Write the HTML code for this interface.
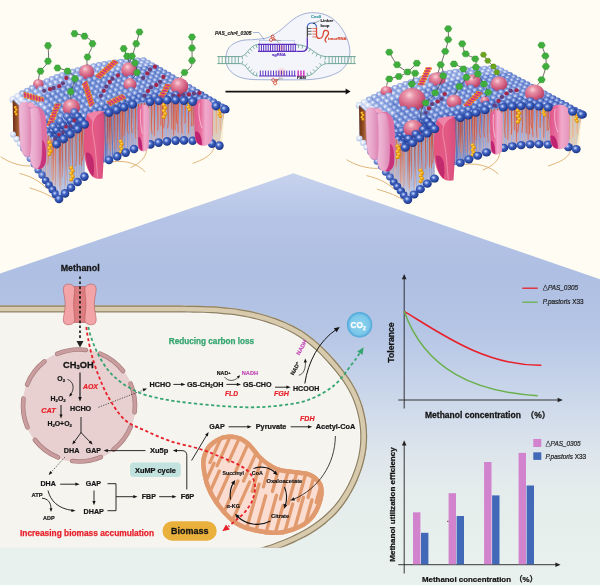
<!DOCTYPE html>
<html lang="en"><head><meta charset="utf-8"><title>Graphical abstract</title>
<style>
html,body{margin:0;padding:0;background:#fefcf3;}
body{width:600px;height:585px;overflow:hidden;}
svg{display:block;will-change:transform;font-family:"Liberation Sans","Noto Sans CJK SC",sans-serif;}
</style></head><body>
<svg width="600" height="585" viewBox="0 0 600 585">
<defs><linearGradient id="bg" gradientUnits="userSpaceOnUse" x1="0" y1="173" x2="0" y2="585"><stop offset="0" stop-color="#c7d2ed"/><stop offset="0.11" stop-color="#b5c4e6"/><stop offset="0.24" stop-color="#aebfe3"/><stop offset="0.38" stop-color="#b5c5e5"/><stop offset="0.5" stop-color="#c5d2e9"/><stop offset="0.6" stop-color="#d3ddeb"/><stop offset="0.7" stop-color="#dfe7ec"/><stop offset="0.79" stop-color="#e5edec"/><stop offset="0.91" stop-color="#e8f0ed"/><stop offset="1" stop-color="#e9f1ee"/></linearGradient></defs>
<rect width="600" height="585" fill="#fefcf3"/>
<polygon points="0,273.6 293.3,173.3 600,279.3 600,585 0,585" fill="url(#bg)"/>
<defs><path id="cellp" d="M-20,305.6C-18.45,305.6 -13.8,305.6 -10.71,305.6C-7.61,305.6 -4.51,305.6 -1.41,305.6C1.68,305.6 4.78,305.6 7.88,305.6C10.98,305.6 14.07,305.6 17.17,305.6C20.27,305.6 23.37,305.6 26.46,305.6C29.56,305.6 32.66,305.6 35.76,305.6C38.85,305.6 41.95,305.6 45.05,305.6C48.15,305.6 51.24,305.6 54.34,305.6C57.44,305.6 60.54,305.6 63.63,305.6C66.73,305.6 69.83,305.6 72.93,305.6C76.03,305.6 79.12,305.6 82.22,305.6C85.32,305.6 88.42,305.6 91.51,305.6C94.61,305.6 97.71,305.6 100.81,305.6C103.9,305.6 107,305.6 110.1,305.6C113.2,305.6 116.29,305.6 119.39,305.6C122.49,305.6 125.59,305.6 128.68,305.6C131.78,305.6 134.88,305.6 137.98,305.6C141.07,305.6 144.17,305.6 147.27,305.6C150.37,305.6 153.47,305.6 156.56,305.6C159.66,305.6 162.76,305.6 165.86,305.6C168.95,305.6 172.05,305.6 175.15,305.61C178.25,305.62 181.34,305.62 184.44,305.65C187.54,305.67 190.63,305.69 193.73,305.75C196.83,305.8 199.92,305.86 203.02,305.97C206.11,306.07 209.2,306.19 212.29,306.37C215.38,306.54 218.47,306.74 221.55,307C224.63,307.26 227.71,307.57 230.78,307.93C233.85,308.3 236.92,308.71 239.97,309.2C243.02,309.69 246.06,310.23 249.09,310.85C252.11,311.46 255.13,312.15 258.12,312.9C261.11,313.66 264.09,314.48 267.04,315.38C269.99,316.28 272.92,317.25 275.82,318.31C278.72,319.36 281.6,320.48 284.42,321.69C287.25,322.91 290.05,324.2 292.78,325.59C295.51,326.99 298.2,328.48 300.81,330.09C303.43,331.69 305.98,333.4 308.45,335.21C310.93,337.02 313.33,338.94 315.67,340.93C318.01,342.92 320.28,345.01 322.5,347.15C324.73,349.28 326.89,351.49 329.01,353.73C331.14,355.97 333.21,358.27 335.24,360.6C337.27,362.92 339.27,365.29 341.2,367.7C343.12,370.11 345.01,372.55 346.8,375.05C348.59,377.56 350.32,380.1 351.91,382.72C353.51,385.33 355.01,388.01 356.37,390.74C357.74,393.48 358.97,396.29 360.08,399.14C361.18,401.99 362.15,404.9 363,407.85C363.84,410.79 364.56,413.78 365.15,416.78C365.73,419.79 366.2,422.83 366.53,425.87C366.85,428.92 367.06,431.98 367.11,435.04C367.17,438.1 367.08,441.17 366.85,444.21C366.62,447.26 366.24,450.3 365.73,453.32C365.22,456.33 364.55,459.33 363.78,462.29C363.01,465.25 362.09,468.19 361.08,471.09C360.08,473.99 358.96,476.87 357.75,479.69C356.54,482.52 355.23,485.31 353.83,488.04C352.43,490.78 350.94,493.47 349.34,496.08C347.74,498.7 346.05,501.26 344.24,503.74C342.44,506.21 340.53,508.61 338.52,510.92C336.51,513.23 334.4,515.46 332.2,517.58C329.99,519.71 327.69,521.74 325.31,523.68C322.94,525.61 320.47,527.45 317.94,529.2C315.42,530.94 312.81,532.59 310.16,534.16C307.52,535.73 304.81,537.21 302.07,538.62C299.33,540.04 296.54,541.37 293.73,542.66C290.92,543.94 288.08,545.15 285.21,546.31C282.35,547.47 279.46,548.57 276.55,549.63C273.64,550.68 270.71,551.67 267.77,552.63C264.83,553.59 261.87,554.49 258.91,555.38C255.95,556.28 251.49,557.56 250,558L-20,600Z"/></defs>
<clipPath id="cellclip"><rect x="0" y="0" width="600" height="547.5"/></clipPath>
<g clip-path="url(#cellclip)">
<use href="#cellp" fill="#f5f4ef"/>
<clipPath id="cellin"><use href="#cellp"/></clipPath>
<g clip-path="url(#cellin)" fill="none">
<use href="#cellp" stroke="#fcfcfa" stroke-width="15"/>
<use href="#cellp" stroke="#8d8065" stroke-width="13.8"/>
<use href="#cellp" stroke="#d8caad" stroke-width="11.4"/>
<use href="#cellp" stroke="#8d8065" stroke-width="2.4"/>
</g>
</g>
<circle cx="79" cy="405.5" r="56.5" fill="#e7d0cf"/>
<path d="M57.12,353.95 A56,56 0 0 1 85.82,349.92" fill="none" stroke="#a67a7c" stroke-width="4.6" stroke-linecap="round"/>
<path d="M57.12,353.95 A56,56 0 0 1 85.82,349.92" fill="none" stroke="#c99c9d" stroke-width="3.3" stroke-linecap="round"/>
<path d="M99.98,353.58 A56,56 0 0 1 123.13,371.02" fill="none" stroke="#a67a7c" stroke-width="4.6" stroke-linecap="round"/>
<path d="M99.98,353.58 A56,56 0 0 1 123.13,371.02" fill="none" stroke="#c99c9d" stroke-width="3.3" stroke-linecap="round"/>
<path d="M130.55,383.62 A56,56 0 0 1 134.58,412.32" fill="none" stroke="#a67a7c" stroke-width="4.6" stroke-linecap="round"/>
<path d="M130.55,383.62 A56,56 0 0 1 134.58,412.32" fill="none" stroke="#c99c9d" stroke-width="3.3" stroke-linecap="round"/>
<path d="M130.92,426.48 A56,56 0 0 1 113.48,449.63" fill="none" stroke="#a67a7c" stroke-width="4.6" stroke-linecap="round"/>
<path d="M130.92,426.48 A56,56 0 0 1 113.48,449.63" fill="none" stroke="#c99c9d" stroke-width="3.3" stroke-linecap="round"/>
<path d="M100.88,457.05 A56,56 0 0 1 72.18,461.08" fill="none" stroke="#a67a7c" stroke-width="4.6" stroke-linecap="round"/>
<path d="M100.88,457.05 A56,56 0 0 1 72.18,461.08" fill="none" stroke="#c99c9d" stroke-width="3.3" stroke-linecap="round"/>
<path d="M58.02,457.42 A56,56 0 0 1 34.87,439.98" fill="none" stroke="#a67a7c" stroke-width="4.6" stroke-linecap="round"/>
<path d="M58.02,457.42 A56,56 0 0 1 34.87,439.98" fill="none" stroke="#c99c9d" stroke-width="3.3" stroke-linecap="round"/>
<path d="M27.45,427.38 A56,56 0 0 1 23.42,398.68" fill="none" stroke="#a67a7c" stroke-width="4.6" stroke-linecap="round"/>
<path d="M27.45,427.38 A56,56 0 0 1 23.42,398.68" fill="none" stroke="#c99c9d" stroke-width="3.3" stroke-linecap="round"/>
<path d="M27.08,384.52 A56,56 0 0 1 44.52,361.37" fill="none" stroke="#a67a7c" stroke-width="4.6" stroke-linecap="round"/>
<path d="M27.08,384.52 A56,56 0 0 1 44.52,361.37" fill="none" stroke="#c99c9d" stroke-width="3.3" stroke-linecap="round"/>
<path d="M201.2,465C200.78,459.08 202.03,455.75 203.5,452C204.97,448.25 206.83,445.25 210,442.5C213.17,439.75 217.92,436.67 222.5,435.5C227.08,434.33 232.92,434.33 237.5,435.5C242.08,436.67 245.83,438.92 250,442.5C254.17,446.08 257.92,452.92 262.5,457C267.08,461.08 272.08,464.83 277.5,467C282.92,469.17 289.58,469.08 295,470C300.42,470.92 305.83,470.83 310,472.5C314.17,474.17 317.72,477.08 320,480C322.28,482.92 323.53,485.83 323.7,490C323.87,494.17 322.87,500 321,505C319.13,510 316.42,515.83 312.5,520C308.58,524.17 303.33,527.5 297.5,530C291.67,532.5 284.58,534.58 277.5,535C270.42,535.42 262.08,534.17 255,532.5C247.92,530.83 241.25,529.17 235,525C228.75,520.83 222.33,513.75 217.5,507.5C212.67,501.25 208.72,494.58 206,487.5C203.28,480.42 201.62,470.92 201.2,465Z" fill="#e19a6d"/>
<clipPath id="mitoc"><path d="M201.2,465C200.78,459.08 202.03,455.75 203.5,452C204.97,448.25 206.83,445.25 210,442.5C213.17,439.75 217.92,436.67 222.5,435.5C227.08,434.33 232.92,434.33 237.5,435.5C242.08,436.67 245.83,438.92 250,442.5C254.17,446.08 257.92,452.92 262.5,457C267.08,461.08 272.08,464.83 277.5,467C282.92,469.17 289.58,469.08 295,470C300.42,470.92 305.83,470.83 310,472.5C314.17,474.17 317.72,477.08 320,480C322.28,482.92 323.53,485.83 323.7,490C323.87,494.17 322.87,500 321,505C319.13,510 316.42,515.83 312.5,520C308.58,524.17 303.33,527.5 297.5,530C291.67,532.5 284.58,534.58 277.5,535C270.42,535.42 262.08,534.17 255,532.5C247.92,530.83 241.25,529.17 235,525C228.75,520.83 222.33,513.75 217.5,507.5C212.67,501.25 208.72,494.58 206,487.5C203.28,480.42 201.62,470.92 201.2,465Z"/></clipPath>
<g clip-path="url(#mitoc)">
<path d="M201.2,465C200.78,459.08 202.03,455.75 203.5,452C204.97,448.25 206.83,445.25 210,442.5C213.17,439.75 217.92,436.67 222.5,435.5C227.08,434.33 232.92,434.33 237.5,435.5C242.08,436.67 245.83,438.92 250,442.5C254.17,446.08 257.92,452.92 262.5,457C267.08,461.08 272.08,464.83 277.5,467C282.92,469.17 289.58,469.08 295,470C300.42,470.92 305.83,470.83 310,472.5C314.17,474.17 317.72,477.08 320,480C322.28,482.92 323.53,485.83 323.7,490C323.87,494.17 322.87,500 321,505C319.13,510 316.42,515.83 312.5,520C308.58,524.17 303.33,527.5 297.5,530C291.67,532.5 284.58,534.58 277.5,535C270.42,535.42 262.08,534.17 255,532.5C247.92,530.83 241.25,529.17 235,525C228.75,520.83 222.33,513.75 217.5,507.5C212.67,501.25 208.72,494.58 206,487.5C203.28,480.42 201.62,470.92 201.2,465Z" fill="#fbdcd1" stroke="#e19a6d" stroke-width="9"/>
<line x1="229.25" y1="419.72" x2="209.95" y2="462.61" stroke="#e19a6d" stroke-width="3.3" stroke-linecap="round"/>
<line x1="192.93" y1="510.05" x2="214" y2="463.24" stroke="#e19a6d" stroke-width="3.3" stroke-linecap="round"/>
<line x1="237.52" y1="420.38" x2="217.07" y2="465.81" stroke="#e19a6d" stroke-width="3.3" stroke-linecap="round"/>
<line x1="201.46" y1="510.74" x2="219.32" y2="471.04" stroke="#e19a6d" stroke-width="3.3" stroke-linecap="round"/>
<line x1="246.57" y1="421.92" x2="228.81" y2="461.37" stroke="#e19a6d" stroke-width="3.3" stroke-linecap="round"/>
<line x1="210.59" y1="515.09" x2="228.51" y2="475.25" stroke="#e19a6d" stroke-width="3.3" stroke-linecap="round"/>
<line x1="255.19" y1="427.96" x2="235.35" y2="472.06" stroke="#e19a6d" stroke-width="3.3" stroke-linecap="round"/>
<line x1="219.69" y1="521.46" x2="237.91" y2="480.97" stroke="#e19a6d" stroke-width="3.3" stroke-linecap="round"/>
<line x1="264.46" y1="434.44" x2="243.52" y2="480.97" stroke="#e19a6d" stroke-width="3.3" stroke-linecap="round"/>
<line x1="229.09" y1="527.82" x2="249.76" y2="481.9" stroke="#e19a6d" stroke-width="3.3" stroke-linecap="round"/>
<line x1="266.42" y1="440.73" x2="252.22" y2="491.45" stroke="#e19a6d" stroke-width="3.3" stroke-linecap="round"/>
<line x1="245.27" y1="533.37" x2="259.08" y2="484.07" stroke="#e19a6d" stroke-width="3.3" stroke-linecap="round"/>
<line x1="274.82" y1="446.19" x2="263.42" y2="486.93" stroke="#e19a6d" stroke-width="3.3" stroke-linecap="round"/>
<line x1="253.76" y1="538.49" x2="265.72" y2="495.79" stroke="#e19a6d" stroke-width="3.3" stroke-linecap="round"/>
<line x1="283.94" y1="450.28" x2="272.42" y2="491.45" stroke="#e19a6d" stroke-width="3.3" stroke-linecap="round"/>
<line x1="263.44" y1="541.97" x2="276.51" y2="495.31" stroke="#e19a6d" stroke-width="3.3" stroke-linecap="round"/>
<line x1="293.09" y1="453.58" x2="280.33" y2="499.15" stroke="#e19a6d" stroke-width="3.3" stroke-linecap="round"/>
<line x1="271.96" y1="545.04" x2="283.08" y2="505.33" stroke="#e19a6d" stroke-width="3.3" stroke-linecap="round"/>
<line x1="301.41" y1="456.57" x2="288.2" y2="503.74" stroke="#e19a6d" stroke-width="3.3" stroke-linecap="round"/>
<line x1="280.72" y1="546.72" x2="292.7" y2="503.95" stroke="#e19a6d" stroke-width="3.3" stroke-linecap="round"/>
<line x1="310.63" y1="456.31" x2="298.18" y2="500.75" stroke="#e19a6d" stroke-width="3.3" stroke-linecap="round"/>
<line x1="289.79" y1="545.94" x2="303.37" y2="497.41" stroke="#e19a6d" stroke-width="3.3" stroke-linecap="round"/>
<line x1="319.82" y1="455.52" x2="308.08" y2="497.45" stroke="#e19a6d" stroke-width="3.3" stroke-linecap="round"/>
<line x1="299.31" y1="545.12" x2="312" y2="499.82" stroke="#e19a6d" stroke-width="3.3" stroke-linecap="round"/>
<line x1="329.56" y1="454.69" x2="316.19" y2="502.44" stroke="#e19a6d" stroke-width="3.3" stroke-linecap="round"/>
<line x1="308.71" y1="544.32" x2="322.92" y2="493.55" stroke="#e19a6d" stroke-width="3.3" stroke-linecap="round"/>
</g>
<rect x="72" y="286.5" width="15.5" height="36" fill="#dd7d80" stroke="#b4595e" stroke-width="0.6"/>
<path d="M66.5,284.3 C70.5,283.6 74.2,285.2 74.6,288.5 C75,293 73.6,298 73.6,304.5 C73.6,311 75,316 74.6,320.5 C74.2,323.8 70.5,325.2 66.5,324.6 C63.6,324 63,321 63.5,317.5 C64.2,313 65.2,309 65.2,304.5 C65.2,300 64.2,296 63.5,291.5 C63,288 63.6,285 66.5,284.3Z" fill="#f2a4a6" stroke="#b4595e" stroke-width="0.6"/>
<path d="M66.5,284.3 C70.5,283.6 74.2,285.2 74.6,288.5 C75,293 73.6,298 73.6,304.5 C73.6,311 75,316 74.6,320.5 C74.2,323.8 70.5,325.2 66.5,324.6 C63.6,324 63,321 63.5,317.5 C64.2,313 65.2,309 65.2,304.5 C65.2,300 64.2,296 63.5,291.5 C63,288 63.6,285 66.5,284.3Z" fill="#f2a4a6" stroke="#b4595e" stroke-width="0.6" transform="translate(159.5,0) scale(-1,1)"/>
<text x="60.7" y="271" font-size="8.89" fill="#151515" font-weight="bold" stroke="#151515" stroke-width="0.27">Methanol</text>
<line x1="80" y1="276.5" x2="80" y2="340" stroke="#111" stroke-width="1.6" stroke-dasharray="2.6,2.3"/>
<polygon points="80,347.5 76.5,341 83.5,341" fill="#222"/>
<text x="63" y="367.6" font-size="9.3" fill="#151515" font-weight="bold" stroke="#151515" stroke-width="0.28">CH<tspan dy="1.67" font-size="5.77">3</tspan><tspan dy="-1.67" font-size="9.3">&#8203;</tspan>OH</text>
<line x1="80" y1="372.5" x2="80" y2="397.82" stroke="#151515" stroke-width="1.1"/><polygon points="80,401.5 78.2,396.9 81.8,396.9" fill="#151515"/>
<text x="57.3" y="380.8" font-size="6.9" fill="#151515" font-weight="bold" stroke="#151515" stroke-width="0.21">O<tspan dy="1.24" font-size="4.28">2</tspan><tspan dy="-1.24" font-size="6.9">&#8203;</tspan></text>
<text x="50.6" y="400.6" font-size="6.9" fill="#151515" font-weight="bold" stroke="#151515" stroke-width="0.21">H<tspan dy="1.24" font-size="4.28">2</tspan><tspan dy="-1.24" font-size="6.9">&#8203;</tspan>O<tspan dy="1.24" font-size="4.28">2</tspan><tspan dy="-1.24" font-size="6.9">&#8203;</tspan></text>
<path d="M67.5,379.5 C73,381 75,388 71,394" fill="none" stroke="#151515" stroke-width="0.8"/><polygon points="69.2,396.8 70.04,392.99 72.49,394.71" fill="#151515"/>
<text x="83" y="388.7" font-size="6.92" fill="#e8202a" font-weight="bold" stroke="#e8202a" stroke-width="0.21" font-style="italic">AOX</text>
<text x="41.2" y="412.6" font-size="7.32" fill="#e8202a" font-weight="bold" stroke="#e8202a" stroke-width="0.22" font-style="italic">CAT</text>
<text x="70" y="410.8" font-size="7.2" fill="#151515" font-weight="bold" stroke="#151515" stroke-width="0.22">HCHO</text>
<line x1="61" y1="405" x2="61" y2="415.3" stroke="#151515" stroke-width="1"/><polygon points="61,418.5 59.4,414.5 62.6,414.5" fill="#151515"/>
<text x="47.4" y="425.8" font-size="6.9" fill="#151515" font-weight="bold" stroke="#151515" stroke-width="0.21">H<tspan dy="1.24" font-size="4.28">2</tspan><tspan dy="-1.24" font-size="6.9">&#8203;</tspan>O+O<tspan dy="1.24" font-size="4.28">2</tspan><tspan dy="-1.24" font-size="6.9">&#8203;</tspan></text>
<line x1="81" y1="417" x2="81" y2="433" stroke="#151515" stroke-width="0.9"/>
<line x1="81" y1="432.6" x2="74.18" y2="442.01" stroke="#151515" stroke-width="0.9"/><polygon points="72.3,444.6 73.35,440.42 75.94,442.3" fill="#151515"/>
<line x1="81" y1="432.6" x2="90.38" y2="442.3" stroke="#151515" stroke-width="0.9"/><polygon points="92.6,444.6 88.67,442.84 90.97,440.61" fill="#151515"/>
<text x="63.8" y="453.1" font-size="7.2" fill="#151515" font-weight="bold" stroke="#151515" stroke-width="0.22">DHA</text>
<text x="85.8" y="453.1" font-size="6.92" fill="#151515" font-weight="bold" stroke="#151515" stroke-width="0.21">GAP</text>
<line x1="98.5" y1="407.3" x2="143.86" y2="389.81" stroke="#151515" stroke-width="0.7" stroke-dasharray="1.2,1.3"/><polygon points="147,388.6 143.66,391.6 142.51,388.62" fill="#151515"/>
<line x1="65" y1="457" x2="50.76" y2="472.63" stroke="#151515" stroke-width="0.7" stroke-dasharray="1.2,1.3"/><polygon points="48.6,475 50.19,471.03 52.4,473.05" fill="#151515"/>
<text x="40.5" y="486.2" font-size="7.06" fill="#151515" font-weight="bold" stroke="#151515" stroke-width="0.21">DHA</text>
<line x1="60.2" y1="484.2" x2="76.24" y2="484.2" stroke="#151515" stroke-width="0.9"/><polygon points="79.6,484.2 75.4,485.8 75.4,482.6" fill="#151515"/>
<text x="85.8" y="486.2" font-size="7.01" fill="#151515" font-weight="bold" stroke="#151515" stroke-width="0.21">GAP</text>
<line x1="94" y1="490.5" x2="94" y2="501.84" stroke="#151515" stroke-width="0.9"/><polygon points="94,505.2 92.4,501 95.6,501" fill="#151515"/>
<text x="83.6" y="513.8" font-size="7.13" fill="#151515" font-weight="bold" stroke="#151515" stroke-width="0.21">DHAP</text>
<text x="31.5" y="496.8" font-size="5.76" fill="#151515" font-weight="bold" stroke="#151515" stroke-width="0.17">ATP</text>
<text x="43" y="519.6" font-size="5.49" fill="#151515" font-weight="bold" stroke="#151515" stroke-width="0.16">ADP</text>
<path d="M48,490.5 C50.5,501 58,508.5 72.5,510.5" fill="none" stroke="#151515" stroke-width="0.9"/><polygon points="75.6,510.8 71.3,512.1 71.52,508.91" fill="#151515"/>
<path d="M42,498.2 C48,498.5 51,503 51,508.5" fill="none" stroke="#151515" stroke-width="0.9"/><polygon points="51,512 49.5,508.2 52.5,508.2" fill="#151515"/>
<path d="M107.5,483.7 H116 V510.7 H107.5" fill="none" stroke="#151515" stroke-width="0.9"/>
<line x1="116" y1="496.7" x2="134.14" y2="496.7" stroke="#151515" stroke-width="0.9"/><polygon points="137.5,496.7 133.3,498.3 133.3,495.1" fill="#151515"/>
<text x="141.8" y="499.2" font-size="7" fill="#151515" font-weight="bold" stroke="#151515" stroke-width="0.21">FBP</text>
<line x1="159.2" y1="496.7" x2="173.14" y2="496.7" stroke="#151515" stroke-width="0.9"/><polygon points="176.5,496.7 172.3,498.3 172.3,495.1" fill="#151515"/>
<text x="180.7" y="499.2" font-size="7.42" fill="#151515" font-weight="bold" stroke="#151515" stroke-width="0.22">F6P</text>
<path d="M186.8,489.5 V455.5 Q186.8,450.6 182,450.6 H176" fill="none" stroke="#151515" stroke-width="0.9"/><polygon points="172.8,450.6 177,449 177,452.2" fill="#151515"/>
<text x="150" y="453.1" font-size="7.49" fill="#151515" font-weight="bold" stroke="#151515" stroke-width="0.22">Xu5p</text>
<line x1="145.5" y1="450.6" x2="106.96" y2="450.6" stroke="#151515" stroke-width="0.9"/><polygon points="103.6,450.6 107.8,449 107.8,452.2" fill="#151515"/>
<line x1="191.6" y1="460.5" x2="206.88" y2="434.89" stroke="#151515" stroke-width="0.9"/><polygon points="208.6,432 207.82,436.43 205.07,434.79" fill="#151515"/>
<rect x="130" y="462.5" width="50.8" height="14.6" rx="4" fill="#c2e2df"/>
<text x="135" y="472.6" font-size="7.4" fill="#151515" font-weight="bold" stroke="#151515" stroke-width="0.22">XuMP cycle</text>
<text x="149.6" y="387" font-size="7.2" fill="#151515" font-weight="bold" stroke="#151515" stroke-width="0.22">HCHO</text>
<line x1="173.4" y1="384.4" x2="182.04" y2="384.4" stroke="#151515" stroke-width="0.9"/><polygon points="185.4,384.4 181.2,386 181.2,382.8" fill="#151515"/>
<text x="187" y="387" font-size="7.2" fill="#151515" font-weight="bold" stroke="#151515" stroke-width="0.22">GS-CH<tspan dy="1.3" font-size="4.46">2</tspan><tspan dy="-1.3" font-size="7.2">&#8203;</tspan>OH</text>
<line x1="226.4" y1="384.4" x2="237.64" y2="384.4" stroke="#151515" stroke-width="0.9"/><polygon points="241,384.4 236.8,386 236.8,382.8" fill="#151515"/>
<text x="243" y="387" font-size="7.15" fill="#151515" font-weight="bold" stroke="#151515" stroke-width="0.21">GS-CHO</text>
<line x1="275" y1="387.2" x2="287.24" y2="387.2" stroke="#151515" stroke-width="0.9"/><polygon points="290.6,387.2 286.4,388.8 286.4,385.6" fill="#151515"/>
<text x="293" y="391.2" font-size="7.09" fill="#151515" font-weight="bold" stroke="#151515" stroke-width="0.21">HCOOH</text>
<text x="216.8" y="375.3" font-size="5.3" fill="#151515" font-weight="bold" stroke="#151515" stroke-width="0.16">NAD<tspan dy="-1.8" font-size="4">+</tspan></text>
<text x="241.8" y="375.2" font-size="5.61" fill="#c247b5" font-weight="bold" stroke="#c247b5" stroke-width="0.17">NADH</text>
<path d="M224.5,377 C228,381.5 234,381.5 238,377.5" fill="none" stroke="#151515" stroke-width="0.7"/><polygon points="240.2,375.2 238.79,378.59 236.81,376.61" fill="#151515"/>
<text x="225" y="395.7" font-size="6.69" fill="#e8202a" font-weight="bold" stroke="#e8202a" stroke-width="0.2" font-style="italic">FLD</text>
<text x="274" y="395.7" font-size="7.11" fill="#e8202a" font-weight="bold" stroke="#e8202a" stroke-width="0.21" font-style="italic">FGH</text>
<g transform="translate(293.6,375.6) rotate(-62)"><text x="0" y="0" font-size="5.4" fill="#151515" font-weight="bold" stroke="#151515" stroke-width="0.16">NAD<tspan dy="-1.8" font-size="4">+</tspan></text></g>
<g transform="translate(299.6,355.4) rotate(-62)"><text x="0" y="0" font-size="5.6" fill="#c247b5" font-weight="bold" stroke="#c247b5" stroke-width="0.17">NADH</text></g>
<path d="M298.8,375.2 C303.5,374.5 305.8,368.5 305.4,362" fill="none" stroke="#151515" stroke-width="0.7"/><polygon points="305.2,358.4 307.01,362.31 303.81,362.48" fill="#151515"/>
<path d="M304.8,383.5 C308,362 319,341 336.5,329.3" fill="none" stroke="#151515" stroke-width="1"/><polygon points="339.8,327 336.59,332.18 333.84,328.25" fill="#151515"/>
<defs><radialGradient id="co2" cx="0.5" cy="0.5" r="0.5"><stop offset="0" stop-color="#8fd2ef"/><stop offset="0.75" stop-color="#7cc8ea"/><stop offset="1" stop-color="#4da5d8"/></radialGradient></defs>
<circle cx="359.6" cy="324.8" r="12.7" fill="url(#co2)"/>
<text x="350.6" y="328.2" font-size="8.2" fill="#ffffff" font-weight="bold" stroke="#ffffff" stroke-width="0.25">CO<tspan dy="1.48" font-size="5.08">2</tspan><tspan dy="-1.48" font-size="8.2">&#8203;</tspan></text>
<text x="168.8" y="344.2" font-size="8.18" fill="#34a56f" font-weight="bold" stroke="#34a56f" stroke-width="0.25">Reducing carbon loss</text>
<text x="209.3" y="429.3" font-size="7.15" fill="#151515" font-weight="bold" stroke="#151515" stroke-width="0.21">GAP</text>
<line x1="228.6" y1="426.8" x2="248.24" y2="426.8" stroke="#151515" stroke-width="0.9"/><polygon points="251.6,426.8 247.4,428.4 247.4,425.2" fill="#151515"/>
<text x="255.8" y="429.3" font-size="7.24" fill="#151515" font-weight="bold" stroke="#151515" stroke-width="0.22">Pyruvate</text>
<line x1="290.6" y1="426.8" x2="308.84" y2="426.8" stroke="#151515" stroke-width="0.9"/><polygon points="312.2,426.8 308,428.4 308,425.2" fill="#151515"/>
<text x="315.8" y="429.3" font-size="7.35" fill="#151515" font-weight="bold" stroke="#151515" stroke-width="0.22">Acetyl-CoA</text>
<text x="300" y="421" font-size="7.06" fill="#e8202a" font-weight="bold" stroke="#e8202a" stroke-width="0.21" font-style="italic">FDH</text>
<text x="20" y="535.8" font-size="8.36" fill="#e8202a" font-weight="bold" stroke="#e8202a" stroke-width="0.25">Increasing biomass accumulation</text>
<rect x="162.5" y="521.2" width="54.2" height="19.5" rx="9.7" fill="#e9b13c"/>
<text x="171" y="534" font-size="8.97" fill="#151515" font-weight="bold" stroke="#151515" stroke-width="0.27">Biomass</text>
<path d="M86.3,327C86.58,328.83 87.05,333.17 88,338C88.95,342.83 90.08,349.33 92,356C93.92,362.67 96.5,370.67 99.5,378C102.5,385.33 105.75,393 110,400C114.25,407 119.17,414.92 125,420C130.83,425.08 137.5,427 145,430.5C152.5,434 160.83,437.92 170,441C179.17,444.08 191.33,446.25 200,449C208.67,451.75 215.33,454.75 222,457.5C228.67,460.25 235.25,462.75 240,465.5C244.75,468.25 248,470.58 250.5,474C253,477.42 254.67,481.67 255,486C255.33,490.33 254.17,495.67 252.5,500C250.83,504.33 247.92,508.5 245,512C242.08,515.5 237.75,518.58 235,521C232.25,523.42 229.58,525.58 228.5,526.5" fill="none" stroke="#e8202a" stroke-width="1.8" stroke-dasharray="3.2,2.5"/>
<polygon points="222.3,531.2 225.96,524.43 229.82,529.54" fill="#e8202a"/>
<path d="M88.3,327C88.75,328.67 89.47,332.67 91,337C92.53,341.33 94.67,347.5 97.5,353C100.33,358.5 103.92,365 108,370C112.08,375 116.67,379.17 122,383C127.33,386.83 133.67,390.42 140,393C146.33,395.58 153.33,397.03 160,398.5C166.67,399.97 170.83,400.63 180,401.8C189.17,402.97 203.33,404.58 215,405.5C226.67,406.42 239.17,407.3 250,407.3C260.83,407.3 270.33,406.72 280,405.5C289.67,404.28 299,403.33 308,400C317,396.67 326.67,391.5 334,385.5C341.33,379.5 347.75,369.33 352,364C356.25,358.67 358.25,355.25 359.5,353.5" fill="none" stroke="#34a56f" stroke-width="1.8" stroke-dasharray="3.2,2.5"/>
<polygon points="363.6,347.2 362.6,354.83 357.18,351.44" fill="#34a56f"/>
<text x="222.5" y="475" font-size="5.23" fill="#151515" font-weight="bold" stroke="#151515" stroke-width="0.16">Succinyl</text>
<text x="251.8" y="475" font-size="5.35" fill="#151515" font-weight="bold" stroke="#151515" stroke-width="0.16">CoA</text>
<text x="266.4" y="483" font-size="5.78" fill="#151515" font-weight="bold" stroke="#151515" stroke-width="0.17">Oxaloacetate</text>
<text x="271" y="517.6" font-size="5.75" fill="#151515" font-weight="bold" stroke="#151515" stroke-width="0.17">Citrate</text>
<text x="226.6" y="507.6" font-size="5.5" fill="#151515" font-weight="bold" stroke="#151515" stroke-width="0.16">α-KG</text>
<path d="M253.5,468.6 C261,465.5 270,467.5 275.5,473" fill="none" stroke="#151515" stroke-width="1.1"/><polygon points="277.8,475.2 273.04,473.61 275.72,470.64" fill="#151515"/>
<path d="M284.5,487 C287,493 287,500 285.3,505.5" fill="none" stroke="#151515" stroke-width="1.1"/><polygon points="284.2,508.8 283.55,503.83 287.39,504.93" fill="#151515"/>
<path d="M270.5,521 C259,527 246,524.5 237.5,516.5" fill="none" stroke="#151515" stroke-width="1.1"/><polygon points="235,513.8 239.67,515.64 236.84,518.47" fill="#151515"/>
<path d="M230.5,499.5 C229.5,492.5 231,486.5 233.6,482.4" fill="none" stroke="#151515" stroke-width="1.1"/><polygon points="235.2,480 234.46,484.96 231.07,482.84" fill="#151515"/>
<path d="M335.4,436 C335,465 318,489 293.5,499.3" fill="none" stroke="#151515" stroke-width="0.8"/><polygon points="290.3,500.6 293.71,497.28 295.05,500.62" fill="#151515"/>
<line x1="404.2" y1="408.5" x2="404.2" y2="278" stroke="#222" stroke-width="0.9"/>
<polygon points="404.2,274 406.5,279.2 401.9,279.2" fill="#222"/>
<line x1="398.3" y1="400" x2="559" y2="400" stroke="#222" stroke-width="0.9"/>
<polygon points="562.8,400 557.6,402.3 557.6,397.7" fill="#222"/>
<path d="M404.2,311.3 C440,333 485,366 541.3,365.2" fill="none" stroke="#e8202a" stroke-width="1.5"/>
<path d="M404.2,311.3 C425,370 475,392 537.7,395.7" fill="none" stroke="#6ab04c" stroke-width="1.5"/>
<line x1="522.3" y1="288.2" x2="537.7" y2="288.2" stroke="#e8202a" stroke-width="1.3"/>
<line x1="522.3" y1="302.2" x2="537.7" y2="302.2" stroke="#6ab04c" stroke-width="1.3"/>
<text x="542.8" y="290.4" font-size="6.4" fill="#222" font-style="italic" stroke="#222" stroke-width="0.2"><tspan font-style="normal" font-size="5.2">△</tspan>PAS_0305</text>
<text x="542.8" y="304.4" font-size="6.4" fill="#222" stroke="#222" stroke-width="0.2"><tspan font-style="italic">P.pastoris</tspan> X33</text>
<g transform="translate(394,342.5) rotate(-90)"><text x="0" y="0" font-size="8.7" fill="#151515" font-weight="bold" stroke="#151515" stroke-width="0.26" text-anchor="middle">Tolerance</text></g>
<text x="425" y="418.2" font-size="8.5" fill="#151515" font-weight="bold" stroke="#151515" stroke-width="0.26">Methanol concentration <tspan dx="2.5">（%）</tspan></text>
<line x1="404.2" y1="573.5" x2="404.2" y2="444" stroke="#222" stroke-width="0.9"/>
<polygon points="404.2,440.2 406.5,445.4 401.9,445.4" fill="#222"/>
<line x1="398.3" y1="564.7" x2="557" y2="564.7" stroke="#222" stroke-width="0.9"/>
<polygon points="560.6,564.7 555.4,567 555.4,562.4" fill="#222"/>
<rect x="413" y="512.3" width="7.4" height="52" fill="#d283cd"/>
<rect x="421" y="532.8" width="7.4" height="31.5" fill="#4169b8"/>
<rect x="448.6" y="493.2" width="7.4" height="71.1" fill="#d283cd"/>
<rect x="456.6" y="516" width="7.4" height="48.3" fill="#4169b8"/>
<rect x="484.1" y="462" width="7.4" height="102.3" fill="#d283cd"/>
<rect x="492.1" y="495.4" width="7.4" height="68.9" fill="#4169b8"/>
<rect x="518.6" y="452.9" width="7.4" height="111.4" fill="#d283cd"/>
<rect x="526.6" y="485.5" width="7.4" height="78.8" fill="#4169b8"/>
<rect x="533.3" y="439" width="8" height="8" fill="#d283cd"/>
<rect x="533.3" y="452.3" width="8" height="7.6" fill="#4169b8"/>
<text x="545.4" y="446" font-size="6.4" fill="#222" font-style="italic" stroke="#222" stroke-width="0.2"><tspan font-style="normal" font-size="5.2">△</tspan>PAS_0305</text>
<text x="545.4" y="458.8" font-size="6.4" fill="#222" stroke="#222" stroke-width="0.2"><tspan font-style="italic">P.pastoris</tspan> X33</text>
<g transform="translate(394.6,504.5) rotate(-90)"><text x="0" y="0" font-size="8.05" fill="#151515" font-weight="bold" stroke="#151515" stroke-width="0.24" text-anchor="middle">Methanol utilization efficiency</text></g>
<text x="422" y="582" font-size="7.9" fill="#151515" font-weight="bold" stroke="#151515" stroke-width="0.24">Methanol concentration <tspan dx="1.5">（%）</tspan></text>
<rect x="447" y="520.8" width="1.6" height="1" fill="#8a3a3a"/>
<path d="M225.8,60C225.72,56.25 226.55,50.7 229,47.5C231.45,44.3 236.17,42.13 240.5,40.8C244.83,39.47 250.42,40.05 255,39.5C259.58,38.95 263.83,39 268,37.5C272.17,36 276.17,33.25 280,30.5C283.83,27.75 287.33,23.67 291,21C294.67,18.33 298.25,15.88 302,14.5C305.75,13.12 309.5,12.62 313.5,12.7C317.5,12.78 322.08,13.37 326,15C329.92,16.63 333.83,19.33 337,22.5C340.17,25.67 342.9,29.75 345,34C347.1,38.25 349.02,43.67 349.6,48C350.18,52.33 349.85,56.33 348.5,60C347.15,63.67 344.75,67.3 341.5,70C338.25,72.7 333.58,74.67 329,76.2C324.42,77.73 319.17,78.6 314,79.2C308.83,79.8 305.33,79.7 298,79.8C290.67,79.9 278,79.88 270,79.8C262,79.72 255.33,79.85 250,79.3C244.67,78.75 241.42,78.05 238,76.5C234.58,74.95 231.53,72.75 229.5,70C227.47,67.25 225.88,63.75 225.8,60Z" fill="#f3f5fa" stroke="#6a7fc0" stroke-width="0.6"/>
<defs><radialGradient id="glow"><stop offset="0" stop-color="#f7a0a0" stop-opacity="0.75"/><stop offset="1" stop-color="#f7a0a0" stop-opacity="0"/></radialGradient></defs>
<circle cx="281" cy="48" r="5.5" fill="url(#glow)"/><circle cx="281.5" cy="72.5" r="5.5" fill="url(#glow)"/>
<path d="M218.92,56.6 V63.6 M222.16,56.6 V63.6 M225.41,56.6 V63.6 M228.65,56.6 V63.6 M231.89,56.6 V63.6 M235.14,56.6 V63.6 M238.38,56.6 V63.6" stroke="#6fa597" stroke-width="0.85" fill="none"/><line x1="217.3" y1="56.6" x2="240" y2="56.6" stroke="#6fa597" stroke-width="1"/><line x1="217.3" y1="63.6" x2="240" y2="63.6" stroke="#6fa597" stroke-width="1"/>
<path d="M329.07,56.6 V63.6 M332.22,56.6 V63.6 M335.36,56.6 V63.6 M338.51,56.6 V63.6 M341.65,56.6 V63.6 M344.79,56.6 V63.6 M347.94,56.6 V63.6 M351.08,56.6 V63.6 M354.23,56.6 V63.6" stroke="#6fa597" stroke-width="0.85" fill="none"/><line x1="327.5" y1="56.6" x2="355.8" y2="56.6" stroke="#6fa597" stroke-width="1"/><line x1="327.5" y1="63.6" x2="355.8" y2="63.6" stroke="#6fa597" stroke-width="1"/>
<polyline points="240,56.6 240.68,56.56 241.34,56.45 241.96,56.27 242.56,56.04 243.14,55.74 243.7,55.39 244.24,54.99 244.76,54.56 245.27,54.08 245.78,53.58 246.27,53.05 246.77,52.49 247.26,51.92 247.75,51.34 248.25,50.75 248.75,50.16 249.27,49.57 249.79,49 250.33,48.43 250.89,47.89 251.47,47.37 252.07,46.88 252.69,46.42 253.34,46 254.03,45.63 254.74,45.3 255.5,45.03 256.29,44.82 257.12,44.68 258,44.6" fill="none" stroke="#6fa597" stroke-width="1"/>
<polyline points="240,63.6 240.68,63.64 241.34,63.75 241.96,63.94 242.56,64.18 243.14,64.49 243.7,64.85 244.24,65.26 244.76,65.71 245.27,66.2 245.78,66.73 246.27,67.28 246.77,67.85 247.26,68.44 247.75,69.04 248.25,69.65 248.75,70.26 249.27,70.87 249.79,71.46 250.33,72.04 250.89,72.61 251.47,73.15 252.07,73.65 252.69,74.13 253.34,74.56 254.03,74.94 254.74,75.28 255.5,75.56 256.29,75.77 257.12,75.92 258,76" fill="none" stroke="#6fa597" stroke-width="1"/>
<path d="M241.84,56.31 L242.71,59.39 M244.98,54.36 L247.15,56.71 M247.51,51.62 L249.95,53.69 M249.96,48.82 L252.28,51.03 M252.77,46.37 L254.49,49.06 M256.16,44.86 L256.98,47.95" stroke="#6fa597" stroke-width="0.85" fill="none"/>
<path d="M241.85,63.9 L242.75,60.83 M244.99,65.94 L247.21,63.62 M247.51,68.74 L249.98,66.72 M249.94,71.63 L252.29,69.45 M252.73,74.15 L254.5,71.48 M256.14,75.73 L256.98,72.64" stroke="#6fa597" stroke-width="0.85" fill="none"/>
<polyline points="296.5,44.8 298.01,44.84 299.43,44.95 300.77,45.13 302.04,45.37 303.24,45.67 304.38,46.03 305.46,46.43 306.49,46.87 307.48,47.35 308.43,47.86 309.34,48.4 310.22,48.95 311.08,49.53 311.92,50.11 312.75,50.7 313.57,51.29 314.39,51.87 315.22,52.45 316.06,53 316.91,53.54 317.78,54.05 318.68,54.53 319.61,54.97 320.58,55.37 321.59,55.73 322.65,56.03 323.77,56.27 324.95,56.45 326.19,56.56 327.5,56.6" fill="none" stroke="#6fa597" stroke-width="1"/>
<polyline points="305.5,76 306.52,75.96 307.49,75.84 308.41,75.65 309.28,75.4 310.12,75.08 310.91,74.71 311.66,74.29 312.39,73.82 313.09,73.32 313.76,72.79 314.41,72.22 315.04,71.64 315.66,71.03 316.27,70.42 316.88,69.8 317.47,69.18 318.07,68.57 318.68,67.96 319.29,67.38 319.91,66.81 320.54,66.28 321.2,65.78 321.87,65.31 322.57,64.89 323.3,64.52 324.06,64.2 324.86,63.95 325.7,63.76 326.57,63.64 327.5,63.6" fill="none" stroke="#6fa597" stroke-width="1"/>
<path d="M298.61,44.89 L298.36,48.08 M302.78,45.56 L302.01,48.66 M306.76,47 L305.36,49.87 M310.43,49.09 L308.65,51.75 M313.89,51.52 L312.04,54.13 M317.42,53.84 L315.81,56.61 M321.26,55.61 L320.21,58.63 M325.39,56.49 L325.1,59.68" stroke="#6fa597" stroke-width="0.85" fill="none"/>
<path d="M307.66,75.81 L307.02,72.67 M311.7,74.27 L309.97,71.57 M315.1,71.58 L312.87,69.28 M318.15,68.49 L315.89,66.22 M321.42,65.62 L319.6,62.99 M325.34,63.84 L324.64,60.72" stroke="#6fa597" stroke-width="0.85" fill="none"/>
<rect x="259.5" y="40.2" width="35" height="4" fill="none" stroke="#8a9ad0" stroke-width="0.4"/>
<path d="M259.13,44.4 V51.4 M261.4,44.4 V51.4 M263.66,44.4 V51.4 M265.93,44.4 V51.4 M268.19,44.4 V51.4 M270.46,44.4 V51.4 M272.72,44.4 V51.4 M274.99,44.4 V51.4 M277.25,44.4 V51.4 M279.51,44.4 V51.4 M281.78,44.4 V51.4 M284.04,44.4 V51.4 M286.31,44.4 V51.4 M288.57,44.4 V51.4 M290.84,44.4 V51.4 M293.1,44.4 V51.4 M295.37,44.4 V51.4" stroke="#5b2fc0" stroke-width="1" fill="none"/><line x1="258" y1="44.4" x2="296.5" y2="44.4" stroke="#5b2fc0" stroke-width="1.2"/><line x1="258" y1="51.4" x2="296.5" y2="51.4" stroke="#5b2fc0" stroke-width="1.2"/>
<path d="M296.5,51.4 H302 Q307.3,51.4 307.3,46 V37.5" fill="none" stroke="#5b2fc0" stroke-width="1.3"/>
<path d="M260.32,70.6 V76 M262.96,70.6 V76 M265.61,70.6 V76 M268.25,70.6 V76 M270.89,70.6 V76 M273.54,70.6 V76 M276.18,70.6 V76 M278.82,70.6 V76 M281.46,70.6 V76 M284.11,70.6 V76 M286.75,70.6 V76 M289.39,70.6 V76 M292.04,70.6 V76 M294.68,70.6 V76" stroke="#5b2fc0" stroke-width="1" fill="none"/><line x1="259" y1="76" x2="296" y2="76" stroke="#5b2fc0" stroke-width="1.2"/>
<path d="M298.2,70.6 V76 M301,70.6 V76 M303.8,70.6 V76" stroke="#d045c8" stroke-width="1.6" fill="none"/><line x1="296.8" y1="76" x2="305.2" y2="76" stroke="#d045c8" stroke-width="1"/>
<path d="M307.3,37.5 V26.5" stroke="#222" stroke-width="1" fill="none"/>
<path d="M307.3,27.5 C307.3,21.5 316.5,21.5 316.5,27.5" stroke="#3f66c8" stroke-width="1.1" fill="none"/>
<path d="M307.6,28.5 H311.6 M307.6,31.3 H311.6 M307.6,34.1 H311.6" stroke="#222" stroke-width="0.7"/>
<path d="M312.4,28.5 H316.4 M312.4,31.3 H316.4 M312.4,34.1 H316.4 M312.4,36.9 H316.4" stroke="#d8452f" stroke-width="0.7"/>
<path d="M316.5,27.5 V35 C316.5,39.5 321,39 322.5,36.5 C324,34 322.5,31 325,30.5 C328.5,30 329.5,33 327.5,35.5 C325.5,38 323.5,40.5 326.5,42.5" stroke="#d8452f" stroke-width="1.3" fill="none"/>
<circle cx="314" cy="23.2" r="0.8" fill="#222"/><path d="M314.3,23 L319.5,20.8" stroke="#222" stroke-width="0.4"/>
<text x="311" y="17.6" font-size="4.27" fill="#3b9aa3" font-weight="bold" stroke="#3b9aa3" stroke-width="0.13">Cas9</text>
<text x="320.4" y="22.2" font-size="4.3" fill="#222" font-weight="bold" stroke="#222" stroke-width="0.13" stroke-width="0">Linker</text>
<text x="320.4" y="27" font-size="4.3" fill="#222" font-weight="bold" stroke="#222" stroke-width="0.13" stroke-width="0">loop</text>
<text x="328" y="40.4" font-size="4.24" fill="#d8452f" font-weight="bold" stroke="#d8452f" stroke-width="0.13">tracrRNA</text>
<text x="272" y="55.9" font-size="4.14" fill="#5b2fc0" font-weight="bold" stroke="#5b2fc0" stroke-width="0.12">sgRNA</text>
<text x="297" y="79.4" font-size="4.14" fill="#222" font-weight="bold" stroke="#222" stroke-width="0.12">PAM</text>
<text x="215" y="34.7" font-size="4.93" fill="#222" font-weight="bold" stroke="#222" stroke-width="0.15" font-style="italic">PAS_chr4_0305</text>
<path d="M253,32.5 H259 L264.5,40.2" fill="none" stroke="#4f6fb8" stroke-width="0.5"/>
<g transform="translate(274.5,39.5) rotate(25) scale(1)" fill="none"><path d="M-1.6,-1.2 L6.2,1.6 M-1.6,1.2 L6.2,-1.6" stroke="#9a9a9a" stroke-width="0.7"/><circle cx="-3" cy="-1.9" r="1.55" stroke="#d8452f" stroke-width="0.8"/><circle cx="-3" cy="1.9" r="1.55" stroke="#d8452f" stroke-width="0.8"/><path d="M-1.9,-1.2 L1,0 M-1.9,1.2 L1,0" stroke="#d8452f" stroke-width="0.8"/></g>
<g transform="translate(276.8,80.2) rotate(-30) scale(1)" fill="none"><path d="M-1.6,-1.2 L6.2,1.6 M-1.6,1.2 L6.2,-1.6" stroke="#9a9a9a" stroke-width="0.7"/><circle cx="-3" cy="-1.9" r="1.55" stroke="#d8452f" stroke-width="0.8"/><circle cx="-3" cy="1.9" r="1.55" stroke="#d8452f" stroke-width="0.8"/><path d="M-1.9,-1.2 L1,0 M-1.9,1.2 L1,0" stroke="#d8452f" stroke-width="0.8"/></g>
<line x1="225.5" y1="91.6" x2="347" y2="91.6" stroke="#111" stroke-width="1.8"/>
<polygon points="350.6,91.6 345.6,94.6 345.6,88.6" fill="#111"/>
<defs>
<radialGradient id="lb" cx="0.42" cy="0.4" r="0.64"><stop offset="0" stop-color="#f0f4ff"/><stop offset="0.25" stop-color="#9db2e6"/><stop offset="0.68" stop-color="#5e7ccb"/><stop offset="1" stop-color="#3856ac"/></radialGradient>
<radialGradient id="lb2" cx="0.42" cy="0.4" r="0.64"><stop offset="0" stop-color="#ffffff"/><stop offset="0.3" stop-color="#b5c5ee"/><stop offset="0.78" stop-color="#7892d6"/><stop offset="1" stop-color="#5572c2"/></radialGradient>
<radialGradient id="lb3" cx="0.42" cy="0.4" r="0.64"><stop offset="0" stop-color="#e8eeff"/><stop offset="0.2" stop-color="#90a8e4"/><stop offset="0.6" stop-color="#4867c0"/><stop offset="1" stop-color="#27449c"/></radialGradient>
<radialGradient id="lb0" cx="0.42" cy="0.4" r="0.64"><stop offset="0" stop-color="#ffffff"/><stop offset="0.4" stop-color="#dfe7f7"/><stop offset="0.85" stop-color="#b5c5ea"/><stop offset="1" stop-color="#9db0e0"/></radialGradient>
<radialGradient id="db" cx="0.4" cy="0.38" r="0.66"><stop offset="0" stop-color="#dde7ff"/><stop offset="0.13" stop-color="#9db4ee"/><stop offset="0.4" stop-color="#3f62be"/><stop offset="0.8" stop-color="#24409a"/><stop offset="1" stop-color="#142a74"/></radialGradient>
<radialGradient id="pk" cx="0.4" cy="0.3" r="0.75"><stop offset="0" stop-color="#f9d3d8"/><stop offset="0.25" stop-color="#e891a6"/><stop offset="0.65" stop-color="#d05a7c"/><stop offset="1" stop-color="#a8355c"/></radialGradient>
<radialGradient id="yb" cx="0.36" cy="0.32" r="0.7"><stop offset="0" stop-color="#ffe070"/><stop offset="0.5" stop-color="#f3a60c"/><stop offset="1" stop-color="#c67c00"/></radialGradient>
<linearGradient id="face3" x1="0" y1="0" x2="0" y2="1"><stop offset="0" stop-color="#7f98da"/><stop offset="0.5" stop-color="#98b0e8"/><stop offset="1" stop-color="#b9ccf2"/></linearGradient>
<linearGradient id="tg" x1="0" y1="0" x2="0" y2="1"><stop offset="0" stop-color="#e03c14"/><stop offset="0.45" stop-color="#e6502a" stop-opacity="0.95"/><stop offset="0.8" stop-color="#ee8a5c" stop-opacity="0.7"/><stop offset="1" stop-color="#f0a27c" stop-opacity="0.2"/></linearGradient>
<linearGradient id="tb" x1="0" y1="0" x2="0" y2="1"><stop offset="0" stop-color="#ee9a72" stop-opacity="0.9"/><stop offset="0.6" stop-color="#f0ae90" stop-opacity="0.8"/><stop offset="1" stop-color="#f6dccf" stop-opacity="0.7"/></linearGradient>
<linearGradient id="face2" x1="0" y1="0" x2="0" y2="1"><stop offset="0" stop-color="#7a89bc"/><stop offset="0.5" stop-color="#8f9dca"/><stop offset="1" stop-color="#b4c4ea"/></linearGradient>
<linearGradient id="tb2" x1="0" y1="0" x2="0" y2="1"><stop offset="0" stop-color="#c9a08c"/><stop offset="0.5" stop-color="#b9b6c8"/><stop offset="1" stop-color="#d5dcee"/></linearGradient>
<linearGradient id="shade" x1="0" y1="0" x2="1" y2="0.35"><stop offset="0" stop-color="#2444a6"/><stop offset="0.25" stop-color="#3a5ebc"/><stop offset="0.6" stop-color="#5d80d2" stop-opacity="0.8"/><stop offset="1" stop-color="#8ea6e2" stop-opacity="0"/></linearGradient>
<linearGradient id="brown" x1="0" y1="0" x2="1" y2="0"><stop offset="0" stop-color="#6a3017"/><stop offset="0.5" stop-color="#8f4a24"/><stop offset="1" stop-color="#b87a4c"/></linearGradient>
<linearGradient id="pA" x1="0" y1="0" x2="1" y2="0"><stop offset="0" stop-color="#efbcd8"/><stop offset="0.5" stop-color="#e9a8cb"/><stop offset="1" stop-color="#dd86b4"/></linearGradient>
<linearGradient id="pB" x1="0" y1="0" x2="1" y2="0"><stop offset="0" stop-color="#e2568a"/><stop offset="0.35" stop-color="#e66d9c"/><stop offset="0.6" stop-color="#f1a9cb"/><stop offset="1" stop-color="#e696bd"/></linearGradient>
<linearGradient id="pC" x1="0" y1="0" x2="1" y2="0"><stop offset="0" stop-color="#e4557f"/><stop offset="0.6" stop-color="#e35a86"/><stop offset="1" stop-color="#d94c7c"/></linearGradient>
</defs>
<defs><filter id="soft" x="-5%" y="-5%" width="110%" height="110%"><feGaussianBlur stdDeviation="0.45"/></filter></defs>
<g id="membL" filter="url(#soft)"><path d="M1,157 C10,163 20,166 30,166 M20,173.6 C30,176 40,181 46,188 M30,188 C40,191 50,195 56,200.4 M113.3,161.7 C126,160 138,164 145,171.7 M146.7,150 C146,158 139,164 130.8,167.5 M214,147.5 C212,156 202,160 193,163.3" fill="none" stroke="#dcae6e" stroke-width="0.9" stroke-linecap="round"/>
<circle cx="143.5" cy="60.5" r="3.23" fill="url(#lb2)"/><circle cx="137.8" cy="60.72" r="3.23" fill="url(#lb2)"/><circle cx="132.14" cy="61.04" r="3.23" fill="url(#lb2)"/><circle cx="126.52" cy="61.48" r="3.23" fill="url(#lb2)"/><circle cx="120.94" cy="62.04" r="3.24" fill="url(#lb2)"/><circle cx="115.4" cy="62.7" r="3.24" fill="url(#lb2)"/><circle cx="147.62" cy="62.95" r="3.25" fill="url(#lb2)"/><circle cx="141.92" cy="63.27" r="3.25" fill="url(#lb2)"/><circle cx="109.9" cy="63.48" r="3.25" fill="url(#lb2)"/><circle cx="136.25" cy="63.7" r="3.25" fill="url(#lb2)"/><circle cx="130.62" cy="64.23" r="3.26" fill="url(#lb2)"/><circle cx="104.44" cy="64.36" r="3.26" fill="url(#lb2)"/><circle cx="125.02" cy="64.87" r="3.26" fill="url(#lb2)"/><circle cx="99.02" cy="65.36" r="3.27" fill="url(#lb2)"/><circle cx="151.75" cy="65.4" r="3.27" fill="url(#lb2)"/><circle cx="119.47" cy="65.62" r="3.27" fill="url(#lb2)"/><circle cx="146.04" cy="65.82" r="3.27" fill="url(#lb2)"/><circle cx="140.36" cy="66.35" r="3.27" fill="url(#lb2)"/><circle cx="113.95" cy="66.47" r="3.27" fill="url(#lb2)"/><circle cx="93.64" cy="66.48" r="3.27" fill="url(#lb2)"/><circle cx="134.72" cy="66.98" r="3.28" fill="url(#lb2)"/><circle cx="108.47" cy="67.43" r="3.28" fill="url(#lb2)"/><circle cx="88.3" cy="67.7" r="3.28" fill="url(#lb2)"/><circle cx="129.11" cy="67.7" r="3.28" fill="url(#lb2)"/><circle cx="155.88" cy="67.85" r="3.28" fill="url(#lb)"/><circle cx="150.15" cy="68.38" r="3.29" fill="url(#lb)"/><circle cx="103.03" cy="68.49" r="3.29" fill="url(#lb2)"/><circle cx="123.54" cy="68.53" r="3.29" fill="url(#lb2)"/><circle cx="144.47" cy="69" r="3.29" fill="url(#lb)"/><circle cx="83" cy="69.04" r="3.29" fill="url(#lb2)"/><circle cx="118.01" cy="69.46" r="3.3" fill="url(#lb2)"/><circle cx="97.63" cy="69.66" r="3.3" fill="url(#lb2)"/><circle cx="138.81" cy="69.72" r="3.3" fill="url(#lb)"/><circle cx="160" cy="70.3" r="3.3" fill="url(#lb)"/><circle cx="77.74" cy="70.48" r="3.3" fill="url(#lb2)"/><circle cx="112.51" cy="70.49" r="3.3" fill="url(#lb2)"/><circle cx="133.19" cy="70.54" r="3.31" fill="url(#lb)"/><circle cx="154.27" cy="70.93" r="3.31" fill="url(#lb)"/><circle cx="92.27" cy="70.94" r="3.31" fill="url(#lb2)"/><circle cx="127.61" cy="71.45" r="3.31" fill="url(#lb)"/><circle cx="107.05" cy="71.62" r="3.31" fill="url(#lb2)"/><circle cx="148.58" cy="71.66" r="3.31" fill="url(#lb)"/><circle cx="72.52" cy="72.04" r="3.32" fill="url(#lb2)"/><circle cx="86.94" cy="72.32" r="3.32" fill="url(#lb2)"/><circle cx="122.06" cy="72.45" r="3.32" fill="url(#lb)"/><circle cx="142.91" cy="72.47" r="3.32" fill="url(#lb)"/><circle cx="164.12" cy="72.75" r="3.32" fill="url(#lb)"/><circle cx="101.62" cy="72.85" r="3.32" fill="url(#lb2)"/><circle cx="137.28" cy="73.37" r="3.33" fill="url(#lb)"/><circle cx="158.39" cy="73.49" r="3.33" fill="url(#lb)"/><circle cx="116.54" cy="73.55" r="3.33" fill="url(#lb)"/><circle cx="67.34" cy="73.72" r="3.33" fill="url(#lb2)"/><circle cx="81.65" cy="73.81" r="3.33" fill="url(#lb2)"/><circle cx="96.23" cy="74.18" r="3.33" fill="url(#lb2)"/><circle cx="152.69" cy="74.31" r="3.33" fill="url(#lb)"/><circle cx="131.68" cy="74.36" r="3.34" fill="url(#lb)"/><circle cx="111.06" cy="74.74" r="3.34" fill="url(#lb)"/><circle cx="168.25" cy="75.2" r="3.34" fill="url(#lb)"/><circle cx="147.01" cy="75.21" r="3.34" fill="url(#lb)"/><circle cx="76.4" cy="75.41" r="3.34" fill="url(#lb2)"/><circle cx="126.11" cy="75.44" r="3.34" fill="url(#lb)"/><circle cx="62.2" cy="75.5" r="3.34" fill="url(#lb2)"/><circle cx="90.88" cy="75.61" r="3.34" fill="url(#lb2)"/><circle cx="129" cy="70" r="7.8" fill="url(#pk)"/><circle cx="105.61" cy="76.03" r="3.35" fill="url(#lb)"/><circle cx="162.51" cy="76.04" r="3.35" fill="url(#lb)"/><circle cx="141.37" cy="76.2" r="3.35" fill="url(#lb)"/><circle cx="120.58" cy="76.61" r="3.35" fill="url(#lb)"/><circle cx="156.79" cy="76.96" r="3.36" fill="url(#lb)"/><circle cx="71.19" cy="77.12" r="3.36" fill="url(#lb2)"/><circle cx="85.56" cy="77.15" r="3.36" fill="url(#lb2)"/><circle cx="135.75" cy="77.28" r="3.36" fill="url(#lb)"/><circle cx="57.1" cy="77.4" r="3.36" fill="url(#lb2)"/><circle cx="100.19" cy="77.42" r="3.36" fill="url(#lb)"/><circle cx="86.7" cy="72" r="7.5" fill="url(#pk)"/><circle cx="172.38" cy="77.65" r="3.36" fill="url(#lb)"/><circle cx="115.07" cy="77.87" r="3.36" fill="url(#lb)"/><circle cx="151.11" cy="77.96" r="3.36" fill="url(#lb)"/><circle cx="130.16" cy="78.43" r="3.37" fill="url(#lb)"/><circle cx="166.63" cy="78.6" r="3.37" fill="url(#lb)"/><circle cx="80.28" cy="78.78" r="3.37" fill="url(#lb2)"/><circle cx="94.81" cy="78.9" r="3.37" fill="url(#lb)"/><circle cx="66.01" cy="78.92" r="3.37" fill="url(#lb2)"/><circle cx="145.45" cy="79.04" r="3.37" fill="url(#lb)"/><circle cx="109.6" cy="79.22" r="3.37" fill="url(#lb)"/><circle cx="52.04" cy="79.4" r="3.37" fill="url(#lb2)"/><circle cx="160.9" cy="79.61" r="3.38" fill="url(#lb)"/><circle cx="124.61" cy="79.67" r="3.38" fill="url(#lb)"/><circle cx="176.5" cy="80.1" r="3.38" fill="url(#lb)"/><circle cx="139.82" cy="80.19" r="3.38" fill="url(#lb)"/><circle cx="89.47" cy="80.48" r="3.38" fill="url(#lb)"/><g transform="translate(97.5,77.5) rotate(-41.73)" fill="none" stroke-linecap="round"><path d="M0.68,-1.8 L2.08,1.8 M3.43,-1.8 L4.83,1.8 M6.19,-1.8 L7.59,1.8 M8.94,-1.8 L10.34,1.8 M11.69,-1.8 L13.09,1.8 M14.45,-1.8 L15.85,1.8 M17.2,-1.8 L18.6,1.8 M19.96,-1.8 L21.36,1.8 M22.71,-1.8 L24.11,1.8 " stroke="#f0801e" stroke-width="2.7"/><path d="M0.78,-1.3 L1.98,1.3 M3.53,-1.3 L4.73,1.3 M6.29,-1.3 L7.49,1.3 M9.04,-1.3 L10.24,1.3 M11.79,-1.3 L12.99,1.3 M14.55,-1.3 L15.75,1.3 M17.3,-1.3 L18.5,1.3 M20.06,-1.3 L21.26,1.3 M22.81,-1.3 L24.01,1.3 " stroke="#c62f92" stroke-width="1.5"/></g><circle cx="75.03" cy="80.51" r="3.38" fill="url(#lb2)"/><circle cx="104.16" cy="80.66" r="3.38" fill="url(#lb)"/><circle cx="155.21" cy="80.7" r="3.38" fill="url(#lb)"/><circle cx="60.87" cy="80.84" r="3.39" fill="url(#lb2)"/><circle cx="119.09" cy="81" r="3.39" fill="url(#lb)"/><circle cx="170.74" cy="81.15" r="3.39" fill="url(#lb)"/><circle cx="134.22" cy="81.42" r="3.39" fill="url(#lb)"/><circle cx="47.02" cy="81.52" r="3.39" fill="url(#lb2)"/><circle cx="149.53" cy="81.87" r="3.39" fill="url(#lb)"/><circle cx="84.15" cy="82.15" r="3.4" fill="url(#lb)"/><circle cx="98.75" cy="82.19" r="3.4" fill="url(#lb)"/><circle cx="165.01" cy="82.27" r="3.4" fill="url(#lb)"/><circle cx="69.82" cy="82.35" r="3.4" fill="url(#lb2)"/><circle cx="113.59" cy="82.41" r="3.4" fill="url(#lb)"/><circle cx="180.62" cy="82.55" r="3.4" fill="url(#lb)"/><circle cx="128.64" cy="82.73" r="3.4" fill="url(#lb)"/><circle cx="55.77" cy="82.86" r="3.4" fill="url(#lb2)"/><circle cx="143.89" cy="83.11" r="3.4" fill="url(#lb)"/><circle cx="159.3" cy="83.45" r="3.41" fill="url(#lb)"/><circle cx="174.86" cy="83.7" r="3.41" fill="url(#lb)"/><circle cx="42.04" cy="83.76" r="3.41" fill="url(#lb2)"/><circle cx="93.38" cy="83.81" r="3.41" fill="url(#lb)"/><circle cx="108.12" cy="83.9" r="3.41" fill="url(#lb)"/><circle cx="78.88" cy="83.91" r="3.41" fill="url(#lb)"/><circle cx="155" cy="66.7" r="2.15" fill="#a3284c"/><circle cx="150" cy="69.5" r="2.15" fill="#63407e"/><circle cx="147.3" cy="73.4" r="2.15" fill="#a3284c"/><circle cx="143.2" cy="78" r="2.15" fill="#63407e"/><circle cx="123.1" cy="84.12" r="3.41" fill="url(#lb)"/><circle cx="64.65" cy="84.29" r="3.41" fill="url(#lb2)"/><circle cx="138.27" cy="84.41" r="3.41" fill="url(#lb)"/><circle cx="153.62" cy="84.7" r="3.42" fill="url(#lb)"/><circle cx="169.12" cy="84.92" r="3.42" fill="url(#lb)"/><circle cx="50.71" cy="84.99" r="3.42" fill="url(#lb2)"/><circle cx="184.75" cy="85" r="3.42" fill="url(#lb)"/><circle cx="102.69" cy="85.48" r="3.42" fill="url(#lb)"/><circle cx="88.03" cy="85.52" r="3.42" fill="url(#lb)"/><circle cx="117.58" cy="85.59" r="3.42" fill="url(#lb)"/><circle cx="73.63" cy="85.78" r="3.42" fill="url(#lb)"/><circle cx="132.68" cy="85.8" r="3.42" fill="url(#lb)"/><circle cx="147.96" cy="86.02" r="3.43" fill="url(#lb)"/><circle cx="37.1" cy="86.1" r="3.43" fill="url(#lb2)"/><circle cx="163.4" cy="86.2" r="3.43" fill="url(#lb)"/><circle cx="178.98" cy="86.26" r="3.43" fill="url(#lb)"/><circle cx="59.51" cy="86.32" r="3.43" fill="url(#lb2)"/><circle cx="97.29" cy="87.14" r="3.43" fill="url(#lb)"/><circle cx="112.09" cy="87.14" r="3.43" fill="url(#lb)"/><circle cx="45.69" cy="87.23" r="3.44" fill="url(#lb2)"/><circle cx="127.11" cy="87.25" r="3.44" fill="url(#lb)"/><circle cx="82.72" cy="87.31" r="3.44" fill="url(#lb)"/><circle cx="142.32" cy="87.41" r="3.44" fill="url(#lb)"/><circle cx="188.88" cy="87.45" r="3.44" fill="url(#lb)"/><circle cx="157.7" cy="87.53" r="3.44" fill="url(#lb)"/><circle cx="173.23" cy="87.57" r="3.44" fill="url(#lb)"/><circle cx="68.42" cy="87.73" r="3.44" fill="url(#lb)"/><circle cx="38.3" cy="84.2" r="5.3" fill="url(#pk)"/><circle cx="54.41" cy="88.46" r="3.44" fill="url(#lb2)"/><circle cx="32.2" cy="88.56" r="3.45" fill="url(#lb2)"/><circle cx="106.63" cy="88.77" r="3.45" fill="url(#lb)"/><circle cx="121.57" cy="88.78" r="3.45" fill="url(#lb)"/><circle cx="183.1" cy="88.81" r="3.45" fill="url(#lb)"/><circle cx="136.71" cy="88.86" r="3.45" fill="url(#lb)"/><circle cx="91.91" cy="88.88" r="3.45" fill="url(#lb)"/><circle cx="152.03" cy="88.94" r="3.45" fill="url(#lb)"/><circle cx="167.5" cy="88.94" r="3.45" fill="url(#lb)"/><circle cx="77.44" cy="89.2" r="3.45" fill="url(#lb)"/><circle cx="130" cy="84.5" r="6.4" fill="url(#pk)"/><circle cx="40.71" cy="89.57" r="3.45" fill="url(#lb2)"/><circle cx="63.24" cy="89.78" r="3.45" fill="url(#lb)"/><circle cx="193" cy="89.9" r="3.46" fill="url(#lb)"/><circle cx="177.34" cy="90.22" r="3.46" fill="url(#lb)"/><circle cx="161.79" cy="90.37" r="3.46" fill="url(#lb)"/><circle cx="131.12" cy="90.38" r="3.46" fill="url(#lb)"/><circle cx="116.05" cy="90.38" r="3.46" fill="url(#lb)"/><circle cx="146.38" cy="90.4" r="3.46" fill="url(#lb)"/><circle cx="101.19" cy="90.47" r="3.46" fill="url(#lb)"/><circle cx="49.34" cy="90.7" r="3.46" fill="url(#lb2)"/><circle cx="86.56" cy="90.71" r="3.46" fill="url(#lb)"/><circle cx="27.34" cy="91.12" r="3.47" fill="url(#lb2)"/><circle cx="72.19" cy="91.18" r="3.47" fill="url(#lb)"/><circle cx="187.22" cy="91.37" r="3.47" fill="url(#lb)"/><circle cx="171.6" cy="91.69" r="3.47" fill="url(#lb)"/><circle cx="156.1" cy="91.85" r="3.47" fill="url(#lb)"/><circle cx="140.75" cy="91.92" r="3.47" fill="url(#lb)"/><circle cx="58.1" cy="91.93" r="3.47" fill="url(#lb)"/><circle cx="125.56" cy="91.97" r="3.47" fill="url(#lb)"/><circle cx="35.76" cy="92.02" r="3.47" fill="url(#lb2)"/><circle cx="110.57" cy="92.05" r="3.47" fill="url(#lb)"/><circle cx="95.79" cy="92.25" r="3.47" fill="url(#lb)"/><circle cx="197.12" cy="92.35" r="3.47" fill="url(#lb3)"/><circle cx="81.25" cy="92.62" r="3.48" fill="url(#lb)"/><circle cx="181.45" cy="92.88" r="3.48" fill="url(#lb)"/><circle cx="44.31" cy="93.04" r="3.48" fill="url(#lb2)"/><circle cx="179.4" cy="86.5" r="8.8" fill="url(#pk)"/><circle cx="165.88" cy="93.2" r="3.48" fill="url(#lb3)"/><circle cx="66.98" cy="93.24" r="3.48" fill="url(#lb)"/><circle cx="150.43" cy="93.39" r="3.48" fill="url(#lb)"/><circle cx="135.14" cy="93.51" r="3.48" fill="url(#lb)"/><circle cx="120.02" cy="93.62" r="3.48" fill="url(#lb)"/><circle cx="105.1" cy="93.8" r="3.49" fill="url(#lb)"/><circle cx="22.52" cy="93.8" r="3.49" fill="url(#lb2)"/><circle cx="191.33" cy="93.92" r="3.49" fill="url(#lb3)"/><circle cx="90.41" cy="94.11" r="3.49" fill="url(#lb)"/><circle cx="52.99" cy="94.17" r="3.49" fill="url(#lb)"/><circle cx="175.7" cy="94.43" r="3.49" fill="url(#lb3)"/><circle cx="30.85" cy="94.57" r="3.49" fill="url(#lb2)"/><circle cx="75.97" cy="94.62" r="3.49" fill="url(#lb)"/><circle cx="160.17" cy="94.77" r="3.49" fill="url(#lb3)"/><circle cx="201.25" cy="94.8" r="3.49" fill="url(#lb3)"/><circle cx="144.78" cy="94.98" r="3.5" fill="url(#lb)"/><circle cx="129.55" cy="95.15" r="3.5" fill="url(#lb)"/><circle cx="114.5" cy="95.34" r="3.5" fill="url(#lb)"/><circle cx="61.79" cy="95.4" r="3.5" fill="url(#lb)"/><circle cx="39.32" cy="95.48" r="3.5" fill="url(#lb2)"/><circle cx="185.56" cy="95.53" r="3.5" fill="url(#lb3)"/><circle cx="99.67" cy="95.62" r="3.5" fill="url(#lb)"/><circle cx="169.96" cy="96.03" r="3.5" fill="url(#lb3)"/><circle cx="85.06" cy="96.05" r="3.5" fill="url(#lb)"/><circle cx="154.48" cy="96.38" r="3.51" fill="url(#lb3)"/><circle cx="195.45" cy="96.47" r="3.51" fill="url(#lb3)"/><circle cx="47.92" cy="96.51" r="3.51" fill="url(#lb)"/><circle cx="17.74" cy="96.6" r="3.51" fill="url(#lb0)"/><circle cx="139.15" cy="96.63" r="3.51" fill="url(#lb3)"/><circle cx="70.71" cy="96.7" r="3.51" fill="url(#lb)"/><circle cx="66.3" cy="78" r="2.15" fill="#a3284c"/><circle cx="63" cy="83.3" r="2.15" fill="#63407e"/><circle cx="59.2" cy="86.2" r="2.15" fill="#a3284c"/><circle cx="53.7" cy="88" r="2.15" fill="#63407e"/><circle cx="50" cy="89.2" r="2.15" fill="#a3284c"/><circle cx="44.2" cy="90.8" r="2.15" fill="#63407e"/><circle cx="123.98" cy="96.86" r="3.51" fill="url(#lb)"/><circle cx="109.01" cy="97.13" r="3.51" fill="url(#lb)"/><circle cx="179.79" cy="97.18" r="3.51" fill="url(#lb3)"/><circle cx="25.98" cy="97.23" r="3.51" fill="url(#lb2)"/><circle cx="205.38" cy="97.25" r="3.51" fill="url(#lb3)"/><circle cx="94.25" cy="97.51" r="3.52" fill="url(#lb)"/><circle cx="56.64" cy="97.64" r="3.52" fill="url(#lb)"/><circle cx="164.24" cy="97.68" r="3.52" fill="url(#lb3)"/><circle cx="34.36" cy="98.02" r="3.52" fill="url(#lb2)"/><circle cx="148.81" cy="98.04" r="3.52" fill="url(#lb3)"/><circle cx="79.74" cy="98.07" r="3.52" fill="url(#lb)"/><circle cx="189.67" cy="98.18" r="3.52" fill="url(#lb3)"/><circle cx="133.54" cy="98.34" r="3.52" fill="url(#lb3)"/><circle cx="118.44" cy="98.63" r="3.52" fill="url(#lb)"/><circle cx="174.04" cy="98.87" r="3.53" fill="url(#lb3)"/><circle cx="65.48" cy="98.87" r="3.53" fill="url(#lb)"/><circle cx="42.87" cy="98.94" r="3.53" fill="url(#lb)"/><circle cx="103.54" cy="98.99" r="3.53" fill="url(#lb)"/><circle cx="199.57" cy="99.03" r="3.53" fill="url(#lb3)"/><circle cx="158.54" cy="99.37" r="3.53" fill="url(#lb3)"/><circle cx="88.87" cy="99.47" r="3.53" fill="url(#lb)"/><circle cx="13" cy="99.5" r="3.53" fill="url(#lb0)"/><circle cx="209.5" cy="99.7" r="3.53" fill="url(#lb3)"/><circle cx="143.16" cy="99.76" r="3.53" fill="url(#lb3)"/><circle cx="183.89" cy="99.93" r="3.53" fill="url(#lb3)"/><circle cx="51.52" cy="99.98" r="3.53" fill="url(#lb)"/><circle cx="21.15" cy="100" r="3.53" fill="url(#lb0)"/><circle cx="127.95" cy="100.1" r="3.54" fill="url(#lb3)"/><circle cx="74.44" cy="100.16" r="3.54" fill="url(#lb)"/><circle cx="112.92" cy="100.46" r="3.54" fill="url(#lb)"/><g transform="translate(161,97.5) rotate(-60.95)" fill="none" stroke-linecap="round"><path d="M0.84,-1.8 L2.24,1.8 M3.93,-1.8 L5.33,1.8 M7.02,-1.8 L8.42,1.8 M10.11,-1.8 L11.51,1.8 M13.2,-1.8 L14.6,1.8 " stroke="#f0801e" stroke-width="2.7"/><path d="M0.94,-1.3 L2.14,1.3 M4.03,-1.3 L5.23,1.3 M7.12,-1.3 L8.32,1.3 M10.21,-1.3 L11.41,1.3 M13.3,-1.3 L14.5,1.3 " stroke="#c62f92" stroke-width="1.5"/></g><circle cx="168.31" cy="100.59" r="3.54" fill="url(#lb3)"/><circle cx="29.44" cy="100.66" r="3.54" fill="url(#lb2)"/><circle cx="193.78" cy="100.84" r="3.54" fill="url(#lb3)"/><circle cx="98.1" cy="100.91" r="3.54" fill="url(#lb)"/><circle cx="152.85" cy="101.11" r="3.54" fill="url(#lb3)"/><circle cx="60.29" cy="101.12" r="3.54" fill="url(#lb)"/><circle cx="37.87" cy="101.47" r="3.55" fill="url(#lb2)"/><circle cx="83.51" cy="101.51" r="3.55" fill="url(#lb)"/><circle cx="137.53" cy="101.52" r="3.55" fill="url(#lb3)"/><circle cx="203.69" cy="101.58" r="3.55" fill="url(#lb3)"/><circle cx="199.4" cy="93" r="2.15" fill="#a3284c"/><circle cx="194" cy="93.6" r="2.15" fill="#63407e"/><circle cx="189" cy="94.4" r="2.15" fill="#a3284c"/><circle cx="183.6" cy="95" r="2.15" fill="#63407e"/><circle cx="179" cy="95.6" r="2.15" fill="#a3284c"/><circle cx="173.6" cy="95.6" r="2.15" fill="#63407e"/><circle cx="163.4" cy="77" r="2.15" fill="#a3284c"/><circle cx="160" cy="81.8" r="2.15" fill="#63407e"/><circle cx="156.3" cy="85" r="2.15" fill="#a3284c"/><circle cx="151" cy="87.4" r="2.15" fill="#63407e"/><circle cx="148" cy="91" r="2.15" fill="#a3284c"/><circle cx="144.4" cy="95.7" r="2.15" fill="#63407e"/><circle cx="178.13" cy="101.7" r="3.55" fill="url(#lb3)"/><circle cx="118" cy="75.3" r="2.15" fill="#a3284c"/><circle cx="112.5" cy="78.7" r="2.15" fill="#63407e"/><circle cx="109.7" cy="82" r="2.15" fill="#a3284c"/><circle cx="106.3" cy="86.7" r="2.15" fill="#63407e"/><circle cx="103.8" cy="90.8" r="2.15" fill="#a3284c"/><circle cx="100.8" cy="95.8" r="2.15" fill="#63407e"/><circle cx="122.38" cy="101.92" r="3.55" fill="url(#lb3)"/><circle cx="213.62" cy="102.15" r="3.55" fill="url(#lb3)"/><circle cx="69.18" cy="102.34" r="3.55" fill="url(#lb)"/><circle cx="107.42" cy="102.35" r="3.55" fill="url(#lb)"/><circle cx="162.59" cy="102.36" r="3.55" fill="url(#lb3)"/><circle cx="46.43" cy="102.4" r="3.55" fill="url(#lb)"/><circle cx="187.99" cy="102.67" r="3.56" fill="url(#lb3)"/><circle cx="16.35" cy="102.88" r="3.56" fill="url(#lb0)"/><circle cx="147.18" cy="102.89" r="3.56" fill="url(#lb3)"/><circle cx="92.68" cy="102.9" r="3.56" fill="url(#lb)"/><circle cx="131.91" cy="103.34" r="3.56" fill="url(#lb3)"/><circle cx="24.55" cy="103.41" r="3.56" fill="url(#lb0)"/><circle cx="55.13" cy="103.45" r="3.56" fill="url(#lb)"/><circle cx="197.88" cy="103.49" r="3.56" fill="url(#lb3)"/><g transform="translate(23.5,94.5) rotate(16.31)" fill="none" stroke-linecap="round"><path d="M0.83,-1.8 L2.23,1.8 M3.88,-1.8 L5.28,1.8 M6.93,-1.8 L8.33,1.8 M9.98,-1.8 L11.38,1.8 M13.03,-1.8 L14.43,1.8 M16.08,-1.8 L17.48,1.8 M19.13,-1.8 L20.53,1.8 " stroke="#f0801e" stroke-width="2.7"/><path d="M0.93,-1.3 L2.13,1.3 M3.98,-1.3 L5.18,1.3 M7.03,-1.3 L8.23,1.3 M10.08,-1.3 L11.28,1.3 M13.13,-1.3 L14.33,1.3 M16.18,-1.3 L17.38,1.3 M19.23,-1.3 L20.43,1.3 " stroke="#c62f92" stroke-width="1.5"/></g><circle cx="172.38" cy="103.51" r="3.56" fill="url(#lb3)"/><circle cx="78.18" cy="103.62" r="3.56" fill="url(#lb)"/><circle cx="116.83" cy="103.79" r="3.56" fill="url(#lb3)"/><circle cx="32.89" cy="104.09" r="3.57" fill="url(#lb2)"/><circle cx="207.81" cy="104.14" r="3.57" fill="url(#lb3)"/><circle cx="156.88" cy="104.17" r="3.57" fill="url(#lb3)"/><circle cx="101.95" cy="104.31" r="3.57" fill="url(#lb)"/><circle cx="182.21" cy="104.53" r="3.57" fill="url(#lb3)"/><circle cx="63.94" cy="104.59" r="3.57" fill="url(#lb)"/><circle cx="217.75" cy="104.6" r="3.57" fill="url(#lb3)"/><circle cx="141.52" cy="104.71" r="3.57" fill="url(#lb3)"/><circle cx="41.38" cy="104.92" r="3.57" fill="url(#lb2)"/><circle cx="87.28" cy="104.96" r="3.57" fill="url(#lb)"/><circle cx="126.32" cy="105.21" r="3.57" fill="url(#lb3)"/><circle cx="166.64" cy="105.35" r="3.58" fill="url(#lb3)"/><circle cx="192.09" cy="105.42" r="3.58" fill="url(#lb3)"/><circle cx="111.3" cy="105.72" r="3.58" fill="url(#lb3)"/><circle cx="72.87" cy="105.81" r="3.58" fill="url(#lb)"/><circle cx="49.99" cy="105.87" r="3.58" fill="url(#lb)"/><circle cx="151.19" cy="106.01" r="3.58" fill="url(#lb3)"/><circle cx="201.99" cy="106.14" r="3.58" fill="url(#lb3)"/><circle cx="19.7" cy="106.25" r="3.58" fill="url(#lb0)"/><circle cx="96.49" cy="106.33" r="3.58" fill="url(#lb)"/><circle cx="176.45" cy="106.42" r="3.58" fill="url(#lb3)"/><circle cx="135.88" cy="106.58" r="3.59" fill="url(#lb3)"/><circle cx="211.92" cy="106.69" r="3.59" fill="url(#lb3)"/><circle cx="27.95" cy="106.81" r="3.59" fill="url(#lb2)"/><circle cx="58.73" cy="106.92" r="3.59" fill="url(#lb)"/><g transform="translate(108,104) rotate(-25.87)" fill="none" stroke-linecap="round"><path d="M0.83,-1.8 L2.23,1.8 M3.88,-1.8 L5.28,1.8 M6.94,-1.8 L8.34,1.8 M10,-1.8 L11.4,1.8 M13.05,-1.8 L14.45,1.8 M16.11,-1.8 L17.51,1.8 " stroke="#f0801e" stroke-width="2.7"/><path d="M0.93,-1.3 L2.13,1.3 M3.98,-1.3 L5.18,1.3 M7.04,-1.3 L8.24,1.3 M10.1,-1.3 L11.3,1.3 M13.15,-1.3 L14.35,1.3 M16.21,-1.3 L17.41,1.3 " stroke="#c62f92" stroke-width="1.5"/></g><circle cx="221.88" cy="107.05" r="3.59" fill="url(#lb3)"/><circle cx="81.91" cy="107.08" r="3.59" fill="url(#lb)"/><circle cx="120.74" cy="107.12" r="3.59" fill="url(#lb3)"/><circle cx="160.92" cy="107.23" r="3.59" fill="url(#lb3)"/><circle cx="186.3" cy="107.37" r="3.59" fill="url(#lb3)"/><circle cx="36.35" cy="107.52" r="3.59" fill="url(#lb2)"/><circle cx="105.79" cy="107.71" r="3.59" fill="url(#lb3)"/><circle cx="145.51" cy="107.9" r="3.6" fill="url(#lb3)"/><circle cx="67.59" cy="108.06" r="3.6" fill="url(#lb)"/><circle cx="196.19" cy="108.16" r="3.6" fill="url(#lb3)"/><circle cx="170.69" cy="108.34" r="3.6" fill="url(#lb3)"/><circle cx="44.89" cy="108.37" r="3.6" fill="url(#lb2)"/><circle cx="91.06" cy="108.4" r="3.6" fill="url(#lb)"/><circle cx="130.26" cy="108.49" r="3.6" fill="url(#lb3)"/><g transform="translate(84.5,82) rotate(72.3)" fill="none" stroke-linecap="round"><path d="M0.67,-1.8 L2.07,1.8 M3.41,-1.8 L4.81,1.8 M6.15,-1.8 L7.55,1.8 M8.89,-1.8 L10.29,1.8 M11.63,-1.8 L13.03,1.8 M14.37,-1.8 L15.77,1.8 M17.12,-1.8 L18.52,1.8 M19.86,-1.8 L21.26,1.8 M22.6,-1.8 L24,1.8 " stroke="#f0801e" stroke-width="2.7"/><path d="M0.77,-1.3 L1.97,1.3 M3.51,-1.3 L4.71,1.3 M6.25,-1.3 L7.45,1.3 M8.99,-1.3 L10.19,1.3 M11.73,-1.3 L12.93,1.3 M14.47,-1.3 L15.67,1.3 M17.22,-1.3 L18.42,1.3 M19.96,-1.3 L21.16,1.3 M22.7,-1.3 L23.9,1.3 " stroke="#c62f92" stroke-width="1.5"/></g><circle cx="206.1" cy="108.79" r="3.6" fill="url(#lb3)"/><circle cx="115.18" cy="109.09" r="3.61" fill="url(#lb3)"/><circle cx="155.2" cy="109.14" r="3.61" fill="url(#lb3)"/><circle cx="216.04" cy="109.25" r="3.61" fill="url(#lb3)"/><circle cx="76.56" cy="109.27" r="3.61" fill="url(#lb)"/><circle cx="53.55" cy="109.33" r="3.61" fill="url(#lb)"/><circle cx="180.52" cy="109.34" r="3.61" fill="url(#lb3)"/><circle cx="226" cy="109.5" r="3.61" fill="url(#lb3)"/><circle cx="23.05" cy="109.62" r="3.61" fill="url(#lb2)"/><circle cx="100.3" cy="109.75" r="3.61" fill="url(#lb3)"/><circle cx="139.84" cy="109.82" r="3.61" fill="url(#lb3)"/><circle cx="190.38" cy="110.2" r="3.61" fill="url(#lb3)"/><circle cx="31.36" cy="110.22" r="3.61" fill="url(#lb3)"/><circle cx="164.95" cy="110.29" r="3.61" fill="url(#lb3)"/><circle cx="62.34" cy="110.39" r="3.62" fill="url(#lb)"/><circle cx="124.65" cy="110.45" r="3.62" fill="url(#lb3)"/><circle cx="85.65" cy="110.54" r="3.62" fill="url(#lb)"/><circle cx="200.28" cy="110.91" r="3.62" fill="url(#lb3)"/><circle cx="39.81" cy="110.95" r="3.62" fill="url(#lb2)"/><circle cx="149.5" cy="111.08" r="3.62" fill="url(#lb3)"/><circle cx="109.64" cy="111.11" r="3.62" fill="url(#lb3)"/><circle cx="174.75" cy="111.34" r="3.62" fill="url(#lb3)"/><circle cx="210.21" cy="111.45" r="3.62" fill="url(#lb3)"/><circle cx="71.24" cy="111.53" r="3.62" fill="url(#lb)"/><circle cx="134.19" cy="111.78" r="3.63" fill="url(#lb3)"/><circle cx="220.16" cy="111.8" r="3.63" fill="url(#lb3)"/><circle cx="48.39" cy="111.82" r="3.63" fill="url(#lb)"/><circle cx="94.83" cy="111.85" r="3.63" fill="url(#lb3)"/><circle cx="184.59" cy="112.25" r="3.63" fill="url(#lb3)"/><circle cx="159.22" cy="112.27" r="3.63" fill="url(#lb3)"/><circle cx="119.06" cy="112.46" r="3.63" fill="url(#lb3)"/><circle cx="80.26" cy="112.74" r="3.63" fill="url(#lb)"/><circle cx="57.11" cy="112.79" r="3.63" fill="url(#lb)"/><circle cx="26.4" cy="113" r="3.64" fill="url(#lb3)"/><circle cx="194.47" cy="113.03" r="3.64" fill="url(#lb3)"/><circle cx="143.81" cy="113.06" r="3.64" fill="url(#lb3)"/><circle cx="104.11" cy="113.18" r="3.64" fill="url(#lb3)"/><circle cx="168.98" cy="113.35" r="3.64" fill="url(#lb3)"/><circle cx="34.77" cy="113.62" r="3.64" fill="url(#lb3)"/><circle cx="204.38" cy="113.65" r="3.64" fill="url(#lb3)"/><circle cx="128.56" cy="113.78" r="3.64" fill="url(#lb3)"/><circle cx="65.94" cy="113.86" r="3.64" fill="url(#lb)"/><circle cx="89.38" cy="114" r="3.64" fill="url(#lb3)"/><circle cx="71.3" cy="107.5" r="8.7" fill="url(#pk)"/><circle cx="214.32" cy="114.1" r="3.64" fill="url(#lb3)"/><circle cx="153.49" cy="114.27" r="3.65" fill="url(#lb3)"/><circle cx="178.8" cy="114.33" r="3.65" fill="url(#lb3)"/><circle cx="43.27" cy="114.38" r="3.65" fill="url(#lb)"/><circle cx="113.48" cy="114.51" r="3.65" fill="url(#lb3)"/><circle cx="74.89" cy="115.01" r="3.65" fill="url(#lb)"/><circle cx="138.13" cy="115.07" r="3.65" fill="url(#lb3)"/><circle cx="188.66" cy="115.17" r="3.65" fill="url(#lb3)"/><circle cx="51.9" cy="115.27" r="3.65" fill="url(#lb)"/><circle cx="98.6" cy="115.29" r="3.65" fill="url(#lb3)"/><circle cx="163.23" cy="115.39" r="3.65" fill="url(#lb3)"/><circle cx="122.93" cy="115.83" r="3.66" fill="url(#lb3)"/><circle cx="198.55" cy="115.87" r="3.66" fill="url(#lb3)"/><circle cx="83.95" cy="116.21" r="3.66" fill="url(#lb)"/><circle cx="60.66" cy="116.25" r="3.66" fill="url(#lb)"/><circle cx="147.77" cy="116.3" r="3.66" fill="url(#lb3)"/><circle cx="29.75" cy="116.38" r="3.66" fill="url(#lb3)"/><circle cx="208.48" cy="116.4" r="3.66" fill="url(#lb3)"/><circle cx="173.02" cy="116.41" r="3.66" fill="url(#lb3)"/><circle cx="107.92" cy="116.6" r="3.66" fill="url(#lb3)"/><circle cx="38.17" cy="117.03" r="3.67" fill="url(#lb3)"/><circle cx="132.47" cy="117.12" r="3.67" fill="url(#lb3)"/><circle cx="182.85" cy="117.32" r="3.67" fill="url(#lb3)"/><circle cx="69.55" cy="117.33" r="3.67" fill="url(#lb)"/><circle cx="157.48" cy="117.46" r="3.67" fill="url(#lb3)"/><circle cx="93.11" cy="117.46" r="3.67" fill="url(#lb3)"/><circle cx="46.73" cy="117.81" r="3.67" fill="url(#lb)"/><circle cx="117.33" cy="117.91" r="3.67" fill="url(#lb3)"/><circle cx="192.73" cy="118.09" r="3.68" fill="url(#lb3)"/><circle cx="142.07" cy="118.36" r="3.68" fill="url(#lb3)"/><circle cx="78.54" cy="118.48" r="3.68" fill="url(#lb)"/><circle cx="167.24" cy="118.52" r="3.68" fill="url(#lb3)"/><circle cx="202.64" cy="118.7" r="3.68" fill="url(#lb3)"/><circle cx="55.41" cy="118.71" r="3.68" fill="url(#lb)"/><circle cx="102.38" cy="118.74" r="3.68" fill="url(#lb3)"/><circle cx="126.81" cy="119.19" r="3.68" fill="url(#lb3)"/><circle cx="177.05" cy="119.48" r="3.69" fill="url(#lb3)"/><circle cx="151.74" cy="119.54" r="3.69" fill="url(#lb3)"/><circle cx="87.64" cy="119.68" r="3.69" fill="url(#lb3)"/><circle cx="64.22" cy="119.72" r="3.69" fill="url(#lb)"/><circle cx="33.1" cy="119.75" r="3.69" fill="url(#lb3)"/><circle cx="111.73" cy="120.03" r="3.69" fill="url(#lb3)"/><circle cx="186.91" cy="120.31" r="3.69" fill="url(#lb3)"/><circle cx="41.58" cy="120.43" r="3.69" fill="url(#lb3)"/><circle cx="136.38" cy="120.45" r="3.69" fill="url(#lb3)"/><circle cx="161.47" cy="120.64" r="3.69" fill="url(#lb3)"/><circle cx="73.15" cy="120.8" r="3.7" fill="url(#lb)"/><circle cx="96.85" cy="120.92" r="3.7" fill="url(#lb3)"/><circle cx="196.8" cy="121" r="3.7" fill="url(#lb3)"/><circle cx="50.18" cy="121.24" r="3.7" fill="url(#lb)"/><circle cx="121.17" cy="121.3" r="3.7" fill="url(#lb3)"/><circle cx="171.25" cy="121.65" r="3.7" fill="url(#lb3)"/><circle cx="146.01" cy="121.65" r="3.7" fill="url(#lb3)"/><circle cx="82.19" cy="121.95" r="3.71" fill="url(#lb3)"/><circle cx="58.92" cy="122.16" r="3.71" fill="url(#lb)"/><circle cx="106.15" cy="122.18" r="3.71" fill="url(#lb3)"/><circle cx="181.09" cy="122.54" r="3.71" fill="url(#lb3)"/><circle cx="130.69" cy="122.56" r="3.71" fill="url(#lb3)"/><circle cx="155.7" cy="122.78" r="3.71" fill="url(#lb3)"/><circle cx="36.45" cy="123.12" r="3.71" fill="url(#lb3)"/><circle cx="91.34" cy="123.15" r="3.71" fill="url(#lb3)"/><circle cx="67.78" cy="123.18" r="3.71" fill="url(#lb)"/><circle cx="190.96" cy="123.3" r="3.72" fill="url(#lb3)"/><circle cx="115.54" cy="123.45" r="3.72" fill="url(#lb3)"/><circle cx="140.28" cy="123.78" r="3.72" fill="url(#lb3)"/><circle cx="165.46" cy="123.83" r="3.72" fill="url(#lb3)"/><circle cx="44.98" cy="123.84" r="3.72" fill="url(#lb3)"/><circle cx="76.76" cy="124.27" r="3.72" fill="url(#lb3)"/><circle cx="100.58" cy="124.38" r="3.72" fill="url(#lb3)"/><circle cx="53.64" cy="124.67" r="3.73" fill="url(#lb)"/><circle cx="125.02" cy="124.7" r="3.73" fill="url(#lb3)"/><circle cx="175.27" cy="124.77" r="3.73" fill="url(#lb3)"/><circle cx="149.95" cy="124.94" r="3.73" fill="url(#lb3)"/><circle cx="85.84" cy="125.42" r="3.73" fill="url(#lb3)"/><circle cx="185.12" cy="125.6" r="3.73" fill="url(#lb3)"/><circle cx="62.43" cy="125.61" r="3.73" fill="url(#lb)"/><circle cx="109.92" cy="125.63" r="3.73" fill="url(#lb3)"/><circle cx="134.57" cy="125.93" r="3.74" fill="url(#lb3)"/><circle cx="159.67" cy="126.02" r="3.74" fill="url(#lb3)"/><circle cx="39.8" cy="126.5" r="3.74" fill="url(#lb3)"/><circle cx="95.03" cy="126.62" r="3.74" fill="url(#lb3)"/><circle cx="71.34" cy="126.64" r="3.74" fill="url(#lb3)"/><circle cx="119.35" cy="126.88" r="3.74" fill="url(#lb3)"/><circle cx="169.45" cy="127.01" r="3.74" fill="url(#lb3)"/><circle cx="144.19" cy="127.11" r="3.75" fill="url(#lb3)"/><circle cx="48.39" cy="127.24" r="3.75" fill="url(#lb3)"/><circle cx="80.36" cy="127.74" r="3.75" fill="url(#lb3)"/><circle cx="104.32" cy="127.84" r="3.75" fill="url(#lb3)"/><circle cx="179.28" cy="127.9" r="3.75" fill="url(#lb3)"/><circle cx="57.1" cy="128.1" r="3.75" fill="url(#lb)"/><circle cx="128.86" cy="128.1" r="3.75" fill="url(#lb3)"/><circle cx="153.88" cy="128.22" r="3.75" fill="url(#lb3)"/><circle cx="89.49" cy="128.89" r="3.76" fill="url(#lb3)"/><g transform="translate(58,103.5) rotate(110.7)" fill="none" stroke-linecap="round"><path d="M0.8,-1.8 L2.2,1.8 M3.81,-1.8 L5.21,1.8 M6.82,-1.8 L8.22,1.8 M9.82,-1.8 L11.22,1.8 M12.83,-1.8 L14.23,1.8 M15.84,-1.8 L17.24,1.8 M18.84,-1.8 L20.24,1.8 M21.85,-1.8 L23.25,1.8 " stroke="#f0801e" stroke-width="2.7"/><path d="M0.9,-1.3 L2.1,1.3 M3.91,-1.3 L5.11,1.3 M6.92,-1.3 L8.12,1.3 M9.92,-1.3 L11.12,1.3 M12.93,-1.3 L14.13,1.3 M15.94,-1.3 L17.14,1.3 M18.94,-1.3 L20.14,1.3 M21.95,-1.3 L23.15,1.3 " stroke="#c62f92" stroke-width="1.5"/></g><circle cx="65.94" cy="129.06" r="3.76" fill="url(#lb3)"/><circle cx="113.7" cy="129.07" r="3.76" fill="url(#lb3)"/><circle cx="163.63" cy="129.26" r="3.76" fill="url(#lb3)"/><circle cx="138.45" cy="129.3" r="3.76" fill="url(#lb3)"/><circle cx="43.15" cy="129.88" r="3.77" fill="url(#lb3)"/><circle cx="98.72" cy="130.09" r="3.77" fill="url(#lb3)"/><circle cx="74.9" cy="130.1" r="3.77" fill="url(#lb3)"/><circle cx="173.44" cy="130.2" r="3.77" fill="url(#lb3)"/><circle cx="123.16" cy="130.3" r="3.77" fill="url(#lb3)"/><circle cx="148.1" cy="130.44" r="3.77" fill="url(#lb3)"/><circle cx="51.79" cy="130.65" r="3.77" fill="url(#lb3)"/><circle cx="83.97" cy="131.21" r="3.78" fill="url(#lb3)"/><circle cx="108.05" cy="131.3" r="3.78" fill="url(#lb3)"/><circle cx="132.71" cy="131.5" r="3.78" fill="url(#lb3)"/><circle cx="157.82" cy="131.51" r="3.78" fill="url(#lb3)"/><circle cx="60.56" cy="131.53" r="3.78" fill="url(#lb)"/><circle cx="93.14" cy="132.37" r="3.79" fill="url(#lb3)"/><circle cx="167.6" cy="132.5" r="3.79" fill="url(#lb3)"/><circle cx="69.45" cy="132.51" r="3.79" fill="url(#lb3)"/><circle cx="117.47" cy="132.52" r="3.79" fill="url(#lb3)"/><circle cx="142.32" cy="132.66" r="3.79" fill="url(#lb3)"/><circle cx="46.5" cy="133.25" r="3.79" fill="url(#lb3)"/><circle cx="102.41" cy="133.56" r="3.8" fill="url(#lb3)"/><circle cx="78.45" cy="133.56" r="3.8" fill="url(#lb3)"/><circle cx="126.97" cy="133.72" r="3.8" fill="url(#lb3)"/><circle cx="152.01" cy="133.77" r="3.8" fill="url(#lb3)"/><circle cx="55.2" cy="134.05" r="3.8" fill="url(#lb3)"/><circle cx="87.57" cy="134.68" r="3.8" fill="url(#lb3)"/><circle cx="111.78" cy="134.76" r="3.8" fill="url(#lb3)"/><circle cx="161.76" cy="134.8" r="3.81" fill="url(#lb3)"/><circle cx="136.55" cy="134.9" r="3.81" fill="url(#lb3)"/><circle cx="64.02" cy="134.96" r="3.81" fill="url(#lb3)"/><circle cx="96.79" cy="135.84" r="3.81" fill="url(#lb3)"/><circle cx="72.96" cy="135.96" r="3.81" fill="url(#lb3)"/><circle cx="121.24" cy="135.96" r="3.81" fill="url(#lb3)"/><circle cx="146.2" cy="136.03" r="3.81" fill="url(#lb3)"/><circle cx="49.85" cy="136.62" r="3.82" fill="url(#lb3)"/><circle cx="106.11" cy="137.02" r="3.82" fill="url(#lb3)"/><circle cx="82.01" cy="137.03" r="3.82" fill="url(#lb3)"/><circle cx="155.92" cy="137.1" r="3.82" fill="url(#lb3)"/><circle cx="130.78" cy="137.15" r="3.82" fill="url(#lb3)"/><circle cx="58.6" cy="137.46" r="3.83" fill="url(#lb3)"/><circle cx="91.18" cy="138.15" r="3.83" fill="url(#lb3)"/><circle cx="115.52" cy="138.22" r="3.83" fill="url(#lb3)"/><circle cx="140.4" cy="138.3" r="3.83" fill="url(#lb3)"/><circle cx="67.47" cy="138.39" r="3.83" fill="url(#lb3)"/><circle cx="100.44" cy="139.31" r="3.84" fill="url(#lb3)"/><circle cx="150.08" cy="139.4" r="3.84" fill="url(#lb3)"/><circle cx="76.47" cy="139.41" r="3.84" fill="url(#lb3)"/><circle cx="125.01" cy="139.41" r="3.84" fill="url(#lb3)"/><circle cx="53.2" cy="140" r="3.85" fill="url(#lb3)"/><circle cx="85.57" cy="140.49" r="3.85" fill="url(#lb3)"/><circle cx="109.8" cy="140.49" r="3.85" fill="url(#lb3)"/><circle cx="134.59" cy="140.57" r="3.85" fill="url(#lb3)"/><circle cx="62.01" cy="140.86" r="3.85" fill="url(#lb3)"/><circle cx="94.78" cy="141.62" r="3.86" fill="url(#lb3)"/><circle cx="119.25" cy="141.68" r="3.86" fill="url(#lb3)"/><circle cx="144.24" cy="141.7" r="3.86" fill="url(#lb3)"/><circle cx="70.93" cy="141.82" r="3.86" fill="url(#lb3)"/><circle cx="104.09" cy="142.78" r="3.87" fill="url(#lb3)"/><circle cx="128.79" cy="142.85" r="3.87" fill="url(#lb3)"/><circle cx="79.97" cy="142.86" r="3.87" fill="url(#lb3)"/><circle cx="56.55" cy="143.38" r="3.87" fill="url(#lb3)"/><circle cx="89.13" cy="143.95" r="3.88" fill="url(#lb3)"/><circle cx="113.49" cy="143.96" r="3.88" fill="url(#lb3)"/><circle cx="138.4" cy="144" r="3.88" fill="url(#lb3)"/><circle cx="65.41" cy="144.27" r="3.88" fill="url(#lb3)"/><circle cx="98.39" cy="145.09" r="3.89" fill="url(#lb3)"/><circle cx="122.99" cy="145.14" r="3.89" fill="url(#lb3)"/><circle cx="74.39" cy="145.25" r="3.89" fill="url(#lb3)"/><circle cx="107.74" cy="146.26" r="3.89" fill="url(#lb3)"/><circle cx="132.56" cy="146.3" r="3.89" fill="url(#lb3)"/><circle cx="83.48" cy="146.3" r="3.89" fill="url(#lb3)"/><circle cx="59.9" cy="146.75" r="3.9" fill="url(#lb3)"/><circle cx="92.69" cy="147.41" r="3.9" fill="url(#lb3)"/><circle cx="117.19" cy="147.43" r="3.9" fill="url(#lb3)"/><circle cx="68.81" cy="147.67" r="3.91" fill="url(#lb3)"/><circle cx="101.99" cy="148.56" r="3.91" fill="url(#lb3)"/><circle cx="126.72" cy="148.6" r="3.91" fill="url(#lb3)"/><circle cx="77.85" cy="148.68" r="3.91" fill="url(#lb3)"/><circle cx="111.39" cy="149.73" r="3.92" fill="url(#lb3)"/><circle cx="86.99" cy="149.75" r="3.92" fill="url(#lb3)"/>
<circle cx="46.3" cy="131.1" r="3.8" fill="url(#lb3)"/>
<circle cx="53.1" cy="126.2" r="3.8" fill="url(#lb3)"/>
<circle cx="60" cy="121.2" r="3.8" fill="url(#lb3)"/>
<circle cx="67" cy="116.3" r="3.8" fill="url(#lb3)"/>
<circle cx="74.2" cy="112" r="3.8" fill="url(#lb3)"/>
<circle cx="49.7" cy="135.3" r="4" fill="url(#db)"/>
<circle cx="56.5" cy="130.4" r="4" fill="url(#db)"/>
<circle cx="63.4" cy="125.4" r="4" fill="url(#db)"/>
<circle cx="70.4" cy="120.5" r="4" fill="url(#db)"/>
<circle cx="77.6" cy="116.2" r="4" fill="url(#db)"/>
<circle cx="53.1" cy="139.5" r="4.2" fill="url(#db)"/>
<circle cx="59.9" cy="134.6" r="4.2" fill="url(#db)"/>
<circle cx="66.8" cy="129.6" r="4.2" fill="url(#db)"/>
<circle cx="73.8" cy="124.7" r="4.2" fill="url(#db)"/>
<circle cx="81" cy="120.4" r="4.2" fill="url(#db)"/>
<circle cx="74.3" cy="120.5" r="1.9" fill="#a3284c"/><circle cx="70.8" cy="125.8" r="1.9" fill="#63407e"/><circle cx="66" cy="126.8" r="1.9" fill="#a3284c"/><circle cx="63" cy="132" r="1.9" fill="#63407e"/><circle cx="59" cy="134.5" r="1.9" fill="#a3284c"/><circle cx="55" cy="139" r="1.9" fill="#63407e"/>
<polygon points="13,99 57,144 59,199 13,134.4" fill="url(#face2)"/>
<polygon points="12.6,100 20,107 20,144 13.2,134" fill="url(#brown)"/>
<clipPath id="tc11"><polygon points="13,99 57,144 59,199 13,134.4"/></clipPath><g clip-path="url(#tc11)" fill="none" stroke-linecap="round"><path d="M21,99 h0.01 M59,199 h0.01 M21.91,108.18 C22.07,121.29 21.63,134.4 21.85,144.63 M23.62,109.9 C23.84,123.23 23.21,136.56 23.53,146.99 M24.88,111.73 C23.85,125.3 26.78,138.87 25.31,149.5 M26.95,113.18 C27.43,126.94 26.04,140.7 26.74,151.5 M28.88,115.24 C29.17,129.27 28.34,143.3 28.75,154.33 M29.65,116.64 C28.54,130.86 31.71,145.07 30.12,156.25 M31.44,118.05 C31.29,132.45 31.72,146.85 31.5,158.19 M33.22,119.81 C33.22,134.43 33.22,149.06 33.22,160.6 M35.3,121.39 C36.55,136.22 32.98,151.06 34.77,162.77 M36.31,123.27 C35.63,138.35 37.58,153.43 36.61,165.36 M38.86,125.2 C39.74,140.53 37.24,155.86 38.49,168 M39.96,127.25 C38.7,142.85 42.3,158.45 40.5,170.82 M42.07,128.97 C41.81,144.8 42.55,160.62 42.18,173.18 M43.72,130.8 C43.14,146.86 44.8,162.93 43.97,175.69 M45.57,132.86 C44.61,149.19 47.36,165.53 45.98,178.53 M47.73,134.32 C48.48,150.85 46.34,167.37 47.41,180.53 M49.33,136.03 C49.91,152.77 48.24,169.52 49.08,182.87 M50.79,137.86 C50.59,154.85 51.16,171.83 50.87,185.39 M52.68,139.93 C52.19,157.19 53.6,174.44 52.89,188.23 M54.78,141.47 C55.67,158.92 53.12,176.38 54.4,190.34 M56.17,143.55 C55.56,161.27 57.3,179 56.43,193.2 M57.55,145 C56.48,163 59.55,180.99 58.01,195.42 M59.4,145 C59.08,163.75 60,182.49 59.54,197.56 " stroke="url(#tb)" stroke-width="0.8"/><path d="M21,99 h0.01 M59,199 h0.01 M21,108.18 C20.83,118.94 21.17,130.69 20.93,140.77 M24.46,111.73 C25.52,119.86 23.41,129 24.89,136.83 M27.9,115.24 C28.46,122.94 27.35,131.65 28.12,139.1 M30.65,118.05 C30.52,129.51 30.78,141.97 30.6,152.65 M33.92,121.39 C35.71,133.21 32.12,146.02 34.63,157.01 M35.76,123.27 C35.09,132.32 36.42,142.37 35.49,150.98 M37.64,125.2 C37.28,134.94 38,145.69 37.49,154.9 M41.33,128.97 C43.06,137.28 39.6,146.59 42.02,154.57 M45.13,132.86 C46.06,142.48 44.2,153.09 45.5,162.19 M48.23,136.03 C47.11,145.21 49.34,155.4 47.78,164.13 M52.04,139.93 C53.14,154.07 50.95,169.2 52.48,182.17 M53.55,141.47 C53.17,154.26 53.93,168.05 53.39,179.88 M55.58,143.55 C54.55,157.38 56.61,172.21 55.17,184.92 M58.69,145 C59.05,157.53 58.32,171.06 58.83,182.66 " stroke="url(#tg)" stroke-width="0.8"/></g>
<circle cx="15.36" cy="107.5" r="1.4" fill="url(#yb)"/><circle cx="16.4" cy="109.8" r="1.4" fill="url(#yb)"/><circle cx="15.36" cy="112.1" r="1.4" fill="url(#yb)"/><circle cx="16.4" cy="114.4" r="1.4" fill="url(#yb)"/>
<circle cx="13" cy="134.4" r="3" fill="url(#lb0)"/>
<circle cx="16.6" cy="139" r="3.08" fill="url(#lb0)"/>
<circle cx="20" cy="143.6" r="3.17" fill="url(#lb0)"/>
<circle cx="23.4" cy="148.4" r="3.25" fill="url(#lb2)"/>
<circle cx="26.8" cy="153.4" r="3.33" fill="url(#lb2)"/>
<circle cx="30" cy="158.6" r="3.42" fill="url(#lb)"/>
<circle cx="34" cy="164" r="3.5" fill="url(#lb)"/>
<circle cx="38" cy="170" r="3.58" fill="url(#lb3)"/>
<circle cx="42" cy="175" r="3.67" fill="url(#lb3)"/>
<circle cx="45.6" cy="180.4" r="3.75" fill="url(#db)"/>
<circle cx="49" cy="185" r="3.83" fill="url(#db)"/>
<circle cx="52.4" cy="189.6" r="3.92" fill="url(#db)"/>
<circle cx="55.6" cy="194.2" r="4" fill="url(#db)"/>
<path d="M33,107 C38,104.5 43,108 45.5,116 C47.5,128 47.5,150 46,161 C45,168 40,170.5 36,168.5 C33,160 33,120 33,107Z" fill="#df6fa2"/><path d="M41.5,140 C44.5,140 46.5,146 46,160 C45.2,167 41,170 37.5,168.6 C40.5,162 41.5,150 41.5,140Z" fill="#c8307a"/><path d="M29.5,111 C30,106.5 35.5,106 38.5,109 C41,114 42,130 42,145 C42,158 41,166 37.5,168.6 C33.5,169.6 30.5,165 30,157 C29.5,145 29.5,125 29.5,111Z" fill="url(#pA)" stroke="#e07fb0" stroke-width="0.4"/><path d="M19,107 C19,102.5 24,101 27.5,103 C30.5,106 31,118 31,132 C31,146 31,153 29,156.5 C25.5,157.8 22,154 21,148 C19.5,138 19,120 19,107Z" fill="url(#pA)" stroke="#e07fb0" stroke-width="0.4"/><path d="M27,103.5 C30,101.5 34,103 35,106.5 C33,108 30,108.5 28.5,106.5Z" fill="#f2a7c6" stroke="#e07aa8" stroke-width="0.4"/>
<polygon points="56.6,144 84.6,124.4 84.6,176.6 59,199" fill="url(#face2)"/>
<clipPath id="tc12"><polygon points="56.6,144 84.6,124.4 84.6,176.6 59,199"/></clipPath><g clip-path="url(#tc12)" fill="none" stroke-linecap="round"><path d="M56,124.4 h0.01 M86,199 h0.01 M57.02,145 C57.42,163.9 56.28,182.8 56.85,198 M58.17,144.39 C57.86,163.5 58.76,182.62 58.31,198 M60.2,143.08 C60.35,162.56 59.93,182.04 60.14,197.73 M61.23,142.04 C60.38,161.41 62.81,180.77 61.6,196.37 M63.71,140.67 C64.19,159.89 62.84,179.11 63.51,194.58 M64.63,139.49 C63.41,158.59 66.88,177.69 65.15,193.06 M67.38,138.23 C68.61,157.21 65.1,176.19 66.85,191.46 M67.9,137.18 C66.98,156.06 69.6,174.94 68.29,190.12 M69.28,136.09 C68.15,154.87 71.38,173.65 69.76,188.75 M71.59,134.7 C71.38,153.34 71.97,171.99 71.68,186.96 M73.54,133.58 C74.11,152.11 72.48,170.64 73.3,185.53 M75.17,132.17 C74.8,150.57 75.84,168.98 75.32,183.75 M76.85,130.91 C76.19,149.19 78.09,167.48 77.14,182.15 M78.85,129.74 C78.85,147.92 78.85,166.1 78.85,180.68 M80.2,128.65 C79.5,146.75 81.5,164.86 80.5,179.37 M81.69,127.59 C80.69,145.61 83.55,163.63 82.12,178.08 M83.72,126.38 C83.15,144.32 84.76,162.25 83.96,176.63 M85.71,125.4 C85.6,143.32 85.9,161.24 85.75,175.6 " stroke="url(#tb2)" stroke-width="0.8"/><path d="M56,124.4 h0.01 M86,199 h0.01 M56,145 C55.91,159.08 56.09,174.15 55.96,187.08 M59.29,143.08 C59.65,157.58 58.92,173.07 59.43,186.35 M60.75,142.04 C60.53,158.13 60.96,175.23 60.66,189.88 M62.66,140.67 C61.13,152.74 64.19,165.81 62.05,177.02 M66,138.23 C64.53,154.27 67.48,171.31 65.41,185.91 M68.91,136.09 C69.62,146.76 68.2,158.43 69.19,168.43 M72.45,133.58 C70.76,149.36 74.14,166.14 71.77,180.52 M76.29,130.91 C74.9,142.53 77.68,155.15 75.73,165.96 M79.65,128.65 C79.72,140.56 79.58,153.47 79.68,164.53 M81.27,127.59 C82.25,140.23 80.29,153.87 81.67,165.56 M83.11,126.38 C81.44,137.64 84.77,149.9 82.44,160.41 " stroke="url(#tg)" stroke-width="0.8"/></g>
<circle cx="49.3" cy="142.5" r="2" fill="url(#yb)"/><circle cx="50.6" cy="145.4" r="2" fill="url(#yb)"/><circle cx="49.3" cy="148.3" r="2" fill="url(#yb)"/><circle cx="50.6" cy="151.2" r="2" fill="url(#yb)"/><circle cx="49.3" cy="154.1" r="2" fill="url(#yb)"/>
<circle cx="71.3" cy="168" r="2" fill="url(#yb)"/><circle cx="72.6" cy="170.9" r="2" fill="url(#yb)"/><circle cx="71.3" cy="173.8" r="2" fill="url(#yb)"/><circle cx="72.6" cy="176.7" r="2" fill="url(#yb)"/><circle cx="71.3" cy="179.6" r="2" fill="url(#yb)"/>
<circle cx="59" cy="199" r="4.3" fill="url(#db)"/>
<circle cx="65" cy="193.4" r="4.3" fill="url(#db)"/>
<circle cx="71" cy="187.8" r="4.3" fill="url(#db)"/>
<circle cx="77.6" cy="182" r="4.3" fill="url(#db)"/>
<circle cx="84.4" cy="176.6" r="4.3" fill="url(#db)"/>
<polygon points="100,114 109,112.6 116.6,110 124,107.2 132.6,104.4 141.5,102.6 150,101.6 158.6,100.6 167,100 175.6,100 184,100.6 192.6,101.6 203,103 216,106 224.6,109.2 219.4,145.6 212,143.6 202,141.8 192.6,140.8 184,140.4 175.6,140.6 167,141.4 158.6,142.6 150.4,144.4 142,146.5 134,149 125.6,152.6 117.2,156.4 109,160 100,164" fill="url(#face3)"/>
<polygon points="100,113 150,101 150,145 100,164" fill="url(#shade)"/>
<clipPath id="tc13"><polygon points="100,114 109,112.6 116.6,110 124,107.2 132.6,104.4 141.5,102.6 150,101.6 158.6,100.6 167,100 175.6,100 184,100.6 192.6,101.6 203,103 216,106 224.6,109.2 219.4,145.6 212,143.6 202,141.8 192.6,140.8 184,140.4 175.6,140.6 167,141.4 158.6,142.6 150.4,144.4 142,146.5 134,149 125.6,152.6 117.2,156.4 109,160 100,164"/></clipPath><g clip-path="url(#tc13)" fill="none" stroke-linecap="round"><path d="M104,100 h0.01 M226,164 h0.01 M105.05,114.38 C105.52,131.12 104.18,147.87 104.85,161.22 M106.5,114.08 C105.82,130.63 107.76,147.18 106.79,160.36 M108.68,113.79 C108.76,130.15 108.53,146.51 108.65,159.53 M110.57,113.48 C111.42,129.71 108.99,145.93 110.21,158.84 M112.16,112.95 C113.09,129.12 110.42,145.3 111.75,158.16 M113.93,112.3 C114.54,128.41 112.78,144.52 113.66,157.33 M115.18,111.77 C115.15,127.83 115.24,143.89 115.2,156.65 M116.79,111.17 C116.45,127.17 117.43,143.17 116.94,155.89 M118.7,110.65 C119.45,126.61 117.31,142.57 118.38,155.25 M120.48,109.96 C121.1,125.87 119.32,141.78 120.21,154.42 M121.55,109.33 C120.8,125.2 122.94,141.07 121.87,153.67 M123.52,108.75 C123.78,124.58 123.02,140.41 123.4,152.98 M124.81,108.12 C124.15,123.9 126.05,139.68 125.1,152.21 M126.87,107.6 C127.25,123.31 126.16,139.02 126.71,151.49 M128.06,106.99 C126.91,122.64 130.2,138.29 128.56,150.7 M130.61,106.37 C130.96,121.95 129.96,137.53 130.46,149.88 M132.74,105.74 C133.51,121.24 131.32,136.75 132.41,149.04 M134.59,105.22 C135.13,120.62 133.58,136.01 134.36,148.21 M135.81,104.86 C135.09,120.17 137.16,135.48 136.13,147.6 M137.73,104.5 C137.37,119.75 138.39,134.99 137.88,147.05 M139.64,104.19 C140.1,119.37 138.78,134.55 139.44,146.57 M141.11,103.88 C141.47,119.01 140.44,134.13 140.95,146.09 M142.17,103.6 C141.78,118.67 142.91,133.74 142.34,145.66 M143.29,103.44 C142.34,118.44 145.07,133.43 143.7,145.29 M145.44,103.23 C145.36,118.15 145.58,133.06 145.47,144.85 M147.22,103.01 C146.8,117.83 147.99,132.66 147.4,144.36 M149.29,102.8 C149.72,117.55 148.5,132.3 149.11,143.94 M150.93,102.64 C151.97,117.32 149.01,132.01 150.49,143.59 M152.05,102.43 C151.45,117.04 153.18,131.65 152.31,143.17 M153.69,102.24 C153.15,116.79 154.68,131.34 153.92,142.81 M154.86,102.08 C153.81,116.58 156.79,131.08 155.3,142.51 M157.37,101.88 C158.06,116.31 156.08,130.75 157.07,142.12 M158.58,101.67 C158.05,116.05 159.57,130.42 158.81,141.74 M159.84,101.54 C158.86,115.87 161.66,130.2 160.26,141.48 M161.32,101.43 C160.15,115.72 163.51,130.01 161.83,141.26 M163.84,101.32 C164.79,115.57 162.08,129.82 163.43,141.03 M165.48,101.19 C166.25,115.4 164.06,129.61 165.16,140.78 M166.72,101.05 C165.78,115.21 168.47,129.37 167.12,140.5 M169.05,101 C169,115.1 169.15,129.2 169.07,140.29 M170.36,101 C169.64,115.05 171.7,129.1 170.67,140.14 M173.12,101 C174.18,114.98 171.15,128.97 172.66,139.95 M174.78,101 C175.64,114.93 173.19,128.85 174.41,139.79 M176.2,101 C176.99,114.88 174.74,128.76 175.87,139.65 M177.21,101.07 C176.7,114.9 178.16,128.72 177.43,139.58 M178.39,101.17 C177.4,114.95 180.23,128.73 178.81,139.54 M181.09,101.31 C181.87,115.02 179.65,128.74 180.76,139.5 M182.46,101.45 C181.93,115.1 183.44,128.75 182.69,139.45 M184.66,101.55 C185.91,115.15 182.34,128.76 184.12,139.42 M185.48,101.74 C184.23,115.29 187.8,128.84 186.02,139.45 M188.02,101.91 C189.13,115.43 185.98,128.94 187.55,139.53 M190.02,102.14 C191.27,115.61 187.72,129.07 189.49,139.62 M191.14,102.34 C191.04,115.76 191.32,129.19 191.18,139.69 M192.65,102.51 C192.59,115.9 192.76,129.29 192.67,139.76 M194.77,102.73 C195.58,116.09 193.27,129.45 194.42,139.9 M196.6,102.97 C197.57,116.31 194.8,129.65 196.18,140.09 M197.59,103.2 C196.87,116.52 198.93,129.85 197.9,140.27 M199.03,103.42 C197.83,116.73 201.27,130.04 199.55,140.45 M200.63,103.62 C199.76,116.91 202.25,130.21 201.01,140.6 M202.98,103.89 C202.95,117.16 203.04,130.44 203,140.83 M203.99,104.16 C202.76,117.44 206.29,130.72 204.52,141.1 M205.63,104.52 C204.5,117.78 207.73,131.03 206.11,141.39 M208.02,104.9 C208.63,118.13 206.9,131.35 207.76,141.68 M210.11,105.36 C210.95,118.55 208.56,131.74 209.76,142.04 M211.71,105.79 C211.93,118.95 211.28,132.1 211.61,142.38 M212.98,106.22 C211.86,119.36 215.06,132.5 213.46,142.77 M215.53,106.63 C216.23,119.79 214.25,132.96 215.24,143.24 M217.23,107.11 C217.41,120.29 216.89,133.47 217.15,143.76 M219.63,107.85 C220.77,120.96 217.52,134.07 219.14,144.3 M220.99,108.59 C220.68,121.54 221.57,134.5 221.12,144.6 M223.15,109.22 C223.94,121.95 221.68,134.69 222.81,144.6 M224.54,109.84 C224.71,122.35 224.24,134.87 224.47,144.6 M225.51,110.2 C224.61,122.59 227.16,134.98 225.89,144.6 " stroke="url(#tb)" stroke-width="0.8"/><path d="M104,100 h0.01 M226,164 h0.01 M104,114.38 C103.13,126.87 104.87,140.37 103.65,151.94 M107.8,113.79 C106.47,123.23 109.13,133.67 107.26,142.62 M109.36,113.48 C109.11,125.13 109.6,137.77 109.26,148.61 M110.9,112.95 C109.63,125.72 112.18,139.49 110.4,151.3 M114.35,111.77 C115.61,124.13 113.09,137.49 114.85,148.94 M117.53,110.65 C118.68,124.25 116.38,138.84 117.99,151.36 M121.02,109.33 C119.86,120.22 122.19,132.1 120.56,142.29 M122.55,108.75 C122.41,118.89 122.7,130.03 122.5,139.58 M124.25,108.12 C123.3,117.09 125.2,127.06 123.87,135.61 M127.71,106.99 C129.26,115.58 126.15,125.18 128.33,133.4 M131.56,105.74 C132.95,114.59 130.17,124.43 132.12,132.88 M135.28,104.86 C136.08,115.85 134.47,127.85 135.6,138.13 M138.59,104.19 C137.38,112.34 139.8,121.49 138.11,129.34 M141.49,103.6 C141.27,111.58 141.71,120.56 141.4,128.26 M144.62,103.23 C143.1,112.59 146.14,122.94 144.01,131.82 M148.26,102.8 C148.17,111.67 148.35,121.54 148.22,130 M151.46,102.43 C152.72,112.73 150.21,124.04 151.97,133.73 M154.45,102.08 C154.08,113.19 154.82,125.3 154.31,135.68 M157.96,101.67 C157.36,111.01 158.56,121.35 157.72,130.22 M160.98,101.43 C160.58,109.14 161.38,117.85 160.82,125.31 M162.58,101.32 C162.37,113.4 162.79,126.49 162.5,137.71 M164.31,101.19 C162.97,109.84 165.64,119.49 163.77,127.77 M168.22,101 C166.96,109.83 169.48,119.65 167.72,128.08 M171.81,101 C171.89,110.09 171.74,120.19 171.84,128.84 M173.56,101 C174,112.34 173.13,124.67 173.74,135.25 M175.02,101 C175.14,110.48 174.9,120.97 175.07,129.95 M176.58,101.07 C178.24,108.3 174.92,116.53 177.25,123.58 M177.96,101.17 C178.78,111.48 177.14,122.8 178.29,132.49 M181.84,101.45 C182.62,111.88 181.06,123.32 182.15,133.12 M185.17,101.74 C184.99,108.52 185.34,116.31 185.09,122.99 M188.64,102.14 C188.34,112.42 188.94,123.71 188.52,133.38 M191.82,102.51 C191.38,109.98 192.27,118.46 191.64,125.72 M193.57,102.73 C191.9,110.13 195.25,118.53 192.9,125.73 M195.33,102.97 C194.64,111.88 196.03,121.79 195.06,130.29 M198.7,103.42 C200.35,114.06 197.05,125.69 199.36,135.66 M202.15,103.89 C201.27,113.28 203.02,123.68 201.8,132.59 M205.26,104.52 C204.26,114.34 206.27,125.16 204.86,134.43 M208.91,105.36 C210.05,115.04 207.77,125.71 209.36,134.86 M210.76,105.79 C211.36,113.43 210.16,122.08 211,129.49 M212.61,106.22 C212.96,115.67 212.26,126.12 212.75,135.08 M216.3,107.11 C216.3,115.51 216.3,124.91 216.3,132.97 M220.27,108.59 C220.94,115.27 219.61,122.95 220.54,129.53 M223.62,109.84 C223.3,119.29 223.95,129.74 223.5,138.7 " stroke="url(#tg)" stroke-width="0.8"/></g>
<polygon points="213,105.5 224.6,109.2 222,146 213,143.6" fill="#fbe6b0" opacity="0.55"/>
<circle cx="120.73" cy="141.5" r="1.9" fill="url(#yb)"/><circle cx="121.9" cy="144.1" r="1.9" fill="url(#yb)"/><circle cx="120.73" cy="146.7" r="1.9" fill="url(#yb)"/><circle cx="121.9" cy="149.3" r="1.9" fill="url(#yb)"/><circle cx="120.73" cy="151.9" r="1.9" fill="url(#yb)"/>
<circle cx="163.87" cy="105" r="2" fill="url(#yb)"/><circle cx="165.3" cy="108" r="2" fill="url(#yb)"/><circle cx="163.87" cy="111" r="2" fill="url(#yb)"/><circle cx="165.3" cy="114" r="2" fill="url(#yb)"/><circle cx="163.87" cy="117" r="2" fill="url(#yb)"/>
<circle cx="188.13" cy="102.5" r="1.7" fill="url(#yb)"/><circle cx="189.3" cy="104.9" r="1.7" fill="url(#yb)"/><circle cx="188.13" cy="107.3" r="1.7" fill="url(#yb)"/><circle cx="189.3" cy="109.7" r="1.7" fill="url(#yb)"/>
<circle cx="219.13" cy="109.5" r="1.7" fill="url(#yb)"/><circle cx="220.3" cy="111.8" r="1.7" fill="url(#yb)"/><circle cx="219.13" cy="114.1" r="1.7" fill="url(#yb)"/><circle cx="220.3" cy="116.4" r="1.7" fill="url(#yb)"/>
<circle cx="109" cy="160" r="4.3" fill="url(#db)"/>
<circle cx="117.2" cy="156.4" r="4.3" fill="url(#db)"/>
<circle cx="125.6" cy="152.6" r="4.3" fill="url(#db)"/>
<circle cx="134" cy="149" r="4.3" fill="url(#db)"/>
<circle cx="150.4" cy="144.4" r="4.3" fill="url(#db)"/>
<circle cx="158.6" cy="142.6" r="4.3" fill="url(#db)"/>
<circle cx="167" cy="141.4" r="4.3" fill="url(#db)"/>
<circle cx="175.6" cy="140.6" r="4.3" fill="url(#db)"/>
<circle cx="184" cy="140.4" r="4.3" fill="url(#db)"/>
<circle cx="192.6" cy="140.8" r="4.3" fill="url(#db)"/>
<circle cx="212" cy="143.6" r="4.3" fill="url(#db)"/>
<circle cx="219.4" cy="145.6" r="4.3" fill="url(#db)"/>
<path d="M137.4,110.4 C137.4,102.73 149.2,102.73 149.2,110.4 L148.8,145.6 C148.8,153.27 138,153.27 138,145.6 Z" fill="url(#pB)"/><path d="M138.2,137.4 C140.35,135.52 142.36,142.1 142.36,150.5 C139.76,151 138.2,146.8 138.2,137.4 Z" fill="#bf2470"/><path d="M140.7,109.2 C139.76,118.6 140.94,128 142.36,133.64" fill="none" stroke="#fbe3ee" stroke-width="0.7" opacity="0.9"/>
<path d="M194.2,107.8 C194.2,95.71 212.8,95.71 212.8,107.8 L212.4,136.7 C212.4,148.79 194.8,148.79 194.8,136.7 Z" fill="url(#pB)"/><path d="M195,131.75 C198.85,129.85 202.01,136.5 202.01,145 C197.92,145.5 195,141.25 195,131.75 Z" fill="#bf2470"/><path d="M199.41,103.25 C197.92,112.75 199.78,122.25 202.01,127.95" fill="none" stroke="#fbe3ee" stroke-width="0.7" opacity="0.9"/>
<circle cx="109" cy="112.6" r="4.4" fill="url(#db)"/>
<circle cx="116.6" cy="110" r="4.4" fill="url(#db)"/>
<circle cx="124" cy="107.2" r="4.4" fill="url(#db)"/>
<circle cx="132.6" cy="104.4" r="4.4" fill="url(#db)"/>
<circle cx="150" cy="101.6" r="4.4" fill="url(#db)"/>
<circle cx="158.6" cy="100.6" r="4.4" fill="url(#db)"/>
<circle cx="167" cy="100" r="4.4" fill="url(#db)"/>
<circle cx="175.6" cy="100" r="4.4" fill="url(#db)"/>
<circle cx="184" cy="100.6" r="4.4" fill="url(#db)"/>
<circle cx="192.6" cy="101.6" r="4.4" fill="url(#db)"/>
<circle cx="216" cy="106" r="4.4" fill="url(#db)"/>
<circle cx="224.6" cy="109.2" r="4.4" fill="url(#db)"/>
<path d="M87,114 C92,111.8 98,110.8 103.4,111.2 C104.4,120 104.6,135 104,150 C103.6,162 103,172 102.6,178.4 C99,179.4 95,178.6 92.5,176.5 C88.5,172.5 85.6,165 84.6,157 C83.4,146 83.4,128 87,114Z" fill="url(#pC)"/><path d="M85.6,153 C88.5,151 92.5,154 93.5,161 C94.4,168 94.2,173.5 93,176.8 C89,173 86.4,165 85.6,153Z" fill="#c22a6e"/><path d="M100.5,112.5 C92,116 91,126 93.6,138 C96,150 96.4,164 97.6,177.6" fill="none" stroke="#f7bfd2" stroke-width="0.5"/><path d="M86.5,114.5 C92,112 98,110.8 103.4,111.2 C98,113.5 94.5,117 93,122 C91,119 88.8,116.4 86.5,114.5Z" fill="#f08fb0" opacity="0.8"/>
<circle cx="56.6" cy="144" r="4.4" fill="url(#db)"/>
<circle cx="63.6" cy="139" r="4.4" fill="url(#db)"/>
<circle cx="70.4" cy="134" r="4.4" fill="url(#db)"/>
<circle cx="77.6" cy="129" r="4.4" fill="url(#db)"/>
<circle cx="84.6" cy="124.4" r="4.4" fill="url(#db)"/>
<path d="M38.5,79.5C38.83,78.12 38.92,74.25 40.5,71.2C42.08,68.15 46.75,65.45 48,61.2C49.25,56.95 48,48.28 48,45.7" fill="none" stroke="#3c3c3c" stroke-width="0.75"/><path d="M71,99.5C70.95,98.2 70.03,95.17 70.7,91.7C71.37,88.23 75.53,82.12 75,78.7C74.47,75.28 70.42,72.98 67.5,71.2C64.58,69.42 59.17,68.53 57.5,68" fill="none" stroke="#3c3c3c" stroke-width="0.75"/><path d="M87,65C87.08,63.67 86.58,60.55 87.5,57C88.42,53.45 93,47.17 92.5,43.7C92,40.23 87.5,37.87 84.5,36.2C81.5,34.53 76.17,34.12 74.5,33.7" fill="none" stroke="#3c3c3c" stroke-width="0.75"/><path d="M129,62.5C128.67,61.45 127.88,58.5 127,56.2C126.12,53.9 124.25,49.95 123.7,48.7" fill="none" stroke="#3c3c3c" stroke-width="0.75"/><path d="M129.5,62.5C129.92,61.45 130.88,59.33 132,56.2C133.12,53.07 134.95,47.73 136.2,43.7C137.45,39.67 138.95,33.95 139.5,32" fill="none" stroke="#3c3c3c" stroke-width="0.75"/><path d="M132.5,78.5C133.25,77.5 136.58,75.08 137,72.5C137.42,69.92 135.83,65.72 135,63C134.17,60.28 132.5,57.33 132,56.2" fill="none" stroke="#3c3c3c" stroke-width="0.75"/><path d="M180.5,78C181.17,77.08 182.75,74.33 184.5,72.5C186.25,70.67 189.75,69 191,67C192.25,65 191.83,63.67 192,60.5C192.17,57.33 192,51.92 192,48C192,44.08 192,38.83 192,37" fill="none" stroke="#3c3c3c" stroke-width="0.75"/><polygon points="44.1,71.2 42.3,74.32 38.7,74.32 36.9,71.2 38.7,68.08 42.3,68.08" fill="#3fae3c" stroke="#2f8f2f" stroke-width="0.4"/><polygon points="51.6,61.2 49.8,64.32 46.2,64.32 44.4,61.2 46.2,58.08 49.8,58.08" fill="#3fae3c" stroke="#2f8f2f" stroke-width="0.4"/><polygon points="51.6,45.7 49.8,48.82 46.2,48.82 44.4,45.7 46.2,42.58 49.8,42.58" fill="#3fae3c" stroke="#2f8f2f" stroke-width="0.4"/><polygon points="74.3,91.7 72.5,94.82 68.9,94.82 67.1,91.7 68.9,88.58 72.5,88.58" fill="#3fae3c" stroke="#2f8f2f" stroke-width="0.4"/><polygon points="78.6,78.7 76.8,81.82 73.2,81.82 71.4,78.7 73.2,75.58 76.8,75.58" fill="#3fae3c" stroke="#2f8f2f" stroke-width="0.4"/><polygon points="71.1,71.2 69.3,74.32 65.7,74.32 63.9,71.2 65.7,68.08 69.3,68.08" fill="#3fae3c" stroke="#2f8f2f" stroke-width="0.4"/><polygon points="61.1,68 59.3,71.12 55.7,71.12 53.9,68 55.7,64.88 59.3,64.88" fill="#3fae3c" stroke="#2f8f2f" stroke-width="0.4"/><polygon points="91.1,57 89.3,60.12 85.7,60.12 83.9,57 85.7,53.88 89.3,53.88" fill="#3fae3c" stroke="#2f8f2f" stroke-width="0.4"/><polygon points="96.1,43.7 94.3,46.82 90.7,46.82 88.9,43.7 90.7,40.58 94.3,40.58" fill="#3fae3c" stroke="#2f8f2f" stroke-width="0.4"/><polygon points="88.1,36.2 86.3,39.32 82.7,39.32 80.9,36.2 82.7,33.08 86.3,33.08" fill="#3fae3c" stroke="#2f8f2f" stroke-width="0.4"/><polygon points="78.1,33.7 76.3,36.82 72.7,36.82 70.9,33.7 72.7,30.58 76.3,30.58" fill="#3fae3c" stroke="#2f8f2f" stroke-width="0.4"/><polygon points="130.6,56.2 128.8,59.32 125.2,59.32 123.4,56.2 125.2,53.08 128.8,53.08" fill="#3fae3c" stroke="#2f8f2f" stroke-width="0.4"/><polygon points="127.3,48.7 125.5,51.82 121.9,51.82 120.1,48.7 121.9,45.58 125.5,45.58" fill="#3fae3c" stroke="#2f8f2f" stroke-width="0.4"/><polygon points="135.6,56.2 133.8,59.32 130.2,59.32 128.4,56.2 130.2,53.08 133.8,53.08" fill="#3fae3c" stroke="#2f8f2f" stroke-width="0.4"/><polygon points="139.8,43.7 138,46.82 134.4,46.82 132.6,43.7 134.4,40.58 138,40.58" fill="#3fae3c" stroke="#2f8f2f" stroke-width="0.4"/><polygon points="143.1,32 141.3,35.12 137.7,35.12 135.9,32 137.7,28.88 141.3,28.88" fill="#3fae3c" stroke="#2f8f2f" stroke-width="0.4"/><polygon points="140.6,72.5 138.8,75.62 135.2,75.62 133.4,72.5 135.2,69.38 138.8,69.38" fill="#3fae3c" stroke="#2f8f2f" stroke-width="0.4"/><polygon points="138.6,63 136.8,66.12 133.2,66.12 131.4,63 133.2,59.88 136.8,59.88" fill="#3fae3c" stroke="#2f8f2f" stroke-width="0.4"/><polygon points="188.1,72.5 186.3,75.62 182.7,75.62 180.9,72.5 182.7,69.38 186.3,69.38" fill="#3fae3c" stroke="#2f8f2f" stroke-width="0.4"/><polygon points="195.6,60.5 193.8,63.62 190.2,63.62 188.4,60.5 190.2,57.38 193.8,57.38" fill="#3fae3c" stroke="#2f8f2f" stroke-width="0.4"/><polygon points="195.6,48 193.8,51.12 190.2,51.12 188.4,48 190.2,44.88 193.8,44.88" fill="#3fae3c" stroke="#2f8f2f" stroke-width="0.4"/><polygon points="195.6,37 193.8,40.12 190.2,40.12 188.4,37 190.2,33.88 193.8,33.88" fill="#3fae3c" stroke="#2f8f2f" stroke-width="0.4"/></g>
<g filter="url(#soft)"><g id="membR" transform="translate(345.8,10.75) scale(1.05,0.95)"><path d="M1,157 C10,163 20,166 30,166 M20,173.6 C30,176 40,181 46,188 M30,188 C40,191 50,195 56,200.4 M113.3,161.7 C126,160 138,164 145,171.7 M146.7,150 C146,158 139,164 130.8,167.5 M214,147.5 C212,156 202,160 193,163.3" fill="none" stroke="#dcae6e" stroke-width="0.9" stroke-linecap="round"/>
<circle cx="143.5" cy="60.5" r="3.23" fill="url(#lb2)"/><circle cx="137.8" cy="60.72" r="3.23" fill="url(#lb2)"/><circle cx="132.14" cy="61.04" r="3.23" fill="url(#lb2)"/><circle cx="126.52" cy="61.48" r="3.23" fill="url(#lb2)"/><circle cx="120.94" cy="62.04" r="3.24" fill="url(#lb2)"/><circle cx="115.4" cy="62.7" r="3.24" fill="url(#lb2)"/><circle cx="147.62" cy="62.95" r="3.25" fill="url(#lb2)"/><circle cx="141.92" cy="63.27" r="3.25" fill="url(#lb2)"/><circle cx="109.9" cy="63.48" r="3.25" fill="url(#lb2)"/><circle cx="136.25" cy="63.7" r="3.25" fill="url(#lb2)"/><circle cx="130.62" cy="64.23" r="3.26" fill="url(#lb2)"/><circle cx="104.44" cy="64.36" r="3.26" fill="url(#lb2)"/><circle cx="125.02" cy="64.87" r="3.26" fill="url(#lb2)"/><circle cx="99.02" cy="65.36" r="3.27" fill="url(#lb2)"/><circle cx="151.75" cy="65.4" r="3.27" fill="url(#lb2)"/><circle cx="119.47" cy="65.62" r="3.27" fill="url(#lb2)"/><circle cx="146.04" cy="65.82" r="3.27" fill="url(#lb2)"/><circle cx="140.36" cy="66.35" r="3.27" fill="url(#lb2)"/><circle cx="113.95" cy="66.47" r="3.27" fill="url(#lb2)"/><circle cx="93.64" cy="66.48" r="3.27" fill="url(#lb2)"/><circle cx="134.72" cy="66.98" r="3.28" fill="url(#lb2)"/><circle cx="108.47" cy="67.43" r="3.28" fill="url(#lb2)"/><circle cx="88.3" cy="67.7" r="3.28" fill="url(#lb2)"/><circle cx="129.11" cy="67.7" r="3.28" fill="url(#lb2)"/><circle cx="155.88" cy="67.85" r="3.28" fill="url(#lb)"/><circle cx="150.15" cy="68.38" r="3.29" fill="url(#lb)"/><circle cx="103.03" cy="68.49" r="3.29" fill="url(#lb2)"/><circle cx="123.54" cy="68.53" r="3.29" fill="url(#lb2)"/><circle cx="144.47" cy="69" r="3.29" fill="url(#lb)"/><circle cx="83" cy="69.04" r="3.29" fill="url(#lb2)"/><circle cx="118.01" cy="69.46" r="3.3" fill="url(#lb2)"/><circle cx="97.63" cy="69.66" r="3.3" fill="url(#lb2)"/><circle cx="138.81" cy="69.72" r="3.3" fill="url(#lb)"/><circle cx="160" cy="70.3" r="3.3" fill="url(#lb)"/><circle cx="77.74" cy="70.48" r="3.3" fill="url(#lb2)"/><circle cx="112.51" cy="70.49" r="3.3" fill="url(#lb2)"/><circle cx="133.19" cy="70.54" r="3.31" fill="url(#lb)"/><circle cx="154.27" cy="70.93" r="3.31" fill="url(#lb)"/><circle cx="92.27" cy="70.94" r="3.31" fill="url(#lb2)"/><circle cx="127.61" cy="71.45" r="3.31" fill="url(#lb)"/><circle cx="107.05" cy="71.62" r="3.31" fill="url(#lb2)"/><circle cx="148.58" cy="71.66" r="3.31" fill="url(#lb)"/><circle cx="72.52" cy="72.04" r="3.32" fill="url(#lb2)"/><circle cx="86.94" cy="72.32" r="3.32" fill="url(#lb2)"/><circle cx="122.06" cy="72.45" r="3.32" fill="url(#lb)"/><circle cx="142.91" cy="72.47" r="3.32" fill="url(#lb)"/><circle cx="164.12" cy="72.75" r="3.32" fill="url(#lb)"/><circle cx="101.62" cy="72.85" r="3.32" fill="url(#lb2)"/><circle cx="137.28" cy="73.37" r="3.33" fill="url(#lb)"/><circle cx="158.39" cy="73.49" r="3.33" fill="url(#lb)"/><circle cx="116.54" cy="73.55" r="3.33" fill="url(#lb)"/><circle cx="67.34" cy="73.72" r="3.33" fill="url(#lb2)"/><circle cx="81.65" cy="73.81" r="3.33" fill="url(#lb2)"/><circle cx="96.23" cy="74.18" r="3.33" fill="url(#lb2)"/><circle cx="152.69" cy="74.31" r="3.33" fill="url(#lb)"/><circle cx="131.68" cy="74.36" r="3.34" fill="url(#lb)"/><circle cx="111.06" cy="74.74" r="3.34" fill="url(#lb)"/><circle cx="168.25" cy="75.2" r="3.34" fill="url(#lb)"/><circle cx="147.01" cy="75.21" r="3.34" fill="url(#lb)"/><circle cx="76.4" cy="75.41" r="3.34" fill="url(#lb2)"/><circle cx="126.11" cy="75.44" r="3.34" fill="url(#lb)"/><circle cx="62.2" cy="75.5" r="3.34" fill="url(#lb2)"/><circle cx="90.88" cy="75.61" r="3.34" fill="url(#lb2)"/><circle cx="105.61" cy="76.03" r="3.35" fill="url(#lb)"/><circle cx="162.51" cy="76.04" r="3.35" fill="url(#lb)"/><circle cx="141.37" cy="76.2" r="3.35" fill="url(#lb)"/><circle cx="120.58" cy="76.61" r="3.35" fill="url(#lb)"/><circle cx="156.79" cy="76.96" r="3.36" fill="url(#lb)"/><circle cx="71.19" cy="77.12" r="3.36" fill="url(#lb2)"/><circle cx="85.56" cy="77.15" r="3.36" fill="url(#lb2)"/><circle cx="135.75" cy="77.28" r="3.36" fill="url(#lb)"/><circle cx="57.1" cy="77.4" r="3.36" fill="url(#lb2)"/><circle cx="100.19" cy="77.42" r="3.36" fill="url(#lb)"/><circle cx="172.38" cy="77.65" r="3.36" fill="url(#lb)"/><circle cx="115.07" cy="77.87" r="3.36" fill="url(#lb)"/><circle cx="151.11" cy="77.96" r="3.36" fill="url(#lb)"/><circle cx="130.16" cy="78.43" r="3.37" fill="url(#lb)"/><circle cx="166.63" cy="78.6" r="3.37" fill="url(#lb)"/><circle cx="87.02" cy="72.67" r="8" fill="url(#pk)"/><circle cx="80.28" cy="78.78" r="3.37" fill="url(#lb2)"/><circle cx="94.81" cy="78.9" r="3.37" fill="url(#lb)"/><circle cx="66.01" cy="78.92" r="3.37" fill="url(#lb2)"/><circle cx="145.45" cy="79.04" r="3.37" fill="url(#lb)"/><circle cx="109.6" cy="79.22" r="3.37" fill="url(#lb)"/><circle cx="52.04" cy="79.4" r="3.37" fill="url(#lb2)"/><circle cx="160.9" cy="79.61" r="3.38" fill="url(#lb)"/><circle cx="124.61" cy="79.67" r="3.38" fill="url(#lb)"/><circle cx="120.9" cy="74.47" r="7.4" fill="url(#pk)"/><circle cx="176.5" cy="80.1" r="3.38" fill="url(#lb)"/><circle cx="139.82" cy="80.19" r="3.38" fill="url(#lb)"/><circle cx="89.47" cy="80.48" r="3.38" fill="url(#lb)"/><circle cx="75.03" cy="80.51" r="3.38" fill="url(#lb2)"/><circle cx="104.16" cy="80.66" r="3.38" fill="url(#lb)"/><circle cx="155.21" cy="80.7" r="3.38" fill="url(#lb)"/><circle cx="60.87" cy="80.84" r="3.39" fill="url(#lb2)"/><circle cx="119.09" cy="81" r="3.39" fill="url(#lb)"/><circle cx="170.74" cy="81.15" r="3.39" fill="url(#lb)"/><circle cx="134.22" cy="81.42" r="3.39" fill="url(#lb)"/><g transform="translate(71.28,78.49) rotate(-66.91)" fill="none" stroke-linecap="round"><path d="M0.78,-1.8 L2.18,1.8 M3.73,-1.8 L5.13,1.8 M6.69,-1.8 L8.09,1.8 M9.64,-1.8 L11.04,1.8 M12.6,-1.8 L14,1.8 M15.55,-1.8 L16.95,1.8 M18.51,-1.8 L19.91,1.8 " stroke="#f0801e" stroke-width="2.7"/><path d="M0.88,-1.3 L2.08,1.3 M3.83,-1.3 L5.03,1.3 M6.79,-1.3 L7.99,1.3 M9.74,-1.3 L10.94,1.3 M12.7,-1.3 L13.9,1.3 M15.65,-1.3 L16.85,1.3 M18.61,-1.3 L19.81,1.3 " stroke="#c62f92" stroke-width="1.5"/></g><circle cx="47.02" cy="81.52" r="3.39" fill="url(#lb2)"/><circle cx="149.53" cy="81.87" r="3.39" fill="url(#lb)"/><circle cx="84.15" cy="82.15" r="3.4" fill="url(#lb)"/><circle cx="98.75" cy="82.19" r="3.4" fill="url(#lb)"/><circle cx="165.01" cy="82.27" r="3.4" fill="url(#lb)"/><circle cx="69.82" cy="82.35" r="3.4" fill="url(#lb2)"/><circle cx="113.59" cy="82.41" r="3.4" fill="url(#lb)"/><circle cx="180.62" cy="82.55" r="3.4" fill="url(#lb)"/><circle cx="128.64" cy="82.73" r="3.4" fill="url(#lb)"/><circle cx="55.77" cy="82.86" r="3.4" fill="url(#lb2)"/><circle cx="143.89" cy="83.11" r="3.4" fill="url(#lb)"/><circle cx="145.9" cy="77.11" r="8" fill="url(#pk)"/><circle cx="159.3" cy="83.45" r="3.41" fill="url(#lb)"/><circle cx="174.86" cy="83.7" r="3.41" fill="url(#lb)"/><circle cx="42.04" cy="83.76" r="3.41" fill="url(#lb2)"/><circle cx="93.38" cy="83.81" r="3.41" fill="url(#lb)"/><circle cx="108.12" cy="83.9" r="3.41" fill="url(#lb)"/><circle cx="78.88" cy="83.91" r="3.41" fill="url(#lb)"/><circle cx="123.1" cy="84.12" r="3.41" fill="url(#lb)"/><circle cx="64.65" cy="84.29" r="3.41" fill="url(#lb2)"/><circle cx="138.27" cy="84.41" r="3.41" fill="url(#lb)"/><circle cx="153.62" cy="84.7" r="3.42" fill="url(#lb)"/><circle cx="169.12" cy="84.92" r="3.42" fill="url(#lb)"/><circle cx="50.71" cy="84.99" r="3.42" fill="url(#lb2)"/><circle cx="184.75" cy="85" r="3.42" fill="url(#lb)"/><circle cx="102.69" cy="85.48" r="3.42" fill="url(#lb)"/><circle cx="88.03" cy="85.52" r="3.42" fill="url(#lb)"/><circle cx="117.58" cy="85.59" r="3.42" fill="url(#lb)"/><circle cx="73.63" cy="85.78" r="3.42" fill="url(#lb)"/><circle cx="132.68" cy="85.8" r="3.42" fill="url(#lb)"/><circle cx="147.96" cy="86.02" r="3.43" fill="url(#lb)"/><circle cx="37.1" cy="86.1" r="3.43" fill="url(#lb2)"/><circle cx="163.4" cy="86.2" r="3.43" fill="url(#lb)"/><circle cx="178.98" cy="86.26" r="3.43" fill="url(#lb)"/><circle cx="59.51" cy="86.32" r="3.43" fill="url(#lb2)"/><circle cx="97.29" cy="87.14" r="3.43" fill="url(#lb)"/><circle cx="112.09" cy="87.14" r="3.43" fill="url(#lb)"/><circle cx="45.69" cy="87.23" r="3.44" fill="url(#lb2)"/><circle cx="127.11" cy="87.25" r="3.44" fill="url(#lb)"/><circle cx="82.72" cy="87.31" r="3.44" fill="url(#lb)"/><circle cx="142.32" cy="87.41" r="3.44" fill="url(#lb)"/><circle cx="188.88" cy="87.45" r="3.44" fill="url(#lb)"/><circle cx="157.7" cy="87.53" r="3.44" fill="url(#lb)"/><circle cx="173.23" cy="87.57" r="3.44" fill="url(#lb)"/><circle cx="68.42" cy="87.73" r="3.44" fill="url(#lb)"/><circle cx="54.41" cy="88.46" r="3.44" fill="url(#lb2)"/><circle cx="32.2" cy="88.56" r="3.45" fill="url(#lb2)"/><circle cx="38.55" cy="84.62" r="5.5" fill="url(#pk)"/><circle cx="106.63" cy="88.77" r="3.45" fill="url(#lb)"/><circle cx="121.57" cy="88.78" r="3.45" fill="url(#lb)"/><circle cx="183.1" cy="88.81" r="3.45" fill="url(#lb)"/><circle cx="136.71" cy="88.86" r="3.45" fill="url(#lb)"/><circle cx="91.91" cy="88.88" r="3.45" fill="url(#lb)"/><circle cx="152.03" cy="88.94" r="3.45" fill="url(#lb)"/><circle cx="167.5" cy="88.94" r="3.45" fill="url(#lb)"/><circle cx="77.44" cy="89.2" r="3.45" fill="url(#lb)"/><circle cx="40.71" cy="89.57" r="3.45" fill="url(#lb2)"/><circle cx="63.24" cy="89.78" r="3.45" fill="url(#lb)"/><circle cx="193" cy="89.9" r="3.46" fill="url(#lb)"/><circle cx="177.34" cy="90.22" r="3.46" fill="url(#lb)"/><circle cx="161.79" cy="90.37" r="3.46" fill="url(#lb)"/><circle cx="131.12" cy="90.38" r="3.46" fill="url(#lb)"/><circle cx="116.05" cy="90.38" r="3.46" fill="url(#lb)"/><circle cx="146.38" cy="90.4" r="3.46" fill="url(#lb)"/><circle cx="101.19" cy="90.47" r="3.46" fill="url(#lb)"/><circle cx="49.34" cy="90.7" r="3.46" fill="url(#lb2)"/><circle cx="86.56" cy="90.71" r="3.46" fill="url(#lb)"/><circle cx="27.34" cy="91.12" r="3.47" fill="url(#lb2)"/><circle cx="72.19" cy="91.18" r="3.47" fill="url(#lb)"/><circle cx="187.22" cy="91.37" r="3.47" fill="url(#lb)"/><circle cx="171.6" cy="91.69" r="3.47" fill="url(#lb)"/><circle cx="156.1" cy="91.85" r="3.47" fill="url(#lb)"/><circle cx="140.75" cy="91.92" r="3.47" fill="url(#lb)"/><circle cx="58.1" cy="91.93" r="3.47" fill="url(#lb)"/><circle cx="125.56" cy="91.97" r="3.47" fill="url(#lb)"/><circle cx="35.76" cy="92.02" r="3.47" fill="url(#lb2)"/><circle cx="110.57" cy="92.05" r="3.47" fill="url(#lb)"/><circle cx="95.79" cy="92.25" r="3.47" fill="url(#lb)"/><circle cx="197.12" cy="92.35" r="3.47" fill="url(#lb3)"/><circle cx="81.25" cy="92.62" r="3.48" fill="url(#lb)"/><circle cx="181.45" cy="92.88" r="3.48" fill="url(#lb)"/><circle cx="44.31" cy="93.04" r="3.48" fill="url(#lb2)"/><circle cx="165.88" cy="93.2" r="3.48" fill="url(#lb3)"/><circle cx="66.98" cy="93.24" r="3.48" fill="url(#lb)"/><circle cx="150.43" cy="93.39" r="3.48" fill="url(#lb)"/><circle cx="135.14" cy="93.51" r="3.48" fill="url(#lb)"/><circle cx="120.02" cy="93.62" r="3.48" fill="url(#lb)"/><circle cx="179.77" cy="86.73" r="9.2" fill="url(#pk)"/><circle cx="105.1" cy="93.8" r="3.49" fill="url(#lb)"/><circle cx="22.52" cy="93.8" r="3.49" fill="url(#lb2)"/><circle cx="191.33" cy="93.92" r="3.49" fill="url(#lb3)"/><circle cx="90.41" cy="94.11" r="3.49" fill="url(#lb)"/><circle cx="52.99" cy="94.17" r="3.49" fill="url(#lb)"/><circle cx="175.7" cy="94.43" r="3.49" fill="url(#lb3)"/><circle cx="30.85" cy="94.57" r="3.49" fill="url(#lb2)"/><circle cx="75.97" cy="94.62" r="3.49" fill="url(#lb)"/><circle cx="160.17" cy="94.77" r="3.49" fill="url(#lb3)"/><circle cx="201.25" cy="94.8" r="3.49" fill="url(#lb3)"/><circle cx="144.78" cy="94.98" r="3.5" fill="url(#lb)"/><circle cx="129.55" cy="95.15" r="3.5" fill="url(#lb)"/><circle cx="114.5" cy="95.34" r="3.5" fill="url(#lb)"/><circle cx="61.79" cy="95.4" r="3.5" fill="url(#lb)"/><circle cx="39.32" cy="95.48" r="3.5" fill="url(#lb2)"/><circle cx="185.56" cy="95.53" r="3.5" fill="url(#lb3)"/><circle cx="99.67" cy="95.62" r="3.5" fill="url(#lb)"/><circle cx="169.96" cy="96.03" r="3.5" fill="url(#lb3)"/><circle cx="85.06" cy="96.05" r="3.5" fill="url(#lb)"/><circle cx="154.48" cy="96.38" r="3.51" fill="url(#lb3)"/><circle cx="195.45" cy="96.47" r="3.51" fill="url(#lb3)"/><circle cx="47.92" cy="96.51" r="3.51" fill="url(#lb)"/><circle cx="17.74" cy="96.6" r="3.51" fill="url(#lb0)"/><circle cx="139.15" cy="96.63" r="3.51" fill="url(#lb3)"/><circle cx="70.71" cy="96.7" r="3.51" fill="url(#lb)"/><circle cx="123.98" cy="96.86" r="3.51" fill="url(#lb)"/><circle cx="109.01" cy="97.13" r="3.51" fill="url(#lb)"/><circle cx="179.79" cy="97.18" r="3.51" fill="url(#lb3)"/><circle cx="25.98" cy="97.23" r="3.51" fill="url(#lb2)"/><circle cx="205.38" cy="97.25" r="3.51" fill="url(#lb3)"/><circle cx="132.35" cy="94.34" r="4" fill="url(#pk)"/><circle cx="94.25" cy="97.51" r="3.52" fill="url(#lb)"/><circle cx="56.64" cy="97.64" r="3.52" fill="url(#lb)"/><circle cx="164.24" cy="97.68" r="3.52" fill="url(#lb3)"/><circle cx="34.36" cy="98.02" r="3.52" fill="url(#lb2)"/><circle cx="148.81" cy="98.04" r="3.52" fill="url(#lb3)"/><circle cx="79.74" cy="98.07" r="3.52" fill="url(#lb)"/><circle cx="189.67" cy="98.18" r="3.52" fill="url(#lb3)"/><circle cx="133.54" cy="98.34" r="3.52" fill="url(#lb3)"/><circle cx="118.44" cy="98.63" r="3.52" fill="url(#lb)"/><circle cx="174.04" cy="98.87" r="3.53" fill="url(#lb3)"/><circle cx="65.48" cy="98.87" r="3.53" fill="url(#lb)"/><circle cx="42.87" cy="98.94" r="3.53" fill="url(#lb)"/><circle cx="103.54" cy="98.99" r="3.53" fill="url(#lb)"/><circle cx="199.57" cy="99.03" r="3.53" fill="url(#lb3)"/><circle cx="158.54" cy="99.37" r="3.53" fill="url(#lb3)"/><circle cx="88.87" cy="99.47" r="3.53" fill="url(#lb)"/><circle cx="13" cy="99.5" r="3.53" fill="url(#lb0)"/><circle cx="209.5" cy="99.7" r="3.53" fill="url(#lb3)"/><circle cx="143.16" cy="99.76" r="3.53" fill="url(#lb3)"/><circle cx="183.89" cy="99.93" r="3.53" fill="url(#lb3)"/><circle cx="51.52" cy="99.98" r="3.53" fill="url(#lb)"/><circle cx="21.15" cy="100" r="3.53" fill="url(#lb0)"/><circle cx="127.95" cy="100.1" r="3.54" fill="url(#lb3)"/><circle cx="74.44" cy="100.16" r="3.54" fill="url(#lb)"/><circle cx="112.92" cy="100.46" r="3.54" fill="url(#lb)"/><circle cx="168.31" cy="100.59" r="3.54" fill="url(#lb3)"/><circle cx="29.44" cy="100.66" r="3.54" fill="url(#lb2)"/><circle cx="193.78" cy="100.84" r="3.54" fill="url(#lb3)"/><circle cx="98.1" cy="100.91" r="3.54" fill="url(#lb)"/><circle cx="103.05" cy="95.61" r="7.2" fill="url(#pk)"/><circle cx="152.85" cy="101.11" r="3.54" fill="url(#lb3)"/><circle cx="60.29" cy="101.12" r="3.54" fill="url(#lb)"/><circle cx="37.87" cy="101.47" r="3.55" fill="url(#lb2)"/><circle cx="83.51" cy="101.51" r="3.55" fill="url(#lb)"/><circle cx="137.53" cy="101.52" r="3.55" fill="url(#lb3)"/><circle cx="203.69" cy="101.58" r="3.55" fill="url(#lb3)"/><circle cx="178.13" cy="101.7" r="3.55" fill="url(#lb3)"/><circle cx="122.38" cy="101.92" r="3.55" fill="url(#lb3)"/><circle cx="213.62" cy="102.15" r="3.55" fill="url(#lb3)"/><circle cx="69.18" cy="102.34" r="3.55" fill="url(#lb)"/><circle cx="107.42" cy="102.35" r="3.55" fill="url(#lb)"/><circle cx="162.59" cy="102.36" r="3.55" fill="url(#lb3)"/><circle cx="46.43" cy="102.4" r="3.55" fill="url(#lb)"/><circle cx="187.99" cy="102.67" r="3.56" fill="url(#lb3)"/><circle cx="16.35" cy="102.88" r="3.56" fill="url(#lb0)"/><circle cx="147.18" cy="102.89" r="3.56" fill="url(#lb3)"/><circle cx="92.68" cy="102.9" r="3.56" fill="url(#lb)"/><circle cx="63.17" cy="93.82" r="12.6" fill="url(#pk)"/><circle cx="131.91" cy="103.34" r="3.56" fill="url(#lb3)"/><circle cx="24.55" cy="103.41" r="3.56" fill="url(#lb0)"/><circle cx="55.13" cy="103.45" r="3.56" fill="url(#lb)"/><circle cx="197.88" cy="103.49" r="3.56" fill="url(#lb3)"/><circle cx="172.38" cy="103.51" r="3.56" fill="url(#lb3)"/><circle cx="78.18" cy="103.62" r="3.56" fill="url(#lb)"/><g transform="translate(114.22,100.69) rotate(-47.93)" fill="none" stroke-linecap="round"><path d="M0.77,-1.8 L2.17,1.8 M3.72,-1.8 L5.12,1.8 M6.67,-1.8 L8.07,1.8 M9.62,-1.8 L11.02,1.8 M12.57,-1.8 L13.97,1.8 M15.52,-1.8 L16.92,1.8 M18.47,-1.8 L19.87,1.8 " stroke="#f0801e" stroke-width="2.7"/><path d="M0.87,-1.3 L2.07,1.3 M3.82,-1.3 L5.02,1.3 M6.77,-1.3 L7.97,1.3 M9.72,-1.3 L10.92,1.3 M12.67,-1.3 L13.87,1.3 M15.62,-1.3 L16.82,1.3 M18.57,-1.3 L19.77,1.3 " stroke="#c62f92" stroke-width="1.5"/></g><circle cx="116.83" cy="103.79" r="3.56" fill="url(#lb3)"/><circle cx="32.89" cy="104.09" r="3.57" fill="url(#lb2)"/><circle cx="207.81" cy="104.14" r="3.57" fill="url(#lb3)"/><circle cx="156.88" cy="104.17" r="3.57" fill="url(#lb3)"/><circle cx="101.95" cy="104.31" r="3.57" fill="url(#lb)"/><circle cx="182.21" cy="104.53" r="3.57" fill="url(#lb3)"/><circle cx="63.94" cy="104.59" r="3.57" fill="url(#lb)"/><circle cx="217.75" cy="104.6" r="3.57" fill="url(#lb3)"/><circle cx="141.52" cy="104.71" r="3.57" fill="url(#lb3)"/><circle cx="41.38" cy="104.92" r="3.57" fill="url(#lb2)"/><circle cx="87.28" cy="104.96" r="3.57" fill="url(#lb)"/><circle cx="126.32" cy="105.21" r="3.57" fill="url(#lb3)"/><circle cx="166.64" cy="105.35" r="3.58" fill="url(#lb3)"/><circle cx="192.09" cy="105.42" r="3.58" fill="url(#lb3)"/><circle cx="162.6" cy="83.77" r="2.15" fill="#a3284c"/><circle cx="157.16" cy="84.3" r="2.15" fill="#63407e"/><circle cx="153.05" cy="87.16" r="2.15" fill="#a3284c"/><circle cx="148.76" cy="90.86" r="2.15" fill="#63407e"/><circle cx="145.42" cy="94.87" r="2.15" fill="#a3284c"/><circle cx="141.89" cy="99.63" r="2.15" fill="#63407e"/><circle cx="111.3" cy="105.72" r="3.58" fill="url(#lb3)"/><circle cx="72.87" cy="105.81" r="3.58" fill="url(#lb)"/><circle cx="49.99" cy="105.87" r="3.58" fill="url(#lb)"/><circle cx="151.19" cy="106.01" r="3.58" fill="url(#lb3)"/><circle cx="201.99" cy="106.14" r="3.58" fill="url(#lb3)"/><circle cx="19.7" cy="106.25" r="3.58" fill="url(#lb0)"/><circle cx="96.49" cy="106.33" r="3.58" fill="url(#lb)"/><circle cx="176.45" cy="106.42" r="3.58" fill="url(#lb3)"/><circle cx="135.88" cy="106.58" r="3.59" fill="url(#lb3)"/><circle cx="211.92" cy="106.69" r="3.59" fill="url(#lb3)"/><circle cx="27.95" cy="106.81" r="3.59" fill="url(#lb2)"/><circle cx="58.73" cy="106.92" r="3.59" fill="url(#lb)"/><circle cx="221.88" cy="107.05" r="3.59" fill="url(#lb3)"/><circle cx="81.91" cy="107.08" r="3.59" fill="url(#lb)"/><circle cx="120.74" cy="107.12" r="3.59" fill="url(#lb3)"/><circle cx="160.92" cy="107.23" r="3.59" fill="url(#lb3)"/><circle cx="186.3" cy="107.37" r="3.59" fill="url(#lb3)"/><circle cx="36.35" cy="107.52" r="3.59" fill="url(#lb2)"/><circle cx="105.79" cy="107.71" r="3.59" fill="url(#lb3)"/><circle cx="145.51" cy="107.9" r="3.6" fill="url(#lb3)"/><circle cx="67.59" cy="108.06" r="3.6" fill="url(#lb)"/><circle cx="196.19" cy="108.16" r="3.6" fill="url(#lb3)"/><circle cx="170.69" cy="108.34" r="3.6" fill="url(#lb3)"/><circle cx="44.89" cy="108.37" r="3.6" fill="url(#lb2)"/><circle cx="91.06" cy="108.4" r="3.6" fill="url(#lb)"/><circle cx="130.26" cy="108.49" r="3.6" fill="url(#lb3)"/><circle cx="206.1" cy="108.79" r="3.6" fill="url(#lb3)"/><circle cx="115.18" cy="109.09" r="3.61" fill="url(#lb3)"/><circle cx="155.2" cy="109.14" r="3.61" fill="url(#lb3)"/><circle cx="216.04" cy="109.25" r="3.61" fill="url(#lb3)"/><circle cx="76.56" cy="109.27" r="3.61" fill="url(#lb)"/><circle cx="53.55" cy="109.33" r="3.61" fill="url(#lb)"/><circle cx="180.52" cy="109.34" r="3.61" fill="url(#lb3)"/><circle cx="226" cy="109.5" r="3.61" fill="url(#lb3)"/><circle cx="23.05" cy="109.62" r="3.61" fill="url(#lb2)"/><circle cx="100.3" cy="109.75" r="3.61" fill="url(#lb3)"/><circle cx="139.84" cy="109.82" r="3.61" fill="url(#lb3)"/><circle cx="190.38" cy="110.2" r="3.61" fill="url(#lb3)"/><circle cx="31.36" cy="110.22" r="3.61" fill="url(#lb3)"/><circle cx="164.95" cy="110.29" r="3.61" fill="url(#lb3)"/><circle cx="62.34" cy="110.39" r="3.62" fill="url(#lb)"/><circle cx="124.65" cy="110.45" r="3.62" fill="url(#lb3)"/><circle cx="85.65" cy="110.54" r="3.62" fill="url(#lb)"/><circle cx="200.28" cy="110.91" r="3.62" fill="url(#lb3)"/><circle cx="39.81" cy="110.95" r="3.62" fill="url(#lb2)"/><circle cx="149.5" cy="111.08" r="3.62" fill="url(#lb3)"/><circle cx="109.64" cy="111.11" r="3.62" fill="url(#lb3)"/><circle cx="174.75" cy="111.34" r="3.62" fill="url(#lb3)"/><circle cx="210.21" cy="111.45" r="3.62" fill="url(#lb3)"/><circle cx="71.24" cy="111.53" r="3.62" fill="url(#lb)"/><circle cx="134.19" cy="111.78" r="3.63" fill="url(#lb3)"/><circle cx="220.16" cy="111.8" r="3.63" fill="url(#lb3)"/><circle cx="48.39" cy="111.82" r="3.63" fill="url(#lb)"/><circle cx="94.83" cy="111.85" r="3.63" fill="url(#lb3)"/><circle cx="184.59" cy="112.25" r="3.63" fill="url(#lb3)"/><circle cx="159.22" cy="112.27" r="3.63" fill="url(#lb3)"/><circle cx="119.06" cy="112.46" r="3.63" fill="url(#lb3)"/><circle cx="80.26" cy="112.74" r="3.63" fill="url(#lb)"/><circle cx="57.11" cy="112.79" r="3.63" fill="url(#lb)"/><circle cx="26.4" cy="113" r="3.64" fill="url(#lb3)"/><circle cx="194.47" cy="113.03" r="3.64" fill="url(#lb3)"/><circle cx="143.81" cy="113.06" r="3.64" fill="url(#lb3)"/><circle cx="104.11" cy="113.18" r="3.64" fill="url(#lb3)"/><circle cx="168.98" cy="113.35" r="3.64" fill="url(#lb3)"/><circle cx="94.18" cy="87.68" r="2.15" fill="#a3284c"/><circle cx="91.03" cy="92.86" r="2.15" fill="#63407e"/><circle cx="87.5" cy="95.51" r="2.15" fill="#a3284c"/><circle cx="82.25" cy="98.26" r="2.15" fill="#63407e"/><circle cx="79.2" cy="102.8" r="2.15" fill="#a3284c"/><circle cx="76.05" cy="107.56" r="2.15" fill="#63407e"/><circle cx="34.77" cy="113.62" r="3.64" fill="url(#lb3)"/><circle cx="204.38" cy="113.65" r="3.64" fill="url(#lb3)"/><circle cx="128.56" cy="113.78" r="3.64" fill="url(#lb3)"/><circle cx="65.94" cy="113.86" r="3.64" fill="url(#lb)"/><circle cx="89.38" cy="114" r="3.64" fill="url(#lb3)"/><circle cx="214.32" cy="114.1" r="3.64" fill="url(#lb3)"/><circle cx="153.49" cy="114.27" r="3.65" fill="url(#lb3)"/><circle cx="178.8" cy="114.33" r="3.65" fill="url(#lb3)"/><circle cx="43.27" cy="114.38" r="3.65" fill="url(#lb)"/><circle cx="113.48" cy="114.51" r="3.65" fill="url(#lb3)"/><circle cx="74.89" cy="115.01" r="3.65" fill="url(#lb)"/><circle cx="138.13" cy="115.07" r="3.65" fill="url(#lb3)"/><circle cx="188.66" cy="115.17" r="3.65" fill="url(#lb3)"/><circle cx="51.9" cy="115.27" r="3.65" fill="url(#lb)"/><circle cx="98.6" cy="115.29" r="3.65" fill="url(#lb3)"/><circle cx="163.23" cy="115.39" r="3.65" fill="url(#lb3)"/><circle cx="122.93" cy="115.83" r="3.66" fill="url(#lb3)"/><circle cx="198.55" cy="115.87" r="3.66" fill="url(#lb3)"/><circle cx="83.95" cy="116.21" r="3.66" fill="url(#lb)"/><circle cx="60.66" cy="116.25" r="3.66" fill="url(#lb)"/><circle cx="147.77" cy="116.3" r="3.66" fill="url(#lb3)"/><circle cx="29.75" cy="116.38" r="3.66" fill="url(#lb3)"/><circle cx="208.48" cy="116.4" r="3.66" fill="url(#lb3)"/><circle cx="173.02" cy="116.41" r="3.66" fill="url(#lb3)"/><circle cx="107.92" cy="116.6" r="3.66" fill="url(#lb3)"/><circle cx="38.17" cy="117.03" r="3.67" fill="url(#lb3)"/><circle cx="132.47" cy="117.12" r="3.67" fill="url(#lb3)"/><circle cx="182.85" cy="117.32" r="3.67" fill="url(#lb3)"/><circle cx="69.55" cy="117.33" r="3.67" fill="url(#lb)"/><circle cx="157.48" cy="117.46" r="3.67" fill="url(#lb3)"/><circle cx="93.11" cy="117.46" r="3.67" fill="url(#lb3)"/><circle cx="46.73" cy="117.81" r="3.67" fill="url(#lb)"/><circle cx="117.33" cy="117.91" r="3.67" fill="url(#lb3)"/><circle cx="192.73" cy="118.09" r="3.68" fill="url(#lb3)"/><circle cx="142.07" cy="118.36" r="3.68" fill="url(#lb3)"/><circle cx="78.54" cy="118.48" r="3.68" fill="url(#lb)"/><circle cx="167.24" cy="118.52" r="3.68" fill="url(#lb3)"/><circle cx="202.64" cy="118.7" r="3.68" fill="url(#lb3)"/><circle cx="55.41" cy="118.71" r="3.68" fill="url(#lb)"/><circle cx="102.38" cy="118.74" r="3.68" fill="url(#lb3)"/><circle cx="126.81" cy="119.19" r="3.68" fill="url(#lb3)"/><circle cx="177.05" cy="119.48" r="3.69" fill="url(#lb3)"/><circle cx="151.74" cy="119.54" r="3.69" fill="url(#lb3)"/><circle cx="87.64" cy="119.68" r="3.69" fill="url(#lb3)"/><circle cx="64.22" cy="119.72" r="3.69" fill="url(#lb)"/><circle cx="33.1" cy="119.75" r="3.69" fill="url(#lb3)"/><circle cx="111.73" cy="120.03" r="3.69" fill="url(#lb3)"/><circle cx="186.91" cy="120.31" r="3.69" fill="url(#lb3)"/><circle cx="41.58" cy="120.43" r="3.69" fill="url(#lb3)"/><circle cx="136.38" cy="120.45" r="3.69" fill="url(#lb3)"/><circle cx="161.47" cy="120.64" r="3.69" fill="url(#lb3)"/><circle cx="73.15" cy="120.8" r="3.7" fill="url(#lb)"/><circle cx="96.85" cy="120.92" r="3.7" fill="url(#lb3)"/><circle cx="196.8" cy="121" r="3.7" fill="url(#lb3)"/><circle cx="50.18" cy="121.24" r="3.7" fill="url(#lb)"/><circle cx="121.17" cy="121.3" r="3.7" fill="url(#lb3)"/><circle cx="171.25" cy="121.65" r="3.7" fill="url(#lb3)"/><circle cx="146.01" cy="121.65" r="3.7" fill="url(#lb3)"/><circle cx="82.19" cy="121.95" r="3.71" fill="url(#lb3)"/><circle cx="58.92" cy="122.16" r="3.71" fill="url(#lb)"/><circle cx="106.15" cy="122.18" r="3.71" fill="url(#lb3)"/><circle cx="181.09" cy="122.54" r="3.71" fill="url(#lb3)"/><circle cx="130.69" cy="122.56" r="3.71" fill="url(#lb3)"/><circle cx="155.7" cy="122.78" r="3.71" fill="url(#lb3)"/><circle cx="36.45" cy="123.12" r="3.71" fill="url(#lb3)"/><circle cx="91.34" cy="123.15" r="3.71" fill="url(#lb3)"/><circle cx="67.78" cy="123.18" r="3.71" fill="url(#lb)"/><circle cx="190.96" cy="123.3" r="3.72" fill="url(#lb3)"/><circle cx="115.54" cy="123.45" r="3.72" fill="url(#lb3)"/><circle cx="140.28" cy="123.78" r="3.72" fill="url(#lb3)"/><circle cx="165.46" cy="123.83" r="3.72" fill="url(#lb3)"/><circle cx="44.98" cy="123.84" r="3.72" fill="url(#lb3)"/><circle cx="76.76" cy="124.27" r="3.72" fill="url(#lb3)"/><circle cx="100.58" cy="124.38" r="3.72" fill="url(#lb3)"/><circle cx="53.64" cy="124.67" r="3.73" fill="url(#lb)"/><circle cx="125.02" cy="124.7" r="3.73" fill="url(#lb3)"/><circle cx="175.27" cy="124.77" r="3.73" fill="url(#lb3)"/><circle cx="149.95" cy="124.94" r="3.73" fill="url(#lb3)"/><circle cx="85.84" cy="125.42" r="3.73" fill="url(#lb3)"/><circle cx="185.12" cy="125.6" r="3.73" fill="url(#lb3)"/><circle cx="62.43" cy="125.61" r="3.73" fill="url(#lb)"/><circle cx="109.92" cy="125.63" r="3.73" fill="url(#lb3)"/><circle cx="134.57" cy="125.93" r="3.74" fill="url(#lb3)"/><circle cx="159.67" cy="126.02" r="3.74" fill="url(#lb3)"/><circle cx="39.8" cy="126.5" r="3.74" fill="url(#lb3)"/><circle cx="95.03" cy="126.62" r="3.74" fill="url(#lb3)"/><circle cx="71.34" cy="126.64" r="3.74" fill="url(#lb3)"/><circle cx="119.35" cy="126.88" r="3.74" fill="url(#lb3)"/><circle cx="169.45" cy="127.01" r="3.74" fill="url(#lb3)"/><circle cx="144.19" cy="127.11" r="3.75" fill="url(#lb3)"/><circle cx="48.39" cy="127.24" r="3.75" fill="url(#lb3)"/><circle cx="80.36" cy="127.74" r="3.75" fill="url(#lb3)"/><circle cx="104.32" cy="127.84" r="3.75" fill="url(#lb3)"/><circle cx="179.28" cy="127.9" r="3.75" fill="url(#lb3)"/><circle cx="57.1" cy="128.1" r="3.75" fill="url(#lb)"/><circle cx="128.86" cy="128.1" r="3.75" fill="url(#lb3)"/><circle cx="153.88" cy="128.22" r="3.75" fill="url(#lb3)"/><circle cx="89.49" cy="128.89" r="3.76" fill="url(#lb3)"/><circle cx="65.94" cy="129.06" r="3.76" fill="url(#lb3)"/><circle cx="113.7" cy="129.07" r="3.76" fill="url(#lb3)"/><circle cx="163.63" cy="129.26" r="3.76" fill="url(#lb3)"/><circle cx="138.45" cy="129.3" r="3.76" fill="url(#lb3)"/><circle cx="43.15" cy="129.88" r="3.77" fill="url(#lb3)"/><circle cx="98.72" cy="130.09" r="3.77" fill="url(#lb3)"/><circle cx="74.9" cy="130.1" r="3.77" fill="url(#lb3)"/><circle cx="173.44" cy="130.2" r="3.77" fill="url(#lb3)"/><circle cx="123.16" cy="130.3" r="3.77" fill="url(#lb3)"/><circle cx="148.1" cy="130.44" r="3.77" fill="url(#lb3)"/><circle cx="51.79" cy="130.65" r="3.77" fill="url(#lb3)"/><circle cx="83.97" cy="131.21" r="3.78" fill="url(#lb3)"/><circle cx="108.05" cy="131.3" r="3.78" fill="url(#lb3)"/><circle cx="132.71" cy="131.5" r="3.78" fill="url(#lb3)"/><circle cx="157.82" cy="131.51" r="3.78" fill="url(#lb3)"/><circle cx="60.56" cy="131.53" r="3.78" fill="url(#lb)"/><circle cx="93.14" cy="132.37" r="3.79" fill="url(#lb3)"/><circle cx="167.6" cy="132.5" r="3.79" fill="url(#lb3)"/><circle cx="69.45" cy="132.51" r="3.79" fill="url(#lb3)"/><circle cx="117.47" cy="132.52" r="3.79" fill="url(#lb3)"/><circle cx="142.32" cy="132.66" r="3.79" fill="url(#lb3)"/><circle cx="46.5" cy="133.25" r="3.79" fill="url(#lb3)"/><circle cx="102.41" cy="133.56" r="3.8" fill="url(#lb3)"/><circle cx="78.45" cy="133.56" r="3.8" fill="url(#lb3)"/><circle cx="126.97" cy="133.72" r="3.8" fill="url(#lb3)"/><circle cx="152.01" cy="133.77" r="3.8" fill="url(#lb3)"/><circle cx="55.2" cy="134.05" r="3.8" fill="url(#lb3)"/><circle cx="87.57" cy="134.68" r="3.8" fill="url(#lb3)"/><circle cx="111.78" cy="134.76" r="3.8" fill="url(#lb3)"/><circle cx="161.76" cy="134.8" r="3.81" fill="url(#lb3)"/><circle cx="136.55" cy="134.9" r="3.81" fill="url(#lb3)"/><circle cx="64.02" cy="134.96" r="3.81" fill="url(#lb3)"/><circle cx="96.79" cy="135.84" r="3.81" fill="url(#lb3)"/><circle cx="72.96" cy="135.96" r="3.81" fill="url(#lb3)"/><circle cx="121.24" cy="135.96" r="3.81" fill="url(#lb3)"/><circle cx="146.2" cy="136.03" r="3.81" fill="url(#lb3)"/><circle cx="49.85" cy="136.62" r="3.82" fill="url(#lb3)"/><circle cx="106.11" cy="137.02" r="3.82" fill="url(#lb3)"/><circle cx="82.01" cy="137.03" r="3.82" fill="url(#lb3)"/><circle cx="155.92" cy="137.1" r="3.82" fill="url(#lb3)"/><circle cx="130.78" cy="137.15" r="3.82" fill="url(#lb3)"/><circle cx="58.6" cy="137.46" r="3.83" fill="url(#lb3)"/><circle cx="91.18" cy="138.15" r="3.83" fill="url(#lb3)"/><circle cx="115.52" cy="138.22" r="3.83" fill="url(#lb3)"/><circle cx="140.4" cy="138.3" r="3.83" fill="url(#lb3)"/><circle cx="67.47" cy="138.39" r="3.83" fill="url(#lb3)"/><circle cx="100.44" cy="139.31" r="3.84" fill="url(#lb3)"/><circle cx="150.08" cy="139.4" r="3.84" fill="url(#lb3)"/><circle cx="76.47" cy="139.41" r="3.84" fill="url(#lb3)"/><circle cx="125.01" cy="139.41" r="3.84" fill="url(#lb3)"/><circle cx="53.2" cy="140" r="3.85" fill="url(#lb3)"/><circle cx="85.57" cy="140.49" r="3.85" fill="url(#lb3)"/><circle cx="109.8" cy="140.49" r="3.85" fill="url(#lb3)"/><circle cx="134.59" cy="140.57" r="3.85" fill="url(#lb3)"/><circle cx="62.01" cy="140.86" r="3.85" fill="url(#lb3)"/><circle cx="94.78" cy="141.62" r="3.86" fill="url(#lb3)"/><circle cx="119.25" cy="141.68" r="3.86" fill="url(#lb3)"/><circle cx="144.24" cy="141.7" r="3.86" fill="url(#lb3)"/><circle cx="70.93" cy="141.82" r="3.86" fill="url(#lb3)"/><circle cx="104.09" cy="142.78" r="3.87" fill="url(#lb3)"/><circle cx="128.79" cy="142.85" r="3.87" fill="url(#lb3)"/><circle cx="79.97" cy="142.86" r="3.87" fill="url(#lb3)"/><circle cx="56.55" cy="143.38" r="3.87" fill="url(#lb3)"/><circle cx="89.13" cy="143.95" r="3.88" fill="url(#lb3)"/><circle cx="113.49" cy="143.96" r="3.88" fill="url(#lb3)"/><circle cx="138.4" cy="144" r="3.88" fill="url(#lb3)"/><circle cx="65.41" cy="144.27" r="3.88" fill="url(#lb3)"/><circle cx="98.39" cy="145.09" r="3.89" fill="url(#lb3)"/><circle cx="122.99" cy="145.14" r="3.89" fill="url(#lb3)"/><circle cx="74.39" cy="145.25" r="3.89" fill="url(#lb3)"/><circle cx="107.74" cy="146.26" r="3.89" fill="url(#lb3)"/><circle cx="132.56" cy="146.3" r="3.89" fill="url(#lb3)"/><circle cx="83.48" cy="146.3" r="3.89" fill="url(#lb3)"/><circle cx="59.9" cy="146.75" r="3.9" fill="url(#lb3)"/><circle cx="92.69" cy="147.41" r="3.9" fill="url(#lb3)"/><circle cx="117.19" cy="147.43" r="3.9" fill="url(#lb3)"/><circle cx="68.81" cy="147.67" r="3.91" fill="url(#lb3)"/><circle cx="101.99" cy="148.56" r="3.91" fill="url(#lb3)"/><circle cx="126.72" cy="148.6" r="3.91" fill="url(#lb3)"/><circle cx="77.85" cy="148.68" r="3.91" fill="url(#lb3)"/><circle cx="111.39" cy="149.73" r="3.92" fill="url(#lb3)"/><circle cx="86.99" cy="149.75" r="3.92" fill="url(#lb3)"/>
<circle cx="46.3" cy="131.1" r="3.8" fill="url(#lb3)"/>
<circle cx="53.1" cy="126.2" r="3.8" fill="url(#lb3)"/>
<circle cx="60" cy="121.2" r="3.8" fill="url(#lb3)"/>
<circle cx="67" cy="116.3" r="3.8" fill="url(#lb3)"/>
<circle cx="74.2" cy="112" r="3.8" fill="url(#lb3)"/>
<circle cx="49.7" cy="135.3" r="4" fill="url(#db)"/>
<circle cx="56.5" cy="130.4" r="4" fill="url(#db)"/>
<circle cx="63.4" cy="125.4" r="4" fill="url(#db)"/>
<circle cx="70.4" cy="120.5" r="4" fill="url(#db)"/>
<circle cx="77.6" cy="116.2" r="4" fill="url(#db)"/>
<circle cx="53.1" cy="139.5" r="4.2" fill="url(#db)"/>
<circle cx="59.9" cy="134.6" r="4.2" fill="url(#db)"/>
<circle cx="66.8" cy="129.6" r="4.2" fill="url(#db)"/>
<circle cx="73.8" cy="124.7" r="4.2" fill="url(#db)"/>
<circle cx="81" cy="120.4" r="4.2" fill="url(#db)"/>

<circle cx="64.12" cy="123.94" r="9.3" fill="url(#pk)"/>
<circle cx="53.1" cy="139.5" r="4.2" fill="url(#db)"/>
<circle cx="59.9" cy="134.6" r="4.2" fill="url(#db)"/>
<circle cx="66.8" cy="129.6" r="4.2" fill="url(#db)"/>
<circle cx="73.8" cy="124.7" r="4.2" fill="url(#db)"/>
<circle cx="81" cy="120.4" r="4.2" fill="url(#db)"/>
<polygon points="13,99 57,144 59,199 13,134.4" fill="url(#face2)"/>
<polygon points="12.6,100 20,107 20,144 13.2,134" fill="url(#brown)"/>
<clipPath id="tc11"><polygon points="13,99 57,144 59,199 13,134.4"/></clipPath><g clip-path="url(#tc11)" fill="none" stroke-linecap="round"><path d="M21,99 h0.01 M59,199 h0.01 M21.91,108.18 C22.07,121.29 21.63,134.4 21.85,144.63 M23.62,109.9 C23.84,123.23 23.21,136.56 23.53,146.99 M24.88,111.73 C23.85,125.3 26.78,138.87 25.31,149.5 M26.95,113.18 C27.43,126.94 26.04,140.7 26.74,151.5 M28.88,115.24 C29.17,129.27 28.34,143.3 28.75,154.33 M29.65,116.64 C28.54,130.86 31.71,145.07 30.12,156.25 M31.44,118.05 C31.29,132.45 31.72,146.85 31.5,158.19 M33.22,119.81 C33.22,134.43 33.22,149.06 33.22,160.6 M35.3,121.39 C36.55,136.22 32.98,151.06 34.77,162.77 M36.31,123.27 C35.63,138.35 37.58,153.43 36.61,165.36 M38.86,125.2 C39.74,140.53 37.24,155.86 38.49,168 M39.96,127.25 C38.7,142.85 42.3,158.45 40.5,170.82 M42.07,128.97 C41.81,144.8 42.55,160.62 42.18,173.18 M43.72,130.8 C43.14,146.86 44.8,162.93 43.97,175.69 M45.57,132.86 C44.61,149.19 47.36,165.53 45.98,178.53 M47.73,134.32 C48.48,150.85 46.34,167.37 47.41,180.53 M49.33,136.03 C49.91,152.77 48.24,169.52 49.08,182.87 M50.79,137.86 C50.59,154.85 51.16,171.83 50.87,185.39 M52.68,139.93 C52.19,157.19 53.6,174.44 52.89,188.23 M54.78,141.47 C55.67,158.92 53.12,176.38 54.4,190.34 M56.17,143.55 C55.56,161.27 57.3,179 56.43,193.2 M57.55,145 C56.48,163 59.55,180.99 58.01,195.42 M59.4,145 C59.08,163.75 60,182.49 59.54,197.56 " stroke="url(#tb)" stroke-width="0.8"/><path d="M21,99 h0.01 M59,199 h0.01 M21,108.18 C20.83,118.94 21.17,130.69 20.93,140.77 M24.46,111.73 C25.52,119.86 23.41,129 24.89,136.83 M27.9,115.24 C28.46,122.94 27.35,131.65 28.12,139.1 M30.65,118.05 C30.52,129.51 30.78,141.97 30.6,152.65 M33.92,121.39 C35.71,133.21 32.12,146.02 34.63,157.01 M35.76,123.27 C35.09,132.32 36.42,142.37 35.49,150.98 M37.64,125.2 C37.28,134.94 38,145.69 37.49,154.9 M41.33,128.97 C43.06,137.28 39.6,146.59 42.02,154.57 M45.13,132.86 C46.06,142.48 44.2,153.09 45.5,162.19 M48.23,136.03 C47.11,145.21 49.34,155.4 47.78,164.13 M52.04,139.93 C53.14,154.07 50.95,169.2 52.48,182.17 M53.55,141.47 C53.17,154.26 53.93,168.05 53.39,179.88 M55.58,143.55 C54.55,157.38 56.61,172.21 55.17,184.92 M58.69,145 C59.05,157.53 58.32,171.06 58.83,182.66 " stroke="url(#tg)" stroke-width="0.8"/></g>
<circle cx="15.36" cy="107.5" r="1.4" fill="url(#yb)"/><circle cx="16.4" cy="109.8" r="1.4" fill="url(#yb)"/><circle cx="15.36" cy="112.1" r="1.4" fill="url(#yb)"/><circle cx="16.4" cy="114.4" r="1.4" fill="url(#yb)"/>
<circle cx="13" cy="134.4" r="3" fill="url(#lb0)"/>
<circle cx="16.6" cy="139" r="3.08" fill="url(#lb0)"/>
<circle cx="20" cy="143.6" r="3.17" fill="url(#lb0)"/>
<circle cx="23.4" cy="148.4" r="3.25" fill="url(#lb2)"/>
<circle cx="26.8" cy="153.4" r="3.33" fill="url(#lb2)"/>
<circle cx="30" cy="158.6" r="3.42" fill="url(#lb)"/>
<circle cx="34" cy="164" r="3.5" fill="url(#lb)"/>
<circle cx="38" cy="170" r="3.58" fill="url(#lb3)"/>
<circle cx="42" cy="175" r="3.67" fill="url(#lb3)"/>
<circle cx="45.6" cy="180.4" r="3.75" fill="url(#db)"/>
<circle cx="49" cy="185" r="3.83" fill="url(#db)"/>
<circle cx="52.4" cy="189.6" r="3.92" fill="url(#db)"/>
<circle cx="55.6" cy="194.2" r="4" fill="url(#db)"/>
<path d="M33,107 C38,104.5 43,108 45.5,116 C47.5,128 47.5,150 46,161 C45,168 40,170.5 36,168.5 C33,160 33,120 33,107Z" fill="#df6fa2"/><path d="M41.5,140 C44.5,140 46.5,146 46,160 C45.2,167 41,170 37.5,168.6 C40.5,162 41.5,150 41.5,140Z" fill="#c8307a"/><path d="M29.5,111 C30,106.5 35.5,106 38.5,109 C41,114 42,130 42,145 C42,158 41,166 37.5,168.6 C33.5,169.6 30.5,165 30,157 C29.5,145 29.5,125 29.5,111Z" fill="url(#pA)" stroke="#e07fb0" stroke-width="0.4"/><path d="M19,107 C19,102.5 24,101 27.5,103 C30.5,106 31,118 31,132 C31,146 31,153 29,156.5 C25.5,157.8 22,154 21,148 C19.5,138 19,120 19,107Z" fill="url(#pA)" stroke="#e07fb0" stroke-width="0.4"/><path d="M27,103.5 C30,101.5 34,103 35,106.5 C33,108 30,108.5 28.5,106.5Z" fill="#f2a7c6" stroke="#e07aa8" stroke-width="0.4"/>
<polygon points="56.6,144 84.6,124.4 84.6,176.6 59,199" fill="url(#face2)"/>
<clipPath id="tc12"><polygon points="56.6,144 84.6,124.4 84.6,176.6 59,199"/></clipPath><g clip-path="url(#tc12)" fill="none" stroke-linecap="round"><path d="M56,124.4 h0.01 M86,199 h0.01 M57.02,145 C57.42,163.9 56.28,182.8 56.85,198 M58.17,144.39 C57.86,163.5 58.76,182.62 58.31,198 M60.2,143.08 C60.35,162.56 59.93,182.04 60.14,197.73 M61.23,142.04 C60.38,161.41 62.81,180.77 61.6,196.37 M63.71,140.67 C64.19,159.89 62.84,179.11 63.51,194.58 M64.63,139.49 C63.41,158.59 66.88,177.69 65.15,193.06 M67.38,138.23 C68.61,157.21 65.1,176.19 66.85,191.46 M67.9,137.18 C66.98,156.06 69.6,174.94 68.29,190.12 M69.28,136.09 C68.15,154.87 71.38,173.65 69.76,188.75 M71.59,134.7 C71.38,153.34 71.97,171.99 71.68,186.96 M73.54,133.58 C74.11,152.11 72.48,170.64 73.3,185.53 M75.17,132.17 C74.8,150.57 75.84,168.98 75.32,183.75 M76.85,130.91 C76.19,149.19 78.09,167.48 77.14,182.15 M78.85,129.74 C78.85,147.92 78.85,166.1 78.85,180.68 M80.2,128.65 C79.5,146.75 81.5,164.86 80.5,179.37 M81.69,127.59 C80.69,145.61 83.55,163.63 82.12,178.08 M83.72,126.38 C83.15,144.32 84.76,162.25 83.96,176.63 M85.71,125.4 C85.6,143.32 85.9,161.24 85.75,175.6 " stroke="url(#tb2)" stroke-width="0.8"/><path d="M56,124.4 h0.01 M86,199 h0.01 M56,145 C55.91,159.08 56.09,174.15 55.96,187.08 M59.29,143.08 C59.65,157.58 58.92,173.07 59.43,186.35 M60.75,142.04 C60.53,158.13 60.96,175.23 60.66,189.88 M62.66,140.67 C61.13,152.74 64.19,165.81 62.05,177.02 M66,138.23 C64.53,154.27 67.48,171.31 65.41,185.91 M68.91,136.09 C69.62,146.76 68.2,158.43 69.19,168.43 M72.45,133.58 C70.76,149.36 74.14,166.14 71.77,180.52 M76.29,130.91 C74.9,142.53 77.68,155.15 75.73,165.96 M79.65,128.65 C79.72,140.56 79.58,153.47 79.68,164.53 M81.27,127.59 C82.25,140.23 80.29,153.87 81.67,165.56 M83.11,126.38 C81.44,137.64 84.77,149.9 82.44,160.41 " stroke="url(#tg)" stroke-width="0.8"/></g>
<circle cx="49.3" cy="142.5" r="2" fill="url(#yb)"/><circle cx="50.6" cy="145.4" r="2" fill="url(#yb)"/><circle cx="49.3" cy="148.3" r="2" fill="url(#yb)"/><circle cx="50.6" cy="151.2" r="2" fill="url(#yb)"/><circle cx="49.3" cy="154.1" r="2" fill="url(#yb)"/>
<circle cx="71.3" cy="168" r="2" fill="url(#yb)"/><circle cx="72.6" cy="170.9" r="2" fill="url(#yb)"/><circle cx="71.3" cy="173.8" r="2" fill="url(#yb)"/><circle cx="72.6" cy="176.7" r="2" fill="url(#yb)"/><circle cx="71.3" cy="179.6" r="2" fill="url(#yb)"/>
<circle cx="59" cy="199" r="4.3" fill="url(#db)"/>
<circle cx="65" cy="193.4" r="4.3" fill="url(#db)"/>
<circle cx="71" cy="187.8" r="4.3" fill="url(#db)"/>
<circle cx="77.6" cy="182" r="4.3" fill="url(#db)"/>
<circle cx="84.4" cy="176.6" r="4.3" fill="url(#db)"/>
<polygon points="100,114 109,112.6 116.6,110 124,107.2 132.6,104.4 141.5,102.6 150,101.6 158.6,100.6 167,100 175.6,100 184,100.6 192.6,101.6 203,103 216,106 224.6,109.2 219.4,145.6 212,143.6 202,141.8 192.6,140.8 184,140.4 175.6,140.6 167,141.4 158.6,142.6 150.4,144.4 142,146.5 134,149 125.6,152.6 117.2,156.4 109,160 100,164" fill="url(#face3)"/>
<polygon points="100,113 150,101 150,145 100,164" fill="url(#shade)"/>
<clipPath id="tc13"><polygon points="100,114 109,112.6 116.6,110 124,107.2 132.6,104.4 141.5,102.6 150,101.6 158.6,100.6 167,100 175.6,100 184,100.6 192.6,101.6 203,103 216,106 224.6,109.2 219.4,145.6 212,143.6 202,141.8 192.6,140.8 184,140.4 175.6,140.6 167,141.4 158.6,142.6 150.4,144.4 142,146.5 134,149 125.6,152.6 117.2,156.4 109,160 100,164"/></clipPath><g clip-path="url(#tc13)" fill="none" stroke-linecap="round"><path d="M104,100 h0.01 M226,164 h0.01 M105.05,114.38 C105.52,131.12 104.18,147.87 104.85,161.22 M106.5,114.08 C105.82,130.63 107.76,147.18 106.79,160.36 M108.68,113.79 C108.76,130.15 108.53,146.51 108.65,159.53 M110.57,113.48 C111.42,129.71 108.99,145.93 110.21,158.84 M112.16,112.95 C113.09,129.12 110.42,145.3 111.75,158.16 M113.93,112.3 C114.54,128.41 112.78,144.52 113.66,157.33 M115.18,111.77 C115.15,127.83 115.24,143.89 115.2,156.65 M116.79,111.17 C116.45,127.17 117.43,143.17 116.94,155.89 M118.7,110.65 C119.45,126.61 117.31,142.57 118.38,155.25 M120.48,109.96 C121.1,125.87 119.32,141.78 120.21,154.42 M121.55,109.33 C120.8,125.2 122.94,141.07 121.87,153.67 M123.52,108.75 C123.78,124.58 123.02,140.41 123.4,152.98 M124.81,108.12 C124.15,123.9 126.05,139.68 125.1,152.21 M126.87,107.6 C127.25,123.31 126.16,139.02 126.71,151.49 M128.06,106.99 C126.91,122.64 130.2,138.29 128.56,150.7 M130.61,106.37 C130.96,121.95 129.96,137.53 130.46,149.88 M132.74,105.74 C133.51,121.24 131.32,136.75 132.41,149.04 M134.59,105.22 C135.13,120.62 133.58,136.01 134.36,148.21 M135.81,104.86 C135.09,120.17 137.16,135.48 136.13,147.6 M137.73,104.5 C137.37,119.75 138.39,134.99 137.88,147.05 M139.64,104.19 C140.1,119.37 138.78,134.55 139.44,146.57 M141.11,103.88 C141.47,119.01 140.44,134.13 140.95,146.09 M142.17,103.6 C141.78,118.67 142.91,133.74 142.34,145.66 M143.29,103.44 C142.34,118.44 145.07,133.43 143.7,145.29 M145.44,103.23 C145.36,118.15 145.58,133.06 145.47,144.85 M147.22,103.01 C146.8,117.83 147.99,132.66 147.4,144.36 M149.29,102.8 C149.72,117.55 148.5,132.3 149.11,143.94 M150.93,102.64 C151.97,117.32 149.01,132.01 150.49,143.59 M152.05,102.43 C151.45,117.04 153.18,131.65 152.31,143.17 M153.69,102.24 C153.15,116.79 154.68,131.34 153.92,142.81 M154.86,102.08 C153.81,116.58 156.79,131.08 155.3,142.51 M157.37,101.88 C158.06,116.31 156.08,130.75 157.07,142.12 M158.58,101.67 C158.05,116.05 159.57,130.42 158.81,141.74 M159.84,101.54 C158.86,115.87 161.66,130.2 160.26,141.48 M161.32,101.43 C160.15,115.72 163.51,130.01 161.83,141.26 M163.84,101.32 C164.79,115.57 162.08,129.82 163.43,141.03 M165.48,101.19 C166.25,115.4 164.06,129.61 165.16,140.78 M166.72,101.05 C165.78,115.21 168.47,129.37 167.12,140.5 M169.05,101 C169,115.1 169.15,129.2 169.07,140.29 M170.36,101 C169.64,115.05 171.7,129.1 170.67,140.14 M173.12,101 C174.18,114.98 171.15,128.97 172.66,139.95 M174.78,101 C175.64,114.93 173.19,128.85 174.41,139.79 M176.2,101 C176.99,114.88 174.74,128.76 175.87,139.65 M177.21,101.07 C176.7,114.9 178.16,128.72 177.43,139.58 M178.39,101.17 C177.4,114.95 180.23,128.73 178.81,139.54 M181.09,101.31 C181.87,115.02 179.65,128.74 180.76,139.5 M182.46,101.45 C181.93,115.1 183.44,128.75 182.69,139.45 M184.66,101.55 C185.91,115.15 182.34,128.76 184.12,139.42 M185.48,101.74 C184.23,115.29 187.8,128.84 186.02,139.45 M188.02,101.91 C189.13,115.43 185.98,128.94 187.55,139.53 M190.02,102.14 C191.27,115.61 187.72,129.07 189.49,139.62 M191.14,102.34 C191.04,115.76 191.32,129.19 191.18,139.69 M192.65,102.51 C192.59,115.9 192.76,129.29 192.67,139.76 M194.77,102.73 C195.58,116.09 193.27,129.45 194.42,139.9 M196.6,102.97 C197.57,116.31 194.8,129.65 196.18,140.09 M197.59,103.2 C196.87,116.52 198.93,129.85 197.9,140.27 M199.03,103.42 C197.83,116.73 201.27,130.04 199.55,140.45 M200.63,103.62 C199.76,116.91 202.25,130.21 201.01,140.6 M202.98,103.89 C202.95,117.16 203.04,130.44 203,140.83 M203.99,104.16 C202.76,117.44 206.29,130.72 204.52,141.1 M205.63,104.52 C204.5,117.78 207.73,131.03 206.11,141.39 M208.02,104.9 C208.63,118.13 206.9,131.35 207.76,141.68 M210.11,105.36 C210.95,118.55 208.56,131.74 209.76,142.04 M211.71,105.79 C211.93,118.95 211.28,132.1 211.61,142.38 M212.98,106.22 C211.86,119.36 215.06,132.5 213.46,142.77 M215.53,106.63 C216.23,119.79 214.25,132.96 215.24,143.24 M217.23,107.11 C217.41,120.29 216.89,133.47 217.15,143.76 M219.63,107.85 C220.77,120.96 217.52,134.07 219.14,144.3 M220.99,108.59 C220.68,121.54 221.57,134.5 221.12,144.6 M223.15,109.22 C223.94,121.95 221.68,134.69 222.81,144.6 M224.54,109.84 C224.71,122.35 224.24,134.87 224.47,144.6 M225.51,110.2 C224.61,122.59 227.16,134.98 225.89,144.6 " stroke="url(#tb)" stroke-width="0.8"/><path d="M104,100 h0.01 M226,164 h0.01 M104,114.38 C103.13,126.87 104.87,140.37 103.65,151.94 M107.8,113.79 C106.47,123.23 109.13,133.67 107.26,142.62 M109.36,113.48 C109.11,125.13 109.6,137.77 109.26,148.61 M110.9,112.95 C109.63,125.72 112.18,139.49 110.4,151.3 M114.35,111.77 C115.61,124.13 113.09,137.49 114.85,148.94 M117.53,110.65 C118.68,124.25 116.38,138.84 117.99,151.36 M121.02,109.33 C119.86,120.22 122.19,132.1 120.56,142.29 M122.55,108.75 C122.41,118.89 122.7,130.03 122.5,139.58 M124.25,108.12 C123.3,117.09 125.2,127.06 123.87,135.61 M127.71,106.99 C129.26,115.58 126.15,125.18 128.33,133.4 M131.56,105.74 C132.95,114.59 130.17,124.43 132.12,132.88 M135.28,104.86 C136.08,115.85 134.47,127.85 135.6,138.13 M138.59,104.19 C137.38,112.34 139.8,121.49 138.11,129.34 M141.49,103.6 C141.27,111.58 141.71,120.56 141.4,128.26 M144.62,103.23 C143.1,112.59 146.14,122.94 144.01,131.82 M148.26,102.8 C148.17,111.67 148.35,121.54 148.22,130 M151.46,102.43 C152.72,112.73 150.21,124.04 151.97,133.73 M154.45,102.08 C154.08,113.19 154.82,125.3 154.31,135.68 M157.96,101.67 C157.36,111.01 158.56,121.35 157.72,130.22 M160.98,101.43 C160.58,109.14 161.38,117.85 160.82,125.31 M162.58,101.32 C162.37,113.4 162.79,126.49 162.5,137.71 M164.31,101.19 C162.97,109.84 165.64,119.49 163.77,127.77 M168.22,101 C166.96,109.83 169.48,119.65 167.72,128.08 M171.81,101 C171.89,110.09 171.74,120.19 171.84,128.84 M173.56,101 C174,112.34 173.13,124.67 173.74,135.25 M175.02,101 C175.14,110.48 174.9,120.97 175.07,129.95 M176.58,101.07 C178.24,108.3 174.92,116.53 177.25,123.58 M177.96,101.17 C178.78,111.48 177.14,122.8 178.29,132.49 M181.84,101.45 C182.62,111.88 181.06,123.32 182.15,133.12 M185.17,101.74 C184.99,108.52 185.34,116.31 185.09,122.99 M188.64,102.14 C188.34,112.42 188.94,123.71 188.52,133.38 M191.82,102.51 C191.38,109.98 192.27,118.46 191.64,125.72 M193.57,102.73 C191.9,110.13 195.25,118.53 192.9,125.73 M195.33,102.97 C194.64,111.88 196.03,121.79 195.06,130.29 M198.7,103.42 C200.35,114.06 197.05,125.69 199.36,135.66 M202.15,103.89 C201.27,113.28 203.02,123.68 201.8,132.59 M205.26,104.52 C204.26,114.34 206.27,125.16 204.86,134.43 M208.91,105.36 C210.05,115.04 207.77,125.71 209.36,134.86 M210.76,105.79 C211.36,113.43 210.16,122.08 211,129.49 M212.61,106.22 C212.96,115.67 212.26,126.12 212.75,135.08 M216.3,107.11 C216.3,115.51 216.3,124.91 216.3,132.97 M220.27,108.59 C220.94,115.27 219.61,122.95 220.54,129.53 M223.62,109.84 C223.3,119.29 223.95,129.74 223.5,138.7 " stroke="url(#tg)" stroke-width="0.8"/></g>
<polygon points="213,105.5 224.6,109.2 222,146 213,143.6" fill="#fbe6b0" opacity="0.55"/>
<circle cx="120.73" cy="141.5" r="1.9" fill="url(#yb)"/><circle cx="121.9" cy="144.1" r="1.9" fill="url(#yb)"/><circle cx="120.73" cy="146.7" r="1.9" fill="url(#yb)"/><circle cx="121.9" cy="149.3" r="1.9" fill="url(#yb)"/><circle cx="120.73" cy="151.9" r="1.9" fill="url(#yb)"/>
<circle cx="163.87" cy="105" r="2" fill="url(#yb)"/><circle cx="165.3" cy="108" r="2" fill="url(#yb)"/><circle cx="163.87" cy="111" r="2" fill="url(#yb)"/><circle cx="165.3" cy="114" r="2" fill="url(#yb)"/><circle cx="163.87" cy="117" r="2" fill="url(#yb)"/>
<circle cx="188.13" cy="102.5" r="1.7" fill="url(#yb)"/><circle cx="189.3" cy="104.9" r="1.7" fill="url(#yb)"/><circle cx="188.13" cy="107.3" r="1.7" fill="url(#yb)"/><circle cx="189.3" cy="109.7" r="1.7" fill="url(#yb)"/>
<circle cx="219.13" cy="109.5" r="1.7" fill="url(#yb)"/><circle cx="220.3" cy="111.8" r="1.7" fill="url(#yb)"/><circle cx="219.13" cy="114.1" r="1.7" fill="url(#yb)"/><circle cx="220.3" cy="116.4" r="1.7" fill="url(#yb)"/>
<circle cx="109" cy="160" r="4.3" fill="url(#db)"/>
<circle cx="117.2" cy="156.4" r="4.3" fill="url(#db)"/>
<circle cx="125.6" cy="152.6" r="4.3" fill="url(#db)"/>
<circle cx="134" cy="149" r="4.3" fill="url(#db)"/>
<circle cx="150.4" cy="144.4" r="4.3" fill="url(#db)"/>
<circle cx="158.6" cy="142.6" r="4.3" fill="url(#db)"/>
<circle cx="167" cy="141.4" r="4.3" fill="url(#db)"/>
<circle cx="175.6" cy="140.6" r="4.3" fill="url(#db)"/>
<circle cx="184" cy="140.4" r="4.3" fill="url(#db)"/>
<circle cx="192.6" cy="140.8" r="4.3" fill="url(#db)"/>
<circle cx="212" cy="143.6" r="4.3" fill="url(#db)"/>
<circle cx="219.4" cy="145.6" r="4.3" fill="url(#db)"/>
<path d="M137.4,110.4 C137.4,102.73 149.2,102.73 149.2,110.4 L148.8,145.6 C148.8,153.27 138,153.27 138,145.6 Z" fill="url(#pB)"/><path d="M138.2,137.4 C140.35,135.52 142.36,142.1 142.36,150.5 C139.76,151 138.2,146.8 138.2,137.4 Z" fill="#bf2470"/><path d="M140.7,109.2 C139.76,118.6 140.94,128 142.36,133.64" fill="none" stroke="#fbe3ee" stroke-width="0.7" opacity="0.9"/>
<path d="M194.2,107.8 C194.2,95.71 212.8,95.71 212.8,107.8 L212.4,136.7 C212.4,148.79 194.8,148.79 194.8,136.7 Z" fill="url(#pB)"/><path d="M195,131.75 C198.85,129.85 202.01,136.5 202.01,145 C197.92,145.5 195,141.25 195,131.75 Z" fill="#bf2470"/><path d="M199.41,103.25 C197.92,112.75 199.78,122.25 202.01,127.95" fill="none" stroke="#fbe3ee" stroke-width="0.7" opacity="0.9"/>
<circle cx="109" cy="112.6" r="4.4" fill="url(#db)"/>
<circle cx="116.6" cy="110" r="4.4" fill="url(#db)"/>
<circle cx="124" cy="107.2" r="4.4" fill="url(#db)"/>
<circle cx="132.6" cy="104.4" r="4.4" fill="url(#db)"/>
<circle cx="150" cy="101.6" r="4.4" fill="url(#db)"/>
<circle cx="158.6" cy="100.6" r="4.4" fill="url(#db)"/>
<circle cx="167" cy="100" r="4.4" fill="url(#db)"/>
<circle cx="175.6" cy="100" r="4.4" fill="url(#db)"/>
<circle cx="184" cy="100.6" r="4.4" fill="url(#db)"/>
<circle cx="192.6" cy="101.6" r="4.4" fill="url(#db)"/>
<circle cx="216" cy="106" r="4.4" fill="url(#db)"/>
<circle cx="224.6" cy="109.2" r="4.4" fill="url(#db)"/>
<path d="M87,114 C92,111.8 98,110.8 103.4,111.2 C104.4,120 104.6,135 104,150 C103.6,162 103,172 102.6,178.4 C99,179.4 95,178.6 92.5,176.5 C88.5,172.5 85.6,165 84.6,157 C83.4,146 83.4,128 87,114Z" fill="url(#pC)"/><path d="M85.6,153 C88.5,151 92.5,154 93.5,161 C94.4,168 94.2,173.5 93,176.8 C89,173 86.4,165 85.6,153Z" fill="#c22a6e"/><path d="M100.5,112.5 C92,116 91,126 93.6,138 C96,150 96.4,164 97.6,177.6" fill="none" stroke="#f7bfd2" stroke-width="0.5"/><path d="M86.5,114.5 C92,112 98,110.8 103.4,111.2 C98,113.5 94.5,117 93,122 C91,119 88.8,116.4 86.5,114.5Z" fill="#f08fb0" opacity="0.8"/>
<circle cx="56.6" cy="144" r="4.4" fill="url(#db)"/>
<circle cx="63.6" cy="139" r="4.4" fill="url(#db)"/>
<circle cx="70.4" cy="134" r="4.4" fill="url(#db)"/>
<circle cx="77.6" cy="129" r="4.4" fill="url(#db)"/>
<circle cx="84.6" cy="124.4" r="4.4" fill="url(#db)"/>
<path d="M38.84,79.02C39.27,77.82 39.47,73.47 41.41,71.83C43.35,70.19 47.57,70.42 50.48,69.19C53.39,67.95 56.01,66.75 58.87,64.43C61.74,62.1 66.19,56.77 67.65,55.23" fill="none" stroke="#3c3c3c" stroke-width="0.75"/><path d="M41.41,43.6C42.65,45.81 45.94,53.35 48.85,56.82C51.77,60.29 57.2,63.16 58.87,64.43" fill="none" stroke="#3c3c3c" stroke-width="0.75"/><path d="M66.03,65.8C65.51,67.69 63.44,74.47 62.88,77.11C62.33,79.76 62.72,80.9 62.69,81.66" fill="none" stroke="#3c3c3c" stroke-width="0.75"/><path d="M97.52,18.97C97.52,20.88 98,26.43 97.52,30.39C97.04,34.36 95.85,38.35 94.66,42.76C93.46,47.16 91.48,53.15 90.36,56.82C89.25,60.48 88.37,63.42 87.98,64.75" fill="none" stroke="#3c3c3c" stroke-width="0.75"/><path d="M90.36,56.82C90.76,58.76 93.62,63.51 92.75,68.45C91.87,73.38 87.9,81.66 85.11,86.42C82.33,91.17 78.2,94.08 76.05,96.99C73.9,99.89 73.03,101.48 72.23,103.86C71.44,106.24 71.44,110.02 71.28,111.26" fill="none" stroke="#3c3c3c" stroke-width="0.75"/><path d="M110.88,34.83C111.43,36.59 112.15,42.76 114.22,45.4C116.28,48.04 121.66,48.34 123.28,50.69C124.9,53.03 123.55,56.82 123.95,59.46C124.35,62.1 126.1,64.61 125.67,66.54C125.24,68.48 122.09,70.33 121.37,71.09" fill="none" stroke="#3c3c3c" stroke-width="0.75"/><path d="M102.96,55.97C104.47,56.85 110.03,58.91 112.02,61.26C114.01,63.6 115.52,66.95 114.89,70.03C114.25,73.11 109.99,76.76 108.21,79.76C106.42,82.75 104.87,86.63 104.2,88" fill="none" stroke="#3c3c3c" stroke-width="0.75"/><path d="M131.58,77.11C132.27,78.58 135.48,83.63 135.69,85.89C135.89,88.14 133.3,89.85 132.82,90.64" fill="none" stroke="#3c3c3c" stroke-width="0.75"/><path d="M125.67,66.54C126.65,68.31 130.6,75.35 131.58,77.11" fill="none" stroke="#3c3c3c" stroke-width="0.75"/><path d="M131.11,46.25C131.79,47.3 133.62,50.53 135.21,52.59C136.8,54.65 139.22,56.59 140.65,58.62C142.08,60.64 143.03,63.02 143.8,64.75C144.56,66.47 144.99,68.27 145.23,68.97" fill="none" stroke="#3c3c3c" stroke-width="0.75"/><path d="M186.45,36.21C187.05,38.09 189.39,43.78 190.08,47.52C190.76,51.25 191.16,54.42 190.55,58.62C189.95,62.81 187.8,69.45 186.45,72.67C185.1,75.9 183.11,77.08 182.44,77.96" fill="none" stroke="#3c3c3c" stroke-width="0.75"/><polygon points="45.01,43.6 43.21,46.72 39.61,46.72 37.81,43.6 39.61,40.49 43.21,40.49" fill="#3fae3c" stroke="#2f8f2f" stroke-width="0.4"/><polygon points="52.45,56.82 50.65,59.94 47.05,59.94 45.25,56.82 47.05,53.7 50.65,53.7" fill="#3fae3c" stroke="#2f8f2f" stroke-width="0.4"/><polygon points="71.25,55.23 69.45,58.35 65.85,58.35 64.05,55.23 65.85,52.11 69.45,52.11" fill="#3fae3c" stroke="#2f8f2f" stroke-width="0.4"/><polygon points="62.47,64.43 60.67,67.55 57.07,67.55 55.27,64.43 57.07,61.31 60.67,61.31" fill="#3fae3c" stroke="#2f8f2f" stroke-width="0.4"/><polygon points="69.63,65.8 67.83,68.92 64.23,68.92 62.43,65.8 64.23,62.69 67.83,62.69" fill="#3fae3c" stroke="#2f8f2f" stroke-width="0.4"/><polygon points="54.08,69.19 52.28,72.3 48.68,72.3 46.88,69.19 48.68,66.07 52.28,66.07" fill="#3fae3c" stroke="#2f8f2f" stroke-width="0.4"/><polygon points="45.01,71.83 43.21,74.95 39.61,74.95 37.81,71.83 39.61,68.71 43.21,68.71" fill="#3fae3c" stroke="#2f8f2f" stroke-width="0.4"/><polygon points="66.48,77.11 64.68,80.23 61.08,80.23 59.28,77.11 61.08,74 64.68,74" fill="#3fae3c" stroke="#2f8f2f" stroke-width="0.4"/><polygon points="101.12,18.97 99.32,22.09 95.72,22.09 93.92,18.97 95.72,15.86 99.32,15.86" fill="#3fae3c" stroke="#2f8f2f" stroke-width="0.4"/><polygon points="101.12,30.39 99.32,33.51 95.72,33.51 93.92,30.39 95.72,27.27 99.32,27.27" fill="#3fae3c" stroke="#2f8f2f" stroke-width="0.4"/><polygon points="98.26,42.76 96.46,45.88 92.86,45.88 91.06,42.76 92.86,39.64 96.46,39.64" fill="#3fae3c" stroke="#2f8f2f" stroke-width="0.4"/><polygon points="93.96,56.82 92.16,59.94 88.56,59.94 86.76,56.82 88.56,53.7 92.16,53.7" fill="#3fae3c" stroke="#2f8f2f" stroke-width="0.4"/><polygon points="96.35,68.45 94.55,71.56 90.95,71.56 89.15,68.45 90.95,65.33 94.55,65.33" fill="#3fae3c" stroke="#2f8f2f" stroke-width="0.4"/><polygon points="88.71,86.42 86.91,89.53 83.31,89.53 81.51,86.42 83.31,83.3 86.91,83.3" fill="#3fae3c" stroke="#2f8f2f" stroke-width="0.4"/><polygon points="79.65,96.99 77.85,100.11 74.25,100.11 72.45,96.99 74.25,93.87 77.85,93.87" fill="#3fae3c" stroke="#2f8f2f" stroke-width="0.4"/><polygon points="114.48,34.83 112.68,37.95 109.08,37.95 107.28,34.83 109.08,31.71 112.68,31.71" fill="#3fae3c" stroke="#2f8f2f" stroke-width="0.4"/><polygon points="117.82,45.4 116.02,48.52 112.42,48.52 110.62,45.4 112.42,42.28 116.02,42.28" fill="#3fae3c" stroke="#2f8f2f" stroke-width="0.4"/><polygon points="126.88,50.69 125.08,53.8 121.48,53.8 119.68,50.69 121.48,47.57 125.08,47.57" fill="#3fae3c" stroke="#2f8f2f" stroke-width="0.4"/><polygon points="106.56,55.97 104.76,59.09 101.16,59.09 99.36,55.97 101.16,52.85 104.76,52.85" fill="#3fae3c" stroke="#2f8f2f" stroke-width="0.4"/><polygon points="115.62,61.26 113.82,64.38 110.22,64.38 108.42,61.26 110.22,58.14 113.82,58.14" fill="#3fae3c" stroke="#2f8f2f" stroke-width="0.4"/><polygon points="127.55,59.46 125.75,62.58 122.15,62.58 120.35,59.46 122.15,56.34 125.75,56.34" fill="#3fae3c" stroke="#2f8f2f" stroke-width="0.4"/><polygon points="118.49,70.03 116.69,73.15 113.09,73.15 111.29,70.03 113.09,66.91 116.69,66.91" fill="#3fae3c" stroke="#2f8f2f" stroke-width="0.4"/><polygon points="129.27,66.54 127.47,69.66 123.87,69.66 122.07,66.54 123.87,63.43 127.47,63.43" fill="#3fae3c" stroke="#2f8f2f" stroke-width="0.4"/><polygon points="111.81,79.76 110.01,82.87 106.41,82.87 104.61,79.76 106.41,76.64 110.01,76.64" fill="#3fae3c" stroke="#2f8f2f" stroke-width="0.4"/><polygon points="135.18,77.11 133.38,80.23 129.78,80.23 127.98,77.11 129.78,74 133.38,74" fill="#3fae3c" stroke="#2f8f2f" stroke-width="0.4"/><polygon points="139.29,85.89 137.49,89.01 133.89,89.01 132.09,85.89 133.89,82.77 137.49,82.77" fill="#3fae3c" stroke="#2f8f2f" stroke-width="0.4"/><polygon points="190.05,36.21 188.25,39.32 184.65,39.32 182.85,36.21 184.65,33.09 188.25,33.09" fill="#3fae3c" stroke="#2f8f2f" stroke-width="0.4"/><polygon points="193.68,47.52 191.88,50.63 188.28,50.63 186.48,47.52 188.28,44.4 191.88,44.4" fill="#3fae3c" stroke="#2f8f2f" stroke-width="0.4"/><polygon points="194.15,58.62 192.35,61.73 188.75,61.73 186.95,58.62 188.75,55.5 192.35,55.5" fill="#3fae3c" stroke="#2f8f2f" stroke-width="0.4"/><polygon points="190.05,72.67 188.25,75.79 184.65,75.79 182.85,72.67 184.65,69.56 188.25,69.56" fill="#3fae3c" stroke="#2f8f2f" stroke-width="0.4"/><polygon points="134.11,46.25 132.61,48.85 129.61,48.85 128.11,46.25 129.61,43.65 132.61,43.65" fill="#6aa51c" stroke="#4f8414" stroke-width="0.4"/><polygon points="138.21,52.59 136.71,55.19 133.71,55.19 132.21,52.59 133.71,49.99 136.71,49.99" fill="#6aa51c" stroke="#4f8414" stroke-width="0.4"/><polygon points="143.65,58.62 142.15,61.21 139.15,61.21 137.65,58.62 139.15,56.02 142.15,56.02" fill="#6aa51c" stroke="#4f8414" stroke-width="0.4"/><polygon points="146.8,64.75 145.3,67.34 142.3,67.34 140.8,64.75 142.3,62.15 145.3,62.15" fill="#6aa51c" stroke="#4f8414" stroke-width="0.4"/></g></g>
</svg>
</body></html>
